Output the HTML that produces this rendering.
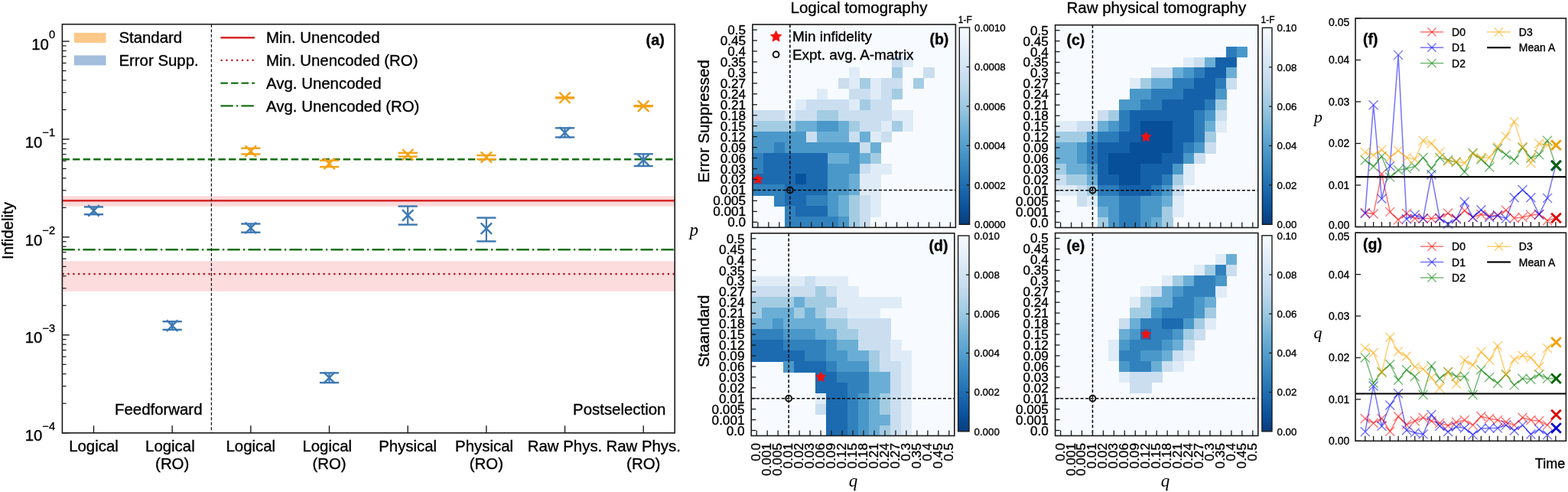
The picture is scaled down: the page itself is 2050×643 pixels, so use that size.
<!DOCTYPE html>
<html><head><meta charset="utf-8"><title>Figure</title>
<style>html,body{margin:0;padding:0;background:#fff;}svg{display:block;} svg text{stroke:#000;stroke-width:0.35px;}</style></head>
<body><svg width="2050" height="643" viewBox="0 0 2050 643">
<rect width="2050" height="643" fill="#ffffff"/>
<rect x="81.4" y="256.4" width="800.8" height="13.2" fill="#fbd9d9" stroke="none" stroke-width="0" />
<rect x="81.4" y="341.3" width="800.8" height="39.5" fill="#fcdcdc" stroke="none" stroke-width="0" />
<line x1="81.4" y1="262.2" x2="882.2" y2="262.2" stroke="#d62728" stroke-width="2.4" />
<line x1="82.7" y1="358.1" x2="882.2" y2="358.1" stroke="#b81c26" stroke-width="2.7" stroke-dasharray="0.01 6.81" stroke-linecap="round"/>
<line x1="81.4" y1="208.2" x2="882.2" y2="208.2" stroke="#167016" stroke-width="2.6" stroke-dasharray="9.5 4.1"/>
<line x1="81.4" y1="326.2" x2="882.2" y2="326.2" stroke="#167016" stroke-width="2.6" stroke-dasharray="16.4 4.1 2.4 4.1"/>
<line x1="276.4" y1="31.7" x2="276.4" y2="565.8" stroke="#111" stroke-width="1.2" stroke-dasharray="4 2.5"/>
<line x1="122.5" y1="270.4" x2="122.5" y2="280.2" stroke="#3d78b2" stroke-width="2.2" />
<line x1="109.9" y1="270.4" x2="135.1" y2="270.4" stroke="#3d78b2" stroke-width="2.4" />
<line x1="109.9" y1="280.2" x2="135.1" y2="280.2" stroke="#3d78b2" stroke-width="2.4" />
<line x1="115.3" y1="268.2" x2="129.7" y2="282.6" stroke="#3d78b2" stroke-width="2.4" />
<line x1="115.3" y1="282.6" x2="129.7" y2="268.2" stroke="#3d78b2" stroke-width="2.4" />
<line x1="225.17" y1="420.2" x2="225.17" y2="430.9" stroke="#3d78b2" stroke-width="2.2" />
<line x1="212.57" y1="420.2" x2="237.77" y2="420.2" stroke="#3d78b2" stroke-width="2.4" />
<line x1="212.57" y1="430.9" x2="237.77" y2="430.9" stroke="#3d78b2" stroke-width="2.4" />
<line x1="217.97" y1="418.4" x2="232.37" y2="432.8" stroke="#3d78b2" stroke-width="2.4" />
<line x1="217.97" y1="432.8" x2="232.37" y2="418.4" stroke="#3d78b2" stroke-width="2.4" />
<line x1="327.84" y1="292.5" x2="327.84" y2="303.7" stroke="#3d78b2" stroke-width="2.2" />
<line x1="315.24" y1="292.5" x2="340.44" y2="292.5" stroke="#3d78b2" stroke-width="2.4" />
<line x1="315.24" y1="303.7" x2="340.44" y2="303.7" stroke="#3d78b2" stroke-width="2.4" />
<line x1="320.64" y1="290.7" x2="335.04" y2="305.1" stroke="#3d78b2" stroke-width="2.4" />
<line x1="320.64" y1="305.1" x2="335.04" y2="290.7" stroke="#3d78b2" stroke-width="2.4" />
<line x1="430.51" y1="487.4" x2="430.51" y2="500.1" stroke="#3d78b2" stroke-width="2.2" />
<line x1="417.91" y1="487.4" x2="443.11" y2="487.4" stroke="#3d78b2" stroke-width="2.4" />
<line x1="417.91" y1="500.1" x2="443.11" y2="500.1" stroke="#3d78b2" stroke-width="2.4" />
<line x1="423.31" y1="486.4" x2="437.71" y2="500.8" stroke="#3d78b2" stroke-width="2.4" />
<line x1="423.31" y1="500.8" x2="437.71" y2="486.4" stroke="#3d78b2" stroke-width="2.4" />
<line x1="533.18" y1="269.6" x2="533.18" y2="293.6" stroke="#3d78b2" stroke-width="2.2" />
<line x1="520.58" y1="269.6" x2="545.78" y2="269.6" stroke="#3d78b2" stroke-width="2.4" />
<line x1="520.58" y1="293.6" x2="545.78" y2="293.6" stroke="#3d78b2" stroke-width="2.4" />
<line x1="525.98" y1="274.2" x2="540.38" y2="288.6" stroke="#3d78b2" stroke-width="2.4" />
<line x1="525.98" y1="288.6" x2="540.38" y2="274.2" stroke="#3d78b2" stroke-width="2.4" />
<line x1="635.85" y1="284.6" x2="635.85" y2="315.4" stroke="#3d78b2" stroke-width="2.2" />
<line x1="623.25" y1="284.6" x2="648.45" y2="284.6" stroke="#3d78b2" stroke-width="2.4" />
<line x1="623.25" y1="315.4" x2="648.45" y2="315.4" stroke="#3d78b2" stroke-width="2.4" />
<line x1="628.65" y1="291.4" x2="643.05" y2="305.8" stroke="#3d78b2" stroke-width="2.4" />
<line x1="628.65" y1="305.8" x2="643.05" y2="291.4" stroke="#3d78b2" stroke-width="2.4" />
<line x1="738.52" y1="167.3" x2="738.52" y2="179.4" stroke="#3d78b2" stroke-width="2.2" />
<line x1="725.92" y1="167.3" x2="751.12" y2="167.3" stroke="#3d78b2" stroke-width="2.4" />
<line x1="725.92" y1="179.4" x2="751.12" y2="179.4" stroke="#3d78b2" stroke-width="2.4" />
<line x1="731.32" y1="166.1" x2="745.72" y2="180.5" stroke="#3d78b2" stroke-width="2.4" />
<line x1="731.32" y1="180.5" x2="745.72" y2="166.1" stroke="#3d78b2" stroke-width="2.4" />
<line x1="841.19" y1="201.3" x2="841.19" y2="217" stroke="#3d78b2" stroke-width="2.2" />
<line x1="828.59" y1="201.3" x2="853.79" y2="201.3" stroke="#3d78b2" stroke-width="2.4" />
<line x1="828.59" y1="217" x2="853.79" y2="217" stroke="#3d78b2" stroke-width="2.4" />
<line x1="833.99" y1="201.9" x2="848.39" y2="216.3" stroke="#3d78b2" stroke-width="2.4" />
<line x1="833.99" y1="216.3" x2="848.39" y2="201.9" stroke="#3d78b2" stroke-width="2.4" />
<line x1="327.84" y1="193.7" x2="327.84" y2="201.4" stroke="#f3a318" stroke-width="2.2" />
<line x1="315.24" y1="193.7" x2="340.44" y2="193.7" stroke="#f3a318" stroke-width="2.4" />
<line x1="315.24" y1="201.4" x2="340.44" y2="201.4" stroke="#f3a318" stroke-width="2.4" />
<line x1="320.64" y1="190.4" x2="335.04" y2="204.8" stroke="#f3a318" stroke-width="2.4" />
<line x1="320.64" y1="204.8" x2="335.04" y2="190.4" stroke="#f3a318" stroke-width="2.4" />
<line x1="430.51" y1="209.7" x2="430.51" y2="218.1" stroke="#f3a318" stroke-width="2.2" />
<line x1="417.91" y1="209.7" x2="443.11" y2="209.7" stroke="#f3a318" stroke-width="2.4" />
<line x1="417.91" y1="218.1" x2="443.11" y2="218.1" stroke="#f3a318" stroke-width="2.4" />
<line x1="423.31" y1="206.7" x2="437.71" y2="221.1" stroke="#f3a318" stroke-width="2.4" />
<line x1="423.31" y1="221.1" x2="437.71" y2="206.7" stroke="#f3a318" stroke-width="2.4" />
<line x1="533.18" y1="199.8" x2="533.18" y2="204.6" stroke="#f3a318" stroke-width="2.2" />
<line x1="520.58" y1="199.8" x2="545.78" y2="199.8" stroke="#f3a318" stroke-width="2.4" />
<line x1="520.58" y1="204.6" x2="545.78" y2="204.6" stroke="#f3a318" stroke-width="2.4" />
<line x1="525.98" y1="195" x2="540.38" y2="209.4" stroke="#f3a318" stroke-width="2.4" />
<line x1="525.98" y1="209.4" x2="540.38" y2="195" stroke="#f3a318" stroke-width="2.4" />
<line x1="635.85" y1="203" x2="635.85" y2="208.1" stroke="#f3a318" stroke-width="2.2" />
<line x1="623.25" y1="203" x2="648.45" y2="203" stroke="#f3a318" stroke-width="2.4" />
<line x1="623.25" y1="208.1" x2="648.45" y2="208.1" stroke="#f3a318" stroke-width="2.4" />
<line x1="628.65" y1="198.3" x2="643.05" y2="212.7" stroke="#f3a318" stroke-width="2.4" />
<line x1="628.65" y1="212.7" x2="643.05" y2="198.3" stroke="#f3a318" stroke-width="2.4" />
<line x1="738.52" y1="127.3" x2="738.52" y2="128.3" stroke="#f3a318" stroke-width="2.2" />
<line x1="725.92" y1="127.3" x2="751.12" y2="127.3" stroke="#f3a318" stroke-width="2.4" />
<line x1="725.92" y1="128.3" x2="751.12" y2="128.3" stroke="#f3a318" stroke-width="2.4" />
<line x1="731.32" y1="120.6" x2="745.72" y2="135" stroke="#f3a318" stroke-width="2.4" />
<line x1="731.32" y1="135" x2="745.72" y2="120.6" stroke="#f3a318" stroke-width="2.4" />
<line x1="841.19" y1="138.1" x2="841.19" y2="139.1" stroke="#f3a318" stroke-width="2.2" />
<line x1="828.59" y1="138.1" x2="853.79" y2="138.1" stroke="#f3a318" stroke-width="2.4" />
<line x1="828.59" y1="139.1" x2="853.79" y2="139.1" stroke="#f3a318" stroke-width="2.4" />
<line x1="833.99" y1="131.4" x2="848.39" y2="145.8" stroke="#f3a318" stroke-width="2.4" />
<line x1="833.99" y1="145.8" x2="848.39" y2="131.4" stroke="#f3a318" stroke-width="2.4" />
<rect x="81.4" y="31.7" width="800.8" height="534.1" fill="none" stroke="#1a1a1a" stroke-width="1.6" />
<line x1="81.4" y1="565.72" x2="90.7" y2="565.72" stroke="#1a1a1a" stroke-width="1.4" />
<line x1="81.4" y1="527.21" x2="86.6" y2="527.21" stroke="#1a1a1a" stroke-width="1.2" />
<line x1="81.4" y1="504.68" x2="86.6" y2="504.68" stroke="#1a1a1a" stroke-width="1.2" />
<line x1="81.4" y1="488.7" x2="86.6" y2="488.7" stroke="#1a1a1a" stroke-width="1.2" />
<line x1="81.4" y1="476.3" x2="86.6" y2="476.3" stroke="#1a1a1a" stroke-width="1.2" />
<line x1="81.4" y1="466.17" x2="86.6" y2="466.17" stroke="#1a1a1a" stroke-width="1.2" />
<line x1="81.4" y1="457.61" x2="86.6" y2="457.61" stroke="#1a1a1a" stroke-width="1.2" />
<line x1="81.4" y1="450.19" x2="86.6" y2="450.19" stroke="#1a1a1a" stroke-width="1.2" />
<line x1="81.4" y1="443.64" x2="86.6" y2="443.64" stroke="#1a1a1a" stroke-width="1.2" />
<line x1="81.4" y1="437.79" x2="90.7" y2="437.79" stroke="#1a1a1a" stroke-width="1.4" />
<line x1="81.4" y1="399.28" x2="86.6" y2="399.28" stroke="#1a1a1a" stroke-width="1.2" />
<line x1="81.4" y1="376.75" x2="86.6" y2="376.75" stroke="#1a1a1a" stroke-width="1.2" />
<line x1="81.4" y1="360.77" x2="86.6" y2="360.77" stroke="#1a1a1a" stroke-width="1.2" />
<line x1="81.4" y1="348.37" x2="86.6" y2="348.37" stroke="#1a1a1a" stroke-width="1.2" />
<line x1="81.4" y1="338.24" x2="86.6" y2="338.24" stroke="#1a1a1a" stroke-width="1.2" />
<line x1="81.4" y1="329.68" x2="86.6" y2="329.68" stroke="#1a1a1a" stroke-width="1.2" />
<line x1="81.4" y1="322.26" x2="86.6" y2="322.26" stroke="#1a1a1a" stroke-width="1.2" />
<line x1="81.4" y1="315.71" x2="86.6" y2="315.71" stroke="#1a1a1a" stroke-width="1.2" />
<line x1="81.4" y1="309.86" x2="90.7" y2="309.86" stroke="#1a1a1a" stroke-width="1.4" />
<line x1="81.4" y1="271.35" x2="86.6" y2="271.35" stroke="#1a1a1a" stroke-width="1.2" />
<line x1="81.4" y1="248.82" x2="86.6" y2="248.82" stroke="#1a1a1a" stroke-width="1.2" />
<line x1="81.4" y1="232.84" x2="86.6" y2="232.84" stroke="#1a1a1a" stroke-width="1.2" />
<line x1="81.4" y1="220.44" x2="86.6" y2="220.44" stroke="#1a1a1a" stroke-width="1.2" />
<line x1="81.4" y1="210.31" x2="86.6" y2="210.31" stroke="#1a1a1a" stroke-width="1.2" />
<line x1="81.4" y1="201.75" x2="86.6" y2="201.75" stroke="#1a1a1a" stroke-width="1.2" />
<line x1="81.4" y1="194.33" x2="86.6" y2="194.33" stroke="#1a1a1a" stroke-width="1.2" />
<line x1="81.4" y1="187.78" x2="86.6" y2="187.78" stroke="#1a1a1a" stroke-width="1.2" />
<line x1="81.4" y1="181.93" x2="90.7" y2="181.93" stroke="#1a1a1a" stroke-width="1.4" />
<line x1="81.4" y1="143.42" x2="86.6" y2="143.42" stroke="#1a1a1a" stroke-width="1.2" />
<line x1="81.4" y1="120.89" x2="86.6" y2="120.89" stroke="#1a1a1a" stroke-width="1.2" />
<line x1="81.4" y1="104.91" x2="86.6" y2="104.91" stroke="#1a1a1a" stroke-width="1.2" />
<line x1="81.4" y1="92.51" x2="86.6" y2="92.51" stroke="#1a1a1a" stroke-width="1.2" />
<line x1="81.4" y1="82.38" x2="86.6" y2="82.38" stroke="#1a1a1a" stroke-width="1.2" />
<line x1="81.4" y1="73.82" x2="86.6" y2="73.82" stroke="#1a1a1a" stroke-width="1.2" />
<line x1="81.4" y1="66.4" x2="86.6" y2="66.4" stroke="#1a1a1a" stroke-width="1.2" />
<line x1="81.4" y1="59.85" x2="86.6" y2="59.85" stroke="#1a1a1a" stroke-width="1.2" />
<line x1="81.4" y1="54" x2="90.7" y2="54" stroke="#1a1a1a" stroke-width="1.4" />
<text x="72" y="576.42" font-family="Liberation Sans, Arial, sans-serif" font-size="20.4" text-anchor="end" fill="#000">10<tspan dy="-14.2" font-size="14.6">&#8722;4</tspan></text>
<text x="72" y="448.49" font-family="Liberation Sans, Arial, sans-serif" font-size="20.4" text-anchor="end" fill="#000">10<tspan dy="-14.2" font-size="14.6">&#8722;3</tspan></text>
<text x="72" y="320.56" font-family="Liberation Sans, Arial, sans-serif" font-size="20.4" text-anchor="end" fill="#000">10<tspan dy="-14.2" font-size="14.6">&#8722;2</tspan></text>
<text x="72" y="192.63" font-family="Liberation Sans, Arial, sans-serif" font-size="20.4" text-anchor="end" fill="#000">10<tspan dy="-14.2" font-size="14.6">&#8722;1</tspan></text>
<text x="72" y="64.7" font-family="Liberation Sans, Arial, sans-serif" font-size="20.4" text-anchor="end" fill="#000">10<tspan dy="-14.2" font-size="14.6">0</tspan></text>
<line x1="122.5" y1="565.8" x2="122.5" y2="556.3" stroke="#1a1a1a" stroke-width="1.4" />
<text transform="translate(122.5,589.7)" font-family="&quot;Liberation Sans&quot;, Arial, Helvetica, sans-serif" font-size="20.4" font-weight="normal" font-style="normal" text-anchor="middle" fill="#000" >Logical</text>
<line x1="225.17" y1="565.8" x2="225.17" y2="556.3" stroke="#1a1a1a" stroke-width="1.4" />
<text transform="translate(222.37,589.7)" font-family="&quot;Liberation Sans&quot;, Arial, Helvetica, sans-serif" font-size="20.4" font-weight="normal" font-style="normal" text-anchor="middle" fill="#000" >Logical</text>
<text transform="translate(225.17,612.6)" font-family="&quot;Liberation Sans&quot;, Arial, Helvetica, sans-serif" font-size="20.4" font-weight="normal" font-style="normal" text-anchor="middle" fill="#000" >(RO)</text>
<line x1="327.84" y1="565.8" x2="327.84" y2="556.3" stroke="#1a1a1a" stroke-width="1.4" />
<text transform="translate(327.84,589.7)" font-family="&quot;Liberation Sans&quot;, Arial, Helvetica, sans-serif" font-size="20.4" font-weight="normal" font-style="normal" text-anchor="middle" fill="#000" >Logical</text>
<line x1="430.51" y1="565.8" x2="430.51" y2="556.3" stroke="#1a1a1a" stroke-width="1.4" />
<text transform="translate(427.71,589.7)" font-family="&quot;Liberation Sans&quot;, Arial, Helvetica, sans-serif" font-size="20.4" font-weight="normal" font-style="normal" text-anchor="middle" fill="#000" >Logical</text>
<text transform="translate(430.51,612.6)" font-family="&quot;Liberation Sans&quot;, Arial, Helvetica, sans-serif" font-size="20.4" font-weight="normal" font-style="normal" text-anchor="middle" fill="#000" >(RO)</text>
<line x1="533.18" y1="565.8" x2="533.18" y2="556.3" stroke="#1a1a1a" stroke-width="1.4" />
<text transform="translate(533.18,589.7)" font-family="&quot;Liberation Sans&quot;, Arial, Helvetica, sans-serif" font-size="20.4" font-weight="normal" font-style="normal" text-anchor="middle" fill="#000" >Physical</text>
<line x1="635.85" y1="565.8" x2="635.85" y2="556.3" stroke="#1a1a1a" stroke-width="1.4" />
<text transform="translate(633.05,589.7)" font-family="&quot;Liberation Sans&quot;, Arial, Helvetica, sans-serif" font-size="20.4" font-weight="normal" font-style="normal" text-anchor="middle" fill="#000" >Physical</text>
<text transform="translate(635.85,612.6)" font-family="&quot;Liberation Sans&quot;, Arial, Helvetica, sans-serif" font-size="20.4" font-weight="normal" font-style="normal" text-anchor="middle" fill="#000" >(RO)</text>
<line x1="738.52" y1="565.8" x2="738.52" y2="556.3" stroke="#1a1a1a" stroke-width="1.4" />
<text transform="translate(738.52,589.7)" font-family="&quot;Liberation Sans&quot;, Arial, Helvetica, sans-serif" font-size="20.4" font-weight="normal" font-style="normal" text-anchor="middle" fill="#000" >Raw Phys.</text>
<line x1="841.19" y1="565.8" x2="841.19" y2="556.3" stroke="#1a1a1a" stroke-width="1.4" />
<text transform="translate(841.19,589.7)" font-family="&quot;Liberation Sans&quot;, Arial, Helvetica, sans-serif" font-size="20.4" font-weight="normal" font-style="normal" text-anchor="middle" fill="#000" >Raw Phys.</text>
<text transform="translate(841.19,612.6)" font-family="&quot;Liberation Sans&quot;, Arial, Helvetica, sans-serif" font-size="20.4" font-weight="normal" font-style="normal" text-anchor="middle" fill="#000" >(RO)</text>
<text transform="translate(16.8,301.5) rotate(-90)" font-family="&quot;Liberation Sans&quot;, Arial, Helvetica, sans-serif" font-size="20.4" font-weight="normal" font-style="normal" text-anchor="middle" fill="#000" >Infidelity</text>
<text transform="translate(264.5,542.1)" font-family="&quot;Liberation Sans&quot;, Arial, Helvetica, sans-serif" font-size="20.4" font-weight="normal" font-style="normal" text-anchor="end" fill="#000" >Feedforward</text>
<text transform="translate(870.4,542.1)" font-family="&quot;Liberation Sans&quot;, Arial, Helvetica, sans-serif" font-size="20.4" font-weight="normal" font-style="normal" text-anchor="end" fill="#000" >Postselection</text>
<text transform="translate(868.8,58.9)" font-family="&quot;Liberation Sans&quot;, Arial, Helvetica, sans-serif" font-size="19.8" font-weight="bold" font-style="normal" text-anchor="end" fill="#000" >(a)</text>
<rect x="96.9" y="42.9" width="41.6" height="13" fill="#fdc888" stroke="none" stroke-width="0" />
<rect x="96.9" y="72.4" width="41.6" height="13" fill="#a2bedc" stroke="none" stroke-width="0" />
<text transform="translate(155.4,56.2)" font-family="&quot;Liberation Sans&quot;, Arial, Helvetica, sans-serif" font-size="20.4" font-weight="normal" font-style="normal" text-anchor="start" fill="#000" >Standard</text>
<text transform="translate(155.4,85.9)" font-family="&quot;Liberation Sans&quot;, Arial, Helvetica, sans-serif" font-size="20.4" font-weight="normal" font-style="normal" text-anchor="start" fill="#000" >Error Supp.</text>
<line x1="288.4" y1="49.3" x2="332.9" y2="49.3" stroke="#d62728" stroke-width="2.4" />
<line x1="289.7" y1="78.8" x2="332.9" y2="78.8" stroke="#c01c26" stroke-width="2.6" stroke-dasharray="0.01 6.81" stroke-linecap="round"/>
<line x1="288.4" y1="108.7" x2="332.9" y2="108.7" stroke="#167016" stroke-width="2.3" stroke-dasharray="9.5 4.1"/>
<line x1="288.4" y1="138.4" x2="332.9" y2="138.4" stroke="#167016" stroke-width="2.3" stroke-dasharray="16.4 4.1 2.4 4.1"/>
<text transform="translate(348.1,56.3)" font-family="&quot;Liberation Sans&quot;, Arial, Helvetica, sans-serif" font-size="20.4" font-weight="normal" font-style="normal" text-anchor="start" fill="#000" >Min. Unencoded</text>
<text transform="translate(348.1,86.2)" font-family="&quot;Liberation Sans&quot;, Arial, Helvetica, sans-serif" font-size="20.4" font-weight="normal" font-style="normal" text-anchor="start" fill="#000" >Min. Unencoded (RO)</text>
<text transform="translate(348.1,116.1)" font-family="&quot;Liberation Sans&quot;, Arial, Helvetica, sans-serif" font-size="20.4" font-weight="normal" font-style="normal" text-anchor="start" fill="#000" >Avg. Unencoded</text>
<text transform="translate(348.1,146)" font-family="&quot;Liberation Sans&quot;, Arial, Helvetica, sans-serif" font-size="20.4" font-weight="normal" font-style="normal" text-anchor="start" fill="#000" >Avg. Unencoded (RO)</text>
<rect x="983.9" y="32" width="265.5" height="265.3" fill="#f7fbff" stroke="none" stroke-width="0" />
<rect x="1165.56" y="73.89" width="14.57" height="14.56" fill="#cadef0" stroke="none" stroke-width="0" shape-rendering="crispEdges"/>
<rect x="1179.53" y="73.89" width="14.57" height="14.56" fill="#dfecf7" stroke="none" stroke-width="0" shape-rendering="crispEdges"/>
<rect x="1109.66" y="87.85" width="14.57" height="14.56" fill="#dfecf7" stroke="none" stroke-width="0" shape-rendering="crispEdges"/>
<rect x="1165.56" y="87.85" width="14.57" height="14.56" fill="#a3cce3" stroke="none" stroke-width="0" shape-rendering="crispEdges"/>
<rect x="1207.48" y="87.85" width="14.57" height="14.56" fill="#cadef0" stroke="none" stroke-width="0" shape-rendering="crispEdges"/>
<rect x="1095.69" y="101.82" width="14.57" height="14.56" fill="#cadef0" stroke="none" stroke-width="0" shape-rendering="crispEdges"/>
<rect x="1109.66" y="101.82" width="14.57" height="14.56" fill="#dfecf7" stroke="none" stroke-width="0" shape-rendering="crispEdges"/>
<rect x="1123.64" y="101.82" width="14.57" height="14.56" fill="#a3cce3" stroke="none" stroke-width="0" shape-rendering="crispEdges"/>
<rect x="1137.61" y="101.82" width="14.57" height="14.56" fill="#dfecf7" stroke="none" stroke-width="0" shape-rendering="crispEdges"/>
<rect x="1151.58" y="101.82" width="14.57" height="14.56" fill="#cadef0" stroke="none" stroke-width="0" shape-rendering="crispEdges"/>
<rect x="1165.56" y="101.82" width="14.57" height="14.56" fill="#cadef0" stroke="none" stroke-width="0" shape-rendering="crispEdges"/>
<rect x="1193.51" y="101.82" width="14.57" height="14.56" fill="#a3cce3" stroke="none" stroke-width="0" shape-rendering="crispEdges"/>
<rect x="1067.74" y="115.78" width="14.57" height="14.56" fill="#dfecf7" stroke="none" stroke-width="0" shape-rendering="crispEdges"/>
<rect x="1109.66" y="115.78" width="14.57" height="14.56" fill="#cadef0" stroke="none" stroke-width="0" shape-rendering="crispEdges"/>
<rect x="1123.64" y="115.78" width="14.57" height="14.56" fill="#cadef0" stroke="none" stroke-width="0" shape-rendering="crispEdges"/>
<rect x="1137.61" y="115.78" width="14.57" height="14.56" fill="#dfecf7" stroke="none" stroke-width="0" shape-rendering="crispEdges"/>
<rect x="1151.58" y="115.78" width="14.57" height="14.56" fill="#cadef0" stroke="none" stroke-width="0" shape-rendering="crispEdges"/>
<rect x="1165.56" y="115.78" width="14.57" height="14.56" fill="#a3cce3" stroke="none" stroke-width="0" shape-rendering="crispEdges"/>
<rect x="1039.79" y="129.74" width="14.57" height="14.56" fill="#dfecf7" stroke="none" stroke-width="0" shape-rendering="crispEdges"/>
<rect x="1053.77" y="129.74" width="14.57" height="14.56" fill="#cadef0" stroke="none" stroke-width="0" shape-rendering="crispEdges"/>
<rect x="1067.74" y="129.74" width="14.57" height="14.56" fill="#cadef0" stroke="none" stroke-width="0" shape-rendering="crispEdges"/>
<rect x="1081.72" y="129.74" width="14.57" height="14.56" fill="#cadef0" stroke="none" stroke-width="0" shape-rendering="crispEdges"/>
<rect x="1095.69" y="129.74" width="14.57" height="14.56" fill="#cadef0" stroke="none" stroke-width="0" shape-rendering="crispEdges"/>
<rect x="1109.66" y="129.74" width="14.57" height="14.56" fill="#dfecf7" stroke="none" stroke-width="0" shape-rendering="crispEdges"/>
<rect x="1123.64" y="129.74" width="14.57" height="14.56" fill="#a3cce3" stroke="none" stroke-width="0" shape-rendering="crispEdges"/>
<rect x="1137.61" y="129.74" width="14.57" height="14.56" fill="#cadef0" stroke="none" stroke-width="0" shape-rendering="crispEdges"/>
<rect x="1151.58" y="129.74" width="14.57" height="14.56" fill="#cadef0" stroke="none" stroke-width="0" shape-rendering="crispEdges"/>
<rect x="983.9" y="143.71" width="14.57" height="14.56" fill="#cadef0" stroke="none" stroke-width="0" shape-rendering="crispEdges"/>
<rect x="997.87" y="143.71" width="14.57" height="14.56" fill="#cadef0" stroke="none" stroke-width="0" shape-rendering="crispEdges"/>
<rect x="1011.85" y="143.71" width="14.57" height="14.56" fill="#cadef0" stroke="none" stroke-width="0" shape-rendering="crispEdges"/>
<rect x="1025.82" y="143.71" width="14.57" height="14.56" fill="#dfecf7" stroke="none" stroke-width="0" shape-rendering="crispEdges"/>
<rect x="1039.79" y="143.71" width="14.57" height="14.56" fill="#cadef0" stroke="none" stroke-width="0" shape-rendering="crispEdges"/>
<rect x="1053.77" y="143.71" width="14.57" height="14.56" fill="#cadef0" stroke="none" stroke-width="0" shape-rendering="crispEdges"/>
<rect x="1067.74" y="143.71" width="14.57" height="14.56" fill="#a3cce3" stroke="none" stroke-width="0" shape-rendering="crispEdges"/>
<rect x="1081.72" y="143.71" width="14.57" height="14.56" fill="#a3cce3" stroke="none" stroke-width="0" shape-rendering="crispEdges"/>
<rect x="1095.69" y="143.71" width="14.57" height="14.56" fill="#cadef0" stroke="none" stroke-width="0" shape-rendering="crispEdges"/>
<rect x="1109.66" y="143.71" width="14.57" height="14.56" fill="#cadef0" stroke="none" stroke-width="0" shape-rendering="crispEdges"/>
<rect x="1123.64" y="143.71" width="14.57" height="14.56" fill="#cadef0" stroke="none" stroke-width="0" shape-rendering="crispEdges"/>
<rect x="1137.61" y="143.71" width="14.57" height="14.56" fill="#cadef0" stroke="none" stroke-width="0" shape-rendering="crispEdges"/>
<rect x="1151.58" y="143.71" width="14.57" height="14.56" fill="#cadef0" stroke="none" stroke-width="0" shape-rendering="crispEdges"/>
<rect x="1165.56" y="143.71" width="14.57" height="14.56" fill="#dfecf7" stroke="none" stroke-width="0" shape-rendering="crispEdges"/>
<rect x="1179.53" y="143.71" width="14.57" height="14.56" fill="#dfecf7" stroke="none" stroke-width="0" shape-rendering="crispEdges"/>
<rect x="983.9" y="157.67" width="14.57" height="14.56" fill="#a3cce3" stroke="none" stroke-width="0" shape-rendering="crispEdges"/>
<rect x="997.87" y="157.67" width="14.57" height="14.56" fill="#a3cce3" stroke="none" stroke-width="0" shape-rendering="crispEdges"/>
<rect x="1011.85" y="157.67" width="14.57" height="14.56" fill="#a3cce3" stroke="none" stroke-width="0" shape-rendering="crispEdges"/>
<rect x="1025.82" y="157.67" width="14.57" height="14.56" fill="#a3cce3" stroke="none" stroke-width="0" shape-rendering="crispEdges"/>
<rect x="1039.79" y="157.67" width="14.57" height="14.56" fill="#6aaed6" stroke="none" stroke-width="0" shape-rendering="crispEdges"/>
<rect x="1053.77" y="157.67" width="14.57" height="14.56" fill="#6aaed6" stroke="none" stroke-width="0" shape-rendering="crispEdges"/>
<rect x="1067.74" y="157.67" width="14.57" height="14.56" fill="#4a98c9" stroke="none" stroke-width="0" shape-rendering="crispEdges"/>
<rect x="1081.72" y="157.67" width="14.57" height="14.56" fill="#4a98c9" stroke="none" stroke-width="0" shape-rendering="crispEdges"/>
<rect x="1095.69" y="157.67" width="14.57" height="14.56" fill="#6aaed6" stroke="none" stroke-width="0" shape-rendering="crispEdges"/>
<rect x="1109.66" y="157.67" width="14.57" height="14.56" fill="#a3cce3" stroke="none" stroke-width="0" shape-rendering="crispEdges"/>
<rect x="1123.64" y="157.67" width="14.57" height="14.56" fill="#cadef0" stroke="none" stroke-width="0" shape-rendering="crispEdges"/>
<rect x="1137.61" y="157.67" width="14.57" height="14.56" fill="#cadef0" stroke="none" stroke-width="0" shape-rendering="crispEdges"/>
<rect x="1151.58" y="157.67" width="14.57" height="14.56" fill="#dfecf7" stroke="none" stroke-width="0" shape-rendering="crispEdges"/>
<rect x="1165.56" y="157.67" width="14.57" height="14.56" fill="#a3cce3" stroke="none" stroke-width="0" shape-rendering="crispEdges"/>
<rect x="1179.53" y="157.67" width="14.57" height="14.56" fill="#dfecf7" stroke="none" stroke-width="0" shape-rendering="crispEdges"/>
<rect x="983.9" y="171.63" width="14.57" height="14.56" fill="#4a98c9" stroke="none" stroke-width="0" shape-rendering="crispEdges"/>
<rect x="997.87" y="171.63" width="14.57" height="14.56" fill="#4a98c9" stroke="none" stroke-width="0" shape-rendering="crispEdges"/>
<rect x="1011.85" y="171.63" width="14.57" height="14.56" fill="#4a98c9" stroke="none" stroke-width="0" shape-rendering="crispEdges"/>
<rect x="1025.82" y="171.63" width="14.57" height="14.56" fill="#4a98c9" stroke="none" stroke-width="0" shape-rendering="crispEdges"/>
<rect x="1039.79" y="171.63" width="14.57" height="14.56" fill="#4a98c9" stroke="none" stroke-width="0" shape-rendering="crispEdges"/>
<rect x="1053.77" y="171.63" width="14.57" height="14.56" fill="#cadef0" stroke="none" stroke-width="0" shape-rendering="crispEdges"/>
<rect x="1067.74" y="171.63" width="14.57" height="14.56" fill="#6aaed6" stroke="none" stroke-width="0" shape-rendering="crispEdges"/>
<rect x="1081.72" y="171.63" width="14.57" height="14.56" fill="#6aaed6" stroke="none" stroke-width="0" shape-rendering="crispEdges"/>
<rect x="1095.69" y="171.63" width="14.57" height="14.56" fill="#6aaed6" stroke="none" stroke-width="0" shape-rendering="crispEdges"/>
<rect x="1109.66" y="171.63" width="14.57" height="14.56" fill="#cadef0" stroke="none" stroke-width="0" shape-rendering="crispEdges"/>
<rect x="1123.64" y="171.63" width="14.57" height="14.56" fill="#6aaed6" stroke="none" stroke-width="0" shape-rendering="crispEdges"/>
<rect x="1137.61" y="171.63" width="14.57" height="14.56" fill="#dfecf7" stroke="none" stroke-width="0" shape-rendering="crispEdges"/>
<rect x="1151.58" y="171.63" width="14.57" height="14.56" fill="#cadef0" stroke="none" stroke-width="0" shape-rendering="crispEdges"/>
<rect x="983.9" y="185.59" width="14.57" height="14.56" fill="#4a98c9" stroke="none" stroke-width="0" shape-rendering="crispEdges"/>
<rect x="997.87" y="185.59" width="14.57" height="14.56" fill="#4a98c9" stroke="none" stroke-width="0" shape-rendering="crispEdges"/>
<rect x="1011.85" y="185.59" width="14.57" height="14.56" fill="#3181bd" stroke="none" stroke-width="0" shape-rendering="crispEdges"/>
<rect x="1025.82" y="185.59" width="14.57" height="14.56" fill="#4a98c9" stroke="none" stroke-width="0" shape-rendering="crispEdges"/>
<rect x="1039.79" y="185.59" width="14.57" height="14.56" fill="#4a98c9" stroke="none" stroke-width="0" shape-rendering="crispEdges"/>
<rect x="1053.77" y="185.59" width="14.57" height="14.56" fill="#4a98c9" stroke="none" stroke-width="0" shape-rendering="crispEdges"/>
<rect x="1067.74" y="185.59" width="14.57" height="14.56" fill="#4a98c9" stroke="none" stroke-width="0" shape-rendering="crispEdges"/>
<rect x="1081.72" y="185.59" width="14.57" height="14.56" fill="#4a98c9" stroke="none" stroke-width="0" shape-rendering="crispEdges"/>
<rect x="1095.69" y="185.59" width="14.57" height="14.56" fill="#4a98c9" stroke="none" stroke-width="0" shape-rendering="crispEdges"/>
<rect x="1109.66" y="185.59" width="14.57" height="14.56" fill="#4a98c9" stroke="none" stroke-width="0" shape-rendering="crispEdges"/>
<rect x="1123.64" y="185.59" width="14.57" height="14.56" fill="#cadef0" stroke="none" stroke-width="0" shape-rendering="crispEdges"/>
<rect x="1137.61" y="185.59" width="14.57" height="14.56" fill="#6aaed6" stroke="none" stroke-width="0" shape-rendering="crispEdges"/>
<rect x="983.9" y="199.56" width="14.57" height="14.56" fill="#3181bd" stroke="none" stroke-width="0" shape-rendering="crispEdges"/>
<rect x="997.87" y="199.56" width="14.57" height="14.56" fill="#1c6bb0" stroke="none" stroke-width="0" shape-rendering="crispEdges"/>
<rect x="1011.85" y="199.56" width="14.57" height="14.56" fill="#1c6bb0" stroke="none" stroke-width="0" shape-rendering="crispEdges"/>
<rect x="1025.82" y="199.56" width="14.57" height="14.56" fill="#1c6bb0" stroke="none" stroke-width="0" shape-rendering="crispEdges"/>
<rect x="1039.79" y="199.56" width="14.57" height="14.56" fill="#1c6bb0" stroke="none" stroke-width="0" shape-rendering="crispEdges"/>
<rect x="1053.77" y="199.56" width="14.57" height="14.56" fill="#1c6bb0" stroke="none" stroke-width="0" shape-rendering="crispEdges"/>
<rect x="1067.74" y="199.56" width="14.57" height="14.56" fill="#1c6bb0" stroke="none" stroke-width="0" shape-rendering="crispEdges"/>
<rect x="1081.72" y="199.56" width="14.57" height="14.56" fill="#6aaed6" stroke="none" stroke-width="0" shape-rendering="crispEdges"/>
<rect x="1095.69" y="199.56" width="14.57" height="14.56" fill="#6aaed6" stroke="none" stroke-width="0" shape-rendering="crispEdges"/>
<rect x="1109.66" y="199.56" width="14.57" height="14.56" fill="#4a98c9" stroke="none" stroke-width="0" shape-rendering="crispEdges"/>
<rect x="1123.64" y="199.56" width="14.57" height="14.56" fill="#6aaed6" stroke="none" stroke-width="0" shape-rendering="crispEdges"/>
<rect x="1137.61" y="199.56" width="14.57" height="14.56" fill="#a3cce3" stroke="none" stroke-width="0" shape-rendering="crispEdges"/>
<rect x="983.9" y="213.52" width="14.57" height="14.56" fill="#3181bd" stroke="none" stroke-width="0" shape-rendering="crispEdges"/>
<rect x="997.87" y="213.52" width="14.57" height="14.56" fill="#1c6bb0" stroke="none" stroke-width="0" shape-rendering="crispEdges"/>
<rect x="1011.85" y="213.52" width="14.57" height="14.56" fill="#1c6bb0" stroke="none" stroke-width="0" shape-rendering="crispEdges"/>
<rect x="1025.82" y="213.52" width="14.57" height="14.56" fill="#1c6bb0" stroke="none" stroke-width="0" shape-rendering="crispEdges"/>
<rect x="1039.79" y="213.52" width="14.57" height="14.56" fill="#1c6bb0" stroke="none" stroke-width="0" shape-rendering="crispEdges"/>
<rect x="1053.77" y="213.52" width="14.57" height="14.56" fill="#1c6bb0" stroke="none" stroke-width="0" shape-rendering="crispEdges"/>
<rect x="1067.74" y="213.52" width="14.57" height="14.56" fill="#1c6bb0" stroke="none" stroke-width="0" shape-rendering="crispEdges"/>
<rect x="1081.72" y="213.52" width="14.57" height="14.56" fill="#4a98c9" stroke="none" stroke-width="0" shape-rendering="crispEdges"/>
<rect x="1095.69" y="213.52" width="14.57" height="14.56" fill="#4a98c9" stroke="none" stroke-width="0" shape-rendering="crispEdges"/>
<rect x="1109.66" y="213.52" width="14.57" height="14.56" fill="#4a98c9" stroke="none" stroke-width="0" shape-rendering="crispEdges"/>
<rect x="1123.64" y="213.52" width="14.57" height="14.56" fill="#cadef0" stroke="none" stroke-width="0" shape-rendering="crispEdges"/>
<rect x="1137.61" y="213.52" width="14.57" height="14.56" fill="#dfecf7" stroke="none" stroke-width="0" shape-rendering="crispEdges"/>
<rect x="1151.58" y="213.52" width="14.57" height="14.56" fill="#dfecf7" stroke="none" stroke-width="0" shape-rendering="crispEdges"/>
<rect x="983.9" y="227.48" width="14.57" height="14.56" fill="#1c6bb0" stroke="none" stroke-width="0" shape-rendering="crispEdges"/>
<rect x="997.87" y="227.48" width="14.57" height="14.56" fill="#1c6bb0" stroke="none" stroke-width="0" shape-rendering="crispEdges"/>
<rect x="1011.85" y="227.48" width="14.57" height="14.56" fill="#1c6bb0" stroke="none" stroke-width="0" shape-rendering="crispEdges"/>
<rect x="1025.82" y="227.48" width="14.57" height="14.56" fill="#1c6bb0" stroke="none" stroke-width="0" shape-rendering="crispEdges"/>
<rect x="1039.79" y="227.48" width="14.57" height="14.56" fill="#09529d" stroke="none" stroke-width="0" shape-rendering="crispEdges"/>
<rect x="1053.77" y="227.48" width="14.57" height="14.56" fill="#1c6bb0" stroke="none" stroke-width="0" shape-rendering="crispEdges"/>
<rect x="1067.74" y="227.48" width="14.57" height="14.56" fill="#1c6bb0" stroke="none" stroke-width="0" shape-rendering="crispEdges"/>
<rect x="1081.72" y="227.48" width="14.57" height="14.56" fill="#4a98c9" stroke="none" stroke-width="0" shape-rendering="crispEdges"/>
<rect x="1095.69" y="227.48" width="14.57" height="14.56" fill="#4a98c9" stroke="none" stroke-width="0" shape-rendering="crispEdges"/>
<rect x="1109.66" y="227.48" width="14.57" height="14.56" fill="#6aaed6" stroke="none" stroke-width="0" shape-rendering="crispEdges"/>
<rect x="1123.64" y="227.48" width="14.57" height="14.56" fill="#dfecf7" stroke="none" stroke-width="0" shape-rendering="crispEdges"/>
<rect x="1137.61" y="227.48" width="14.57" height="14.56" fill="#dfecf7" stroke="none" stroke-width="0" shape-rendering="crispEdges"/>
<rect x="983.9" y="241.45" width="14.57" height="14.56" fill="#3181bd" stroke="none" stroke-width="0" shape-rendering="crispEdges"/>
<rect x="997.87" y="241.45" width="14.57" height="14.56" fill="#3181bd" stroke="none" stroke-width="0" shape-rendering="crispEdges"/>
<rect x="1011.85" y="241.45" width="14.57" height="14.56" fill="#3181bd" stroke="none" stroke-width="0" shape-rendering="crispEdges"/>
<rect x="1025.82" y="241.45" width="14.57" height="14.56" fill="#1c6bb0" stroke="none" stroke-width="0" shape-rendering="crispEdges"/>
<rect x="1039.79" y="241.45" width="14.57" height="14.56" fill="#1c6bb0" stroke="none" stroke-width="0" shape-rendering="crispEdges"/>
<rect x="1053.77" y="241.45" width="14.57" height="14.56" fill="#1c6bb0" stroke="none" stroke-width="0" shape-rendering="crispEdges"/>
<rect x="1067.74" y="241.45" width="14.57" height="14.56" fill="#1c6bb0" stroke="none" stroke-width="0" shape-rendering="crispEdges"/>
<rect x="1081.72" y="241.45" width="14.57" height="14.56" fill="#4a98c9" stroke="none" stroke-width="0" shape-rendering="crispEdges"/>
<rect x="1095.69" y="241.45" width="14.57" height="14.56" fill="#4a98c9" stroke="none" stroke-width="0" shape-rendering="crispEdges"/>
<rect x="1109.66" y="241.45" width="14.57" height="14.56" fill="#6aaed6" stroke="none" stroke-width="0" shape-rendering="crispEdges"/>
<rect x="1123.64" y="241.45" width="14.57" height="14.56" fill="#dfecf7" stroke="none" stroke-width="0" shape-rendering="crispEdges"/>
<rect x="1137.61" y="241.45" width="14.57" height="14.56" fill="#dfecf7" stroke="none" stroke-width="0" shape-rendering="crispEdges"/>
<rect x="1011.85" y="255.41" width="14.57" height="14.56" fill="#3181bd" stroke="none" stroke-width="0" shape-rendering="crispEdges"/>
<rect x="1025.82" y="255.41" width="14.57" height="14.56" fill="#1c6bb0" stroke="none" stroke-width="0" shape-rendering="crispEdges"/>
<rect x="1039.79" y="255.41" width="14.57" height="14.56" fill="#1c6bb0" stroke="none" stroke-width="0" shape-rendering="crispEdges"/>
<rect x="1053.77" y="255.41" width="14.57" height="14.56" fill="#3181bd" stroke="none" stroke-width="0" shape-rendering="crispEdges"/>
<rect x="1067.74" y="255.41" width="14.57" height="14.56" fill="#3181bd" stroke="none" stroke-width="0" shape-rendering="crispEdges"/>
<rect x="1081.72" y="255.41" width="14.57" height="14.56" fill="#4a98c9" stroke="none" stroke-width="0" shape-rendering="crispEdges"/>
<rect x="1095.69" y="255.41" width="14.57" height="14.56" fill="#6aaed6" stroke="none" stroke-width="0" shape-rendering="crispEdges"/>
<rect x="1109.66" y="255.41" width="14.57" height="14.56" fill="#a3cce3" stroke="none" stroke-width="0" shape-rendering="crispEdges"/>
<rect x="1123.64" y="255.41" width="14.57" height="14.56" fill="#cadef0" stroke="none" stroke-width="0" shape-rendering="crispEdges"/>
<rect x="1137.61" y="255.41" width="14.57" height="14.56" fill="#dfecf7" stroke="none" stroke-width="0" shape-rendering="crispEdges"/>
<rect x="1025.82" y="269.37" width="14.57" height="14.56" fill="#3181bd" stroke="none" stroke-width="0" shape-rendering="crispEdges"/>
<rect x="1039.79" y="269.37" width="14.57" height="14.56" fill="#1c6bb0" stroke="none" stroke-width="0" shape-rendering="crispEdges"/>
<rect x="1053.77" y="269.37" width="14.57" height="14.56" fill="#1c6bb0" stroke="none" stroke-width="0" shape-rendering="crispEdges"/>
<rect x="1067.74" y="269.37" width="14.57" height="14.56" fill="#1c6bb0" stroke="none" stroke-width="0" shape-rendering="crispEdges"/>
<rect x="1081.72" y="269.37" width="14.57" height="14.56" fill="#4a98c9" stroke="none" stroke-width="0" shape-rendering="crispEdges"/>
<rect x="1095.69" y="269.37" width="14.57" height="14.56" fill="#6aaed6" stroke="none" stroke-width="0" shape-rendering="crispEdges"/>
<rect x="1109.66" y="269.37" width="14.57" height="14.56" fill="#a3cce3" stroke="none" stroke-width="0" shape-rendering="crispEdges"/>
<rect x="1123.64" y="269.37" width="14.57" height="14.56" fill="#cadef0" stroke="none" stroke-width="0" shape-rendering="crispEdges"/>
<rect x="1137.61" y="269.37" width="14.57" height="14.56" fill="#dfecf7" stroke="none" stroke-width="0" shape-rendering="crispEdges"/>
<rect x="1025.82" y="283.34" width="14.57" height="14.56" fill="#3181bd" stroke="none" stroke-width="0" shape-rendering="crispEdges"/>
<rect x="1039.79" y="283.34" width="14.57" height="14.56" fill="#3181bd" stroke="none" stroke-width="0" shape-rendering="crispEdges"/>
<rect x="1053.77" y="283.34" width="14.57" height="14.56" fill="#3181bd" stroke="none" stroke-width="0" shape-rendering="crispEdges"/>
<rect x="1067.74" y="283.34" width="14.57" height="14.56" fill="#3181bd" stroke="none" stroke-width="0" shape-rendering="crispEdges"/>
<rect x="1081.72" y="283.34" width="14.57" height="14.56" fill="#3181bd" stroke="none" stroke-width="0" shape-rendering="crispEdges"/>
<rect x="1095.69" y="283.34" width="14.57" height="14.56" fill="#4a98c9" stroke="none" stroke-width="0" shape-rendering="crispEdges"/>
<rect x="1109.66" y="283.34" width="14.57" height="14.56" fill="#a3cce3" stroke="none" stroke-width="0" shape-rendering="crispEdges"/>
<rect x="1123.64" y="283.34" width="14.57" height="14.56" fill="#cadef0" stroke="none" stroke-width="0" shape-rendering="crispEdges"/>
<line x1="1032.81" y1="32" x2="1032.81" y2="297.3" stroke="#000" stroke-width="1.5" stroke-dasharray="4 2.6"/>
<line x1="983.9" y1="248.43" x2="1249.4" y2="248.43" stroke="#000" stroke-width="1.5" stroke-dasharray="4 2.6"/>
<circle cx="1032.81" cy="248.43" r="3.9" fill="none" stroke="#111" stroke-width="2"/>
<polygon points="990.89,227.37 992.97,231.59 997.64,232.27 994.26,235.56 995.06,240.21 990.89,238.02 986.71,240.21 987.51,235.56 984.13,232.27 988.8,231.59" fill="#f50f0f" stroke="#f50f0f" stroke-width="0.6"/>
<rect x="983.9" y="32" width="265.5" height="265.3" fill="none" stroke="#1a1a1a" stroke-width="1.6" />
<line x1="983.9" y1="38.98" x2="989.9" y2="38.98" stroke="#1a1a1a" stroke-width="1.3" />
<text transform="translate(975.1,44.98)" font-family="&quot;Liberation Sans&quot;, Arial, Helvetica, sans-serif" font-size="17.1" font-weight="normal" font-style="normal" text-anchor="end" fill="#000" >0.5</text>
<line x1="990.89" y1="297.3" x2="990.89" y2="290.3" stroke="#1a1a1a" stroke-width="1.3" />
<text transform="translate(995.89,306.9) rotate(-90)" font-family="&quot;Liberation Sans&quot;, Arial, Helvetica, sans-serif" font-size="17.1" font-weight="normal" font-style="normal" text-anchor="end" fill="#000" >0.0</text>
<line x1="983.9" y1="52.94" x2="989.9" y2="52.94" stroke="#1a1a1a" stroke-width="1.3" />
<text transform="translate(975.1,58.94)" font-family="&quot;Liberation Sans&quot;, Arial, Helvetica, sans-serif" font-size="17.1" font-weight="normal" font-style="normal" text-anchor="end" fill="#000" >0.45</text>
<line x1="1004.86" y1="297.3" x2="1004.86" y2="290.3" stroke="#1a1a1a" stroke-width="1.3" />
<text transform="translate(1009.86,306.9) rotate(-90)" font-family="&quot;Liberation Sans&quot;, Arial, Helvetica, sans-serif" font-size="17.1" font-weight="normal" font-style="normal" text-anchor="end" fill="#000" >0.001</text>
<line x1="983.9" y1="66.91" x2="989.9" y2="66.91" stroke="#1a1a1a" stroke-width="1.3" />
<text transform="translate(975.1,72.91)" font-family="&quot;Liberation Sans&quot;, Arial, Helvetica, sans-serif" font-size="17.1" font-weight="normal" font-style="normal" text-anchor="end" fill="#000" >0.4</text>
<line x1="1018.83" y1="297.3" x2="1018.83" y2="290.3" stroke="#1a1a1a" stroke-width="1.3" />
<text transform="translate(1023.83,306.9) rotate(-90)" font-family="&quot;Liberation Sans&quot;, Arial, Helvetica, sans-serif" font-size="17.1" font-weight="normal" font-style="normal" text-anchor="end" fill="#000" >0.005</text>
<line x1="983.9" y1="80.87" x2="989.9" y2="80.87" stroke="#1a1a1a" stroke-width="1.3" />
<text transform="translate(975.1,86.87)" font-family="&quot;Liberation Sans&quot;, Arial, Helvetica, sans-serif" font-size="17.1" font-weight="normal" font-style="normal" text-anchor="end" fill="#000" >0.35</text>
<line x1="1032.81" y1="297.3" x2="1032.81" y2="290.3" stroke="#1a1a1a" stroke-width="1.3" />
<text transform="translate(1037.81,306.9) rotate(-90)" font-family="&quot;Liberation Sans&quot;, Arial, Helvetica, sans-serif" font-size="17.1" font-weight="normal" font-style="normal" text-anchor="end" fill="#000" >0.01</text>
<line x1="983.9" y1="94.83" x2="989.9" y2="94.83" stroke="#1a1a1a" stroke-width="1.3" />
<text transform="translate(975.1,100.83)" font-family="&quot;Liberation Sans&quot;, Arial, Helvetica, sans-serif" font-size="17.1" font-weight="normal" font-style="normal" text-anchor="end" fill="#000" >0.3</text>
<line x1="1046.78" y1="297.3" x2="1046.78" y2="290.3" stroke="#1a1a1a" stroke-width="1.3" />
<text transform="translate(1051.78,306.9) rotate(-90)" font-family="&quot;Liberation Sans&quot;, Arial, Helvetica, sans-serif" font-size="17.1" font-weight="normal" font-style="normal" text-anchor="end" fill="#000" >0.02</text>
<line x1="983.9" y1="108.8" x2="989.9" y2="108.8" stroke="#1a1a1a" stroke-width="1.3" />
<text transform="translate(975.1,114.8)" font-family="&quot;Liberation Sans&quot;, Arial, Helvetica, sans-serif" font-size="17.1" font-weight="normal" font-style="normal" text-anchor="end" fill="#000" >0.27</text>
<line x1="1060.76" y1="297.3" x2="1060.76" y2="290.3" stroke="#1a1a1a" stroke-width="1.3" />
<text transform="translate(1065.76,306.9) rotate(-90)" font-family="&quot;Liberation Sans&quot;, Arial, Helvetica, sans-serif" font-size="17.1" font-weight="normal" font-style="normal" text-anchor="end" fill="#000" >0.03</text>
<line x1="983.9" y1="122.76" x2="989.9" y2="122.76" stroke="#1a1a1a" stroke-width="1.3" />
<text transform="translate(975.1,128.76)" font-family="&quot;Liberation Sans&quot;, Arial, Helvetica, sans-serif" font-size="17.1" font-weight="normal" font-style="normal" text-anchor="end" fill="#000" >0.24</text>
<line x1="1074.73" y1="297.3" x2="1074.73" y2="290.3" stroke="#1a1a1a" stroke-width="1.3" />
<text transform="translate(1079.73,306.9) rotate(-90)" font-family="&quot;Liberation Sans&quot;, Arial, Helvetica, sans-serif" font-size="17.1" font-weight="normal" font-style="normal" text-anchor="end" fill="#000" >0.06</text>
<line x1="983.9" y1="136.72" x2="989.9" y2="136.72" stroke="#1a1a1a" stroke-width="1.3" />
<text transform="translate(975.1,142.72)" font-family="&quot;Liberation Sans&quot;, Arial, Helvetica, sans-serif" font-size="17.1" font-weight="normal" font-style="normal" text-anchor="end" fill="#000" >0.21</text>
<line x1="1088.7" y1="297.3" x2="1088.7" y2="290.3" stroke="#1a1a1a" stroke-width="1.3" />
<text transform="translate(1093.7,306.9) rotate(-90)" font-family="&quot;Liberation Sans&quot;, Arial, Helvetica, sans-serif" font-size="17.1" font-weight="normal" font-style="normal" text-anchor="end" fill="#000" >0.09</text>
<line x1="983.9" y1="150.69" x2="989.9" y2="150.69" stroke="#1a1a1a" stroke-width="1.3" />
<text transform="translate(975.1,156.69)" font-family="&quot;Liberation Sans&quot;, Arial, Helvetica, sans-serif" font-size="17.1" font-weight="normal" font-style="normal" text-anchor="end" fill="#000" >0.18</text>
<line x1="1102.68" y1="297.3" x2="1102.68" y2="290.3" stroke="#1a1a1a" stroke-width="1.3" />
<text transform="translate(1107.68,306.9) rotate(-90)" font-family="&quot;Liberation Sans&quot;, Arial, Helvetica, sans-serif" font-size="17.1" font-weight="normal" font-style="normal" text-anchor="end" fill="#000" >0.12</text>
<line x1="983.9" y1="164.65" x2="989.9" y2="164.65" stroke="#1a1a1a" stroke-width="1.3" />
<text transform="translate(975.1,170.65)" font-family="&quot;Liberation Sans&quot;, Arial, Helvetica, sans-serif" font-size="17.1" font-weight="normal" font-style="normal" text-anchor="end" fill="#000" >0.15</text>
<line x1="1116.65" y1="297.3" x2="1116.65" y2="290.3" stroke="#1a1a1a" stroke-width="1.3" />
<text transform="translate(1121.65,306.9) rotate(-90)" font-family="&quot;Liberation Sans&quot;, Arial, Helvetica, sans-serif" font-size="17.1" font-weight="normal" font-style="normal" text-anchor="end" fill="#000" >0.15</text>
<line x1="983.9" y1="178.61" x2="989.9" y2="178.61" stroke="#1a1a1a" stroke-width="1.3" />
<text transform="translate(975.1,184.61)" font-family="&quot;Liberation Sans&quot;, Arial, Helvetica, sans-serif" font-size="17.1" font-weight="normal" font-style="normal" text-anchor="end" fill="#000" >0.12</text>
<line x1="1130.62" y1="297.3" x2="1130.62" y2="290.3" stroke="#1a1a1a" stroke-width="1.3" />
<text transform="translate(1135.62,306.9) rotate(-90)" font-family="&quot;Liberation Sans&quot;, Arial, Helvetica, sans-serif" font-size="17.1" font-weight="normal" font-style="normal" text-anchor="end" fill="#000" >0.18</text>
<line x1="983.9" y1="192.58" x2="989.9" y2="192.58" stroke="#1a1a1a" stroke-width="1.3" />
<text transform="translate(975.1,198.58)" font-family="&quot;Liberation Sans&quot;, Arial, Helvetica, sans-serif" font-size="17.1" font-weight="normal" font-style="normal" text-anchor="end" fill="#000" >0.09</text>
<line x1="1144.6" y1="297.3" x2="1144.6" y2="290.3" stroke="#1a1a1a" stroke-width="1.3" />
<text transform="translate(1149.6,306.9) rotate(-90)" font-family="&quot;Liberation Sans&quot;, Arial, Helvetica, sans-serif" font-size="17.1" font-weight="normal" font-style="normal" text-anchor="end" fill="#000" >0.21</text>
<line x1="983.9" y1="206.54" x2="989.9" y2="206.54" stroke="#1a1a1a" stroke-width="1.3" />
<text transform="translate(975.1,212.54)" font-family="&quot;Liberation Sans&quot;, Arial, Helvetica, sans-serif" font-size="17.1" font-weight="normal" font-style="normal" text-anchor="end" fill="#000" >0.06</text>
<line x1="1158.57" y1="297.3" x2="1158.57" y2="290.3" stroke="#1a1a1a" stroke-width="1.3" />
<text transform="translate(1163.57,306.9) rotate(-90)" font-family="&quot;Liberation Sans&quot;, Arial, Helvetica, sans-serif" font-size="17.1" font-weight="normal" font-style="normal" text-anchor="end" fill="#000" >0.24</text>
<line x1="983.9" y1="220.5" x2="989.9" y2="220.5" stroke="#1a1a1a" stroke-width="1.3" />
<text transform="translate(975.1,226.5)" font-family="&quot;Liberation Sans&quot;, Arial, Helvetica, sans-serif" font-size="17.1" font-weight="normal" font-style="normal" text-anchor="end" fill="#000" >0.03</text>
<line x1="1172.54" y1="297.3" x2="1172.54" y2="290.3" stroke="#1a1a1a" stroke-width="1.3" />
<text transform="translate(1177.54,306.9) rotate(-90)" font-family="&quot;Liberation Sans&quot;, Arial, Helvetica, sans-serif" font-size="17.1" font-weight="normal" font-style="normal" text-anchor="end" fill="#000" >0.27</text>
<line x1="983.9" y1="234.47" x2="989.9" y2="234.47" stroke="#1a1a1a" stroke-width="1.3" />
<text transform="translate(975.1,240.47)" font-family="&quot;Liberation Sans&quot;, Arial, Helvetica, sans-serif" font-size="17.1" font-weight="normal" font-style="normal" text-anchor="end" fill="#000" >0.02</text>
<line x1="1186.52" y1="297.3" x2="1186.52" y2="290.3" stroke="#1a1a1a" stroke-width="1.3" />
<text transform="translate(1191.52,306.9) rotate(-90)" font-family="&quot;Liberation Sans&quot;, Arial, Helvetica, sans-serif" font-size="17.1" font-weight="normal" font-style="normal" text-anchor="end" fill="#000" >0.3</text>
<line x1="983.9" y1="248.43" x2="989.9" y2="248.43" stroke="#1a1a1a" stroke-width="1.3" />
<text transform="translate(975.1,254.43)" font-family="&quot;Liberation Sans&quot;, Arial, Helvetica, sans-serif" font-size="17.1" font-weight="normal" font-style="normal" text-anchor="end" fill="#000" >0.01</text>
<line x1="1200.49" y1="297.3" x2="1200.49" y2="290.3" stroke="#1a1a1a" stroke-width="1.3" />
<text transform="translate(1205.49,306.9) rotate(-90)" font-family="&quot;Liberation Sans&quot;, Arial, Helvetica, sans-serif" font-size="17.1" font-weight="normal" font-style="normal" text-anchor="end" fill="#000" >0.35</text>
<line x1="983.9" y1="262.39" x2="989.9" y2="262.39" stroke="#1a1a1a" stroke-width="1.3" />
<text transform="translate(975.1,268.39)" font-family="&quot;Liberation Sans&quot;, Arial, Helvetica, sans-serif" font-size="17.1" font-weight="normal" font-style="normal" text-anchor="end" fill="#000" >0.005</text>
<line x1="1214.47" y1="297.3" x2="1214.47" y2="290.3" stroke="#1a1a1a" stroke-width="1.3" />
<text transform="translate(1219.47,306.9) rotate(-90)" font-family="&quot;Liberation Sans&quot;, Arial, Helvetica, sans-serif" font-size="17.1" font-weight="normal" font-style="normal" text-anchor="end" fill="#000" >0.4</text>
<line x1="983.9" y1="276.36" x2="989.9" y2="276.36" stroke="#1a1a1a" stroke-width="1.3" />
<text transform="translate(975.1,282.36)" font-family="&quot;Liberation Sans&quot;, Arial, Helvetica, sans-serif" font-size="17.1" font-weight="normal" font-style="normal" text-anchor="end" fill="#000" >0.001</text>
<line x1="1228.44" y1="297.3" x2="1228.44" y2="290.3" stroke="#1a1a1a" stroke-width="1.3" />
<text transform="translate(1233.44,306.9) rotate(-90)" font-family="&quot;Liberation Sans&quot;, Arial, Helvetica, sans-serif" font-size="17.1" font-weight="normal" font-style="normal" text-anchor="end" fill="#000" >0.45</text>
<line x1="983.9" y1="290.32" x2="989.9" y2="290.32" stroke="#1a1a1a" stroke-width="1.3" />
<text transform="translate(975.1,296.32)" font-family="&quot;Liberation Sans&quot;, Arial, Helvetica, sans-serif" font-size="17.1" font-weight="normal" font-style="normal" text-anchor="end" fill="#000" >0.0</text>
<line x1="1242.41" y1="297.3" x2="1242.41" y2="290.3" stroke="#1a1a1a" stroke-width="1.3" />
<text transform="translate(1247.41,306.9) rotate(-90)" font-family="&quot;Liberation Sans&quot;, Arial, Helvetica, sans-serif" font-size="17.1" font-weight="normal" font-style="normal" text-anchor="end" fill="#000" >0.5</text>
<text transform="translate(1240.3,57.6)" font-family="&quot;Liberation Sans&quot;, Arial, Helvetica, sans-serif" font-size="19.5" font-weight="bold" font-style="normal" text-anchor="end" fill="#000" >(b)</text>
<defs><linearGradient id="gb" x1="0" y1="1" x2="0" y2="0"><stop offset="0.000" stop-color="#083c7d"/><stop offset="0.050" stop-color="#084990"/><stop offset="0.100" stop-color="#0c56a0"/><stop offset="0.150" stop-color="#1562a9"/><stop offset="0.200" stop-color="#1f6eb3"/><stop offset="0.250" stop-color="#2b7bba"/><stop offset="0.300" stop-color="#3787c0"/><stop offset="0.350" stop-color="#4493c7"/><stop offset="0.400" stop-color="#549fcd"/><stop offset="0.450" stop-color="#64a9d3"/><stop offset="0.500" stop-color="#75b4d8"/><stop offset="0.550" stop-color="#89bedc"/><stop offset="0.600" stop-color="#9cc9e1"/><stop offset="0.650" stop-color="#abd0e6"/><stop offset="0.700" stop-color="#bcd7eb"/><stop offset="0.750" stop-color="#c9ddf0"/><stop offset="0.800" stop-color="#d2e3f3"/><stop offset="0.850" stop-color="#dbe9f6"/><stop offset="0.900" stop-color="#e4eff9"/><stop offset="0.950" stop-color="#eef5fc"/><stop offset="1.000" stop-color="#f7fbff"/></linearGradient></defs>
<rect x="1254.3" y="36" width="13.3" height="257.3" fill="url(#gb)" stroke="#1a1a1a" stroke-width="1.4" />
<text transform="translate(1274.1,298.1)" font-family="&quot;Liberation Sans&quot;, Arial, Helvetica, sans-serif" font-size="13.3" font-weight="normal" font-style="normal" text-anchor="start" fill="#000" >0.0000</text>
<line x1="1267.6" y1="241.84" x2="1263.6" y2="241.84" stroke="#1a1a1a" stroke-width="1.3" />
<text transform="translate(1274.1,246.64)" font-family="&quot;Liberation Sans&quot;, Arial, Helvetica, sans-serif" font-size="13.3" font-weight="normal" font-style="normal" text-anchor="start" fill="#000" >0.0002</text>
<line x1="1267.6" y1="190.38" x2="1263.6" y2="190.38" stroke="#1a1a1a" stroke-width="1.3" />
<text transform="translate(1274.1,195.18)" font-family="&quot;Liberation Sans&quot;, Arial, Helvetica, sans-serif" font-size="13.3" font-weight="normal" font-style="normal" text-anchor="start" fill="#000" >0.0004</text>
<line x1="1267.6" y1="138.92" x2="1263.6" y2="138.92" stroke="#1a1a1a" stroke-width="1.3" />
<text transform="translate(1274.1,143.72)" font-family="&quot;Liberation Sans&quot;, Arial, Helvetica, sans-serif" font-size="13.3" font-weight="normal" font-style="normal" text-anchor="start" fill="#000" >0.0006</text>
<line x1="1267.6" y1="87.46" x2="1263.6" y2="87.46" stroke="#1a1a1a" stroke-width="1.3" />
<text transform="translate(1274.1,92.26)" font-family="&quot;Liberation Sans&quot;, Arial, Helvetica, sans-serif" font-size="13.3" font-weight="normal" font-style="normal" text-anchor="start" fill="#000" >0.0008</text>
<text transform="translate(1274.1,40.8)" font-family="&quot;Liberation Sans&quot;, Arial, Helvetica, sans-serif" font-size="13.3" font-weight="normal" font-style="normal" text-anchor="start" fill="#000" >0.0010</text>
<text transform="translate(1261.75,29.7)" font-family="&quot;Liberation Sans&quot;, Arial, Helvetica, sans-serif" font-size="12" font-weight="normal" font-style="normal" text-anchor="middle" fill="#000" >1-F</text>
<rect x="1379.6" y="32.7" width="265.2" height="264.8" fill="#f7fbff" stroke="none" stroke-width="0" />
<rect x="1602.93" y="60.57" width="14.56" height="14.54" fill="#2c7cba" stroke="none" stroke-width="0" shape-rendering="crispEdges"/>
<rect x="1616.88" y="60.57" width="14.56" height="14.54" fill="#4a98c9" stroke="none" stroke-width="0" shape-rendering="crispEdges"/>
<rect x="1547.09" y="74.51" width="14.56" height="14.54" fill="#dfecf7" stroke="none" stroke-width="0" shape-rendering="crispEdges"/>
<rect x="1561.05" y="74.51" width="14.56" height="14.54" fill="#cadef0" stroke="none" stroke-width="0" shape-rendering="crispEdges"/>
<rect x="1575.01" y="74.51" width="14.56" height="14.54" fill="#6aaed6" stroke="none" stroke-width="0" shape-rendering="crispEdges"/>
<rect x="1588.97" y="74.51" width="14.56" height="14.54" fill="#1561a9" stroke="none" stroke-width="0" shape-rendering="crispEdges"/>
<rect x="1602.93" y="74.51" width="14.56" height="14.54" fill="#1561a9" stroke="none" stroke-width="0" shape-rendering="crispEdges"/>
<rect x="1505.22" y="88.45" width="14.56" height="14.54" fill="#cadef0" stroke="none" stroke-width="0" shape-rendering="crispEdges"/>
<rect x="1519.18" y="88.45" width="14.56" height="14.54" fill="#cadef0" stroke="none" stroke-width="0" shape-rendering="crispEdges"/>
<rect x="1533.14" y="88.45" width="14.56" height="14.54" fill="#6aaed6" stroke="none" stroke-width="0" shape-rendering="crispEdges"/>
<rect x="1547.09" y="88.45" width="14.56" height="14.54" fill="#4a98c9" stroke="none" stroke-width="0" shape-rendering="crispEdges"/>
<rect x="1561.05" y="88.45" width="14.56" height="14.54" fill="#2c7cba" stroke="none" stroke-width="0" shape-rendering="crispEdges"/>
<rect x="1575.01" y="88.45" width="14.56" height="14.54" fill="#1561a9" stroke="none" stroke-width="0" shape-rendering="crispEdges"/>
<rect x="1588.97" y="88.45" width="14.56" height="14.54" fill="#1561a9" stroke="none" stroke-width="0" shape-rendering="crispEdges"/>
<rect x="1602.93" y="88.45" width="14.56" height="14.54" fill="#6aaed6" stroke="none" stroke-width="0" shape-rendering="crispEdges"/>
<rect x="1477.31" y="102.38" width="14.56" height="14.54" fill="#dfecf7" stroke="none" stroke-width="0" shape-rendering="crispEdges"/>
<rect x="1491.26" y="102.38" width="14.56" height="14.54" fill="#a3cce3" stroke="none" stroke-width="0" shape-rendering="crispEdges"/>
<rect x="1505.22" y="102.38" width="14.56" height="14.54" fill="#6aaed6" stroke="none" stroke-width="0" shape-rendering="crispEdges"/>
<rect x="1519.18" y="102.38" width="14.56" height="14.54" fill="#6aaed6" stroke="none" stroke-width="0" shape-rendering="crispEdges"/>
<rect x="1533.14" y="102.38" width="14.56" height="14.54" fill="#2c7cba" stroke="none" stroke-width="0" shape-rendering="crispEdges"/>
<rect x="1547.09" y="102.38" width="14.56" height="14.54" fill="#2c7cba" stroke="none" stroke-width="0" shape-rendering="crispEdges"/>
<rect x="1561.05" y="102.38" width="14.56" height="14.54" fill="#1561a9" stroke="none" stroke-width="0" shape-rendering="crispEdges"/>
<rect x="1575.01" y="102.38" width="14.56" height="14.54" fill="#1561a9" stroke="none" stroke-width="0" shape-rendering="crispEdges"/>
<rect x="1588.97" y="102.38" width="14.56" height="14.54" fill="#2c7cba" stroke="none" stroke-width="0" shape-rendering="crispEdges"/>
<rect x="1602.93" y="102.38" width="14.56" height="14.54" fill="#cadef0" stroke="none" stroke-width="0" shape-rendering="crispEdges"/>
<rect x="1477.31" y="116.32" width="14.56" height="14.54" fill="#4a98c9" stroke="none" stroke-width="0" shape-rendering="crispEdges"/>
<rect x="1491.26" y="116.32" width="14.56" height="14.54" fill="#4a98c9" stroke="none" stroke-width="0" shape-rendering="crispEdges"/>
<rect x="1505.22" y="116.32" width="14.56" height="14.54" fill="#2c7cba" stroke="none" stroke-width="0" shape-rendering="crispEdges"/>
<rect x="1519.18" y="116.32" width="14.56" height="14.54" fill="#2c7cba" stroke="none" stroke-width="0" shape-rendering="crispEdges"/>
<rect x="1533.14" y="116.32" width="14.56" height="14.54" fill="#2c7cba" stroke="none" stroke-width="0" shape-rendering="crispEdges"/>
<rect x="1547.09" y="116.32" width="14.56" height="14.54" fill="#1561a9" stroke="none" stroke-width="0" shape-rendering="crispEdges"/>
<rect x="1561.05" y="116.32" width="14.56" height="14.54" fill="#1561a9" stroke="none" stroke-width="0" shape-rendering="crispEdges"/>
<rect x="1575.01" y="116.32" width="14.56" height="14.54" fill="#1561a9" stroke="none" stroke-width="0" shape-rendering="crispEdges"/>
<rect x="1588.97" y="116.32" width="14.56" height="14.54" fill="#4a98c9" stroke="none" stroke-width="0" shape-rendering="crispEdges"/>
<rect x="1463.35" y="130.26" width="14.56" height="14.54" fill="#4a98c9" stroke="none" stroke-width="0" shape-rendering="crispEdges"/>
<rect x="1477.31" y="130.26" width="14.56" height="14.54" fill="#4a98c9" stroke="none" stroke-width="0" shape-rendering="crispEdges"/>
<rect x="1491.26" y="130.26" width="14.56" height="14.54" fill="#2c7cba" stroke="none" stroke-width="0" shape-rendering="crispEdges"/>
<rect x="1505.22" y="130.26" width="14.56" height="14.54" fill="#2c7cba" stroke="none" stroke-width="0" shape-rendering="crispEdges"/>
<rect x="1519.18" y="130.26" width="14.56" height="14.54" fill="#1561a9" stroke="none" stroke-width="0" shape-rendering="crispEdges"/>
<rect x="1533.14" y="130.26" width="14.56" height="14.54" fill="#1561a9" stroke="none" stroke-width="0" shape-rendering="crispEdges"/>
<rect x="1547.09" y="130.26" width="14.56" height="14.54" fill="#1561a9" stroke="none" stroke-width="0" shape-rendering="crispEdges"/>
<rect x="1561.05" y="130.26" width="14.56" height="14.54" fill="#1561a9" stroke="none" stroke-width="0" shape-rendering="crispEdges"/>
<rect x="1575.01" y="130.26" width="14.56" height="14.54" fill="#2c7cba" stroke="none" stroke-width="0" shape-rendering="crispEdges"/>
<rect x="1588.97" y="130.26" width="14.56" height="14.54" fill="#a3cce3" stroke="none" stroke-width="0" shape-rendering="crispEdges"/>
<rect x="1435.43" y="144.19" width="14.56" height="14.54" fill="#cadef0" stroke="none" stroke-width="0" shape-rendering="crispEdges"/>
<rect x="1449.39" y="144.19" width="14.56" height="14.54" fill="#a3cce3" stroke="none" stroke-width="0" shape-rendering="crispEdges"/>
<rect x="1463.35" y="144.19" width="14.56" height="14.54" fill="#2c7cba" stroke="none" stroke-width="0" shape-rendering="crispEdges"/>
<rect x="1477.31" y="144.19" width="14.56" height="14.54" fill="#1561a9" stroke="none" stroke-width="0" shape-rendering="crispEdges"/>
<rect x="1491.26" y="144.19" width="14.56" height="14.54" fill="#1561a9" stroke="none" stroke-width="0" shape-rendering="crispEdges"/>
<rect x="1505.22" y="144.19" width="14.56" height="14.54" fill="#1561a9" stroke="none" stroke-width="0" shape-rendering="crispEdges"/>
<rect x="1519.18" y="144.19" width="14.56" height="14.54" fill="#1561a9" stroke="none" stroke-width="0" shape-rendering="crispEdges"/>
<rect x="1533.14" y="144.19" width="14.56" height="14.54" fill="#1561a9" stroke="none" stroke-width="0" shape-rendering="crispEdges"/>
<rect x="1547.09" y="144.19" width="14.56" height="14.54" fill="#1561a9" stroke="none" stroke-width="0" shape-rendering="crispEdges"/>
<rect x="1561.05" y="144.19" width="14.56" height="14.54" fill="#2c7cba" stroke="none" stroke-width="0" shape-rendering="crispEdges"/>
<rect x="1575.01" y="144.19" width="14.56" height="14.54" fill="#4a98c9" stroke="none" stroke-width="0" shape-rendering="crispEdges"/>
<rect x="1588.97" y="144.19" width="14.56" height="14.54" fill="#cadef0" stroke="none" stroke-width="0" shape-rendering="crispEdges"/>
<rect x="1379.6" y="158.13" width="14.56" height="14.54" fill="#dfecf7" stroke="none" stroke-width="0" shape-rendering="crispEdges"/>
<rect x="1393.56" y="158.13" width="14.56" height="14.54" fill="#dfecf7" stroke="none" stroke-width="0" shape-rendering="crispEdges"/>
<rect x="1407.52" y="158.13" width="14.56" height="14.54" fill="#cadef0" stroke="none" stroke-width="0" shape-rendering="crispEdges"/>
<rect x="1421.47" y="158.13" width="14.56" height="14.54" fill="#cadef0" stroke="none" stroke-width="0" shape-rendering="crispEdges"/>
<rect x="1435.43" y="158.13" width="14.56" height="14.54" fill="#6aaed6" stroke="none" stroke-width="0" shape-rendering="crispEdges"/>
<rect x="1449.39" y="158.13" width="14.56" height="14.54" fill="#4a98c9" stroke="none" stroke-width="0" shape-rendering="crispEdges"/>
<rect x="1463.35" y="158.13" width="14.56" height="14.54" fill="#2c7cba" stroke="none" stroke-width="0" shape-rendering="crispEdges"/>
<rect x="1477.31" y="158.13" width="14.56" height="14.54" fill="#1561a9" stroke="none" stroke-width="0" shape-rendering="crispEdges"/>
<rect x="1491.26" y="158.13" width="14.56" height="14.54" fill="#084f99" stroke="none" stroke-width="0" shape-rendering="crispEdges"/>
<rect x="1505.22" y="158.13" width="14.56" height="14.54" fill="#084f99" stroke="none" stroke-width="0" shape-rendering="crispEdges"/>
<rect x="1519.18" y="158.13" width="14.56" height="14.54" fill="#084f99" stroke="none" stroke-width="0" shape-rendering="crispEdges"/>
<rect x="1533.14" y="158.13" width="14.56" height="14.54" fill="#1561a9" stroke="none" stroke-width="0" shape-rendering="crispEdges"/>
<rect x="1547.09" y="158.13" width="14.56" height="14.54" fill="#1561a9" stroke="none" stroke-width="0" shape-rendering="crispEdges"/>
<rect x="1561.05" y="158.13" width="14.56" height="14.54" fill="#2c7cba" stroke="none" stroke-width="0" shape-rendering="crispEdges"/>
<rect x="1575.01" y="158.13" width="14.56" height="14.54" fill="#6aaed6" stroke="none" stroke-width="0" shape-rendering="crispEdges"/>
<rect x="1588.97" y="158.13" width="14.56" height="14.54" fill="#dfecf7" stroke="none" stroke-width="0" shape-rendering="crispEdges"/>
<rect x="1379.6" y="172.07" width="14.56" height="14.54" fill="#a3cce3" stroke="none" stroke-width="0" shape-rendering="crispEdges"/>
<rect x="1393.56" y="172.07" width="14.56" height="14.54" fill="#a3cce3" stroke="none" stroke-width="0" shape-rendering="crispEdges"/>
<rect x="1407.52" y="172.07" width="14.56" height="14.54" fill="#a3cce3" stroke="none" stroke-width="0" shape-rendering="crispEdges"/>
<rect x="1421.47" y="172.07" width="14.56" height="14.54" fill="#4a98c9" stroke="none" stroke-width="0" shape-rendering="crispEdges"/>
<rect x="1435.43" y="172.07" width="14.56" height="14.54" fill="#2c7cba" stroke="none" stroke-width="0" shape-rendering="crispEdges"/>
<rect x="1449.39" y="172.07" width="14.56" height="14.54" fill="#2c7cba" stroke="none" stroke-width="0" shape-rendering="crispEdges"/>
<rect x="1463.35" y="172.07" width="14.56" height="14.54" fill="#1561a9" stroke="none" stroke-width="0" shape-rendering="crispEdges"/>
<rect x="1477.31" y="172.07" width="14.56" height="14.54" fill="#1561a9" stroke="none" stroke-width="0" shape-rendering="crispEdges"/>
<rect x="1491.26" y="172.07" width="14.56" height="14.54" fill="#084f99" stroke="none" stroke-width="0" shape-rendering="crispEdges"/>
<rect x="1505.22" y="172.07" width="14.56" height="14.54" fill="#084f99" stroke="none" stroke-width="0" shape-rendering="crispEdges"/>
<rect x="1519.18" y="172.07" width="14.56" height="14.54" fill="#084f99" stroke="none" stroke-width="0" shape-rendering="crispEdges"/>
<rect x="1533.14" y="172.07" width="14.56" height="14.54" fill="#1561a9" stroke="none" stroke-width="0" shape-rendering="crispEdges"/>
<rect x="1547.09" y="172.07" width="14.56" height="14.54" fill="#1561a9" stroke="none" stroke-width="0" shape-rendering="crispEdges"/>
<rect x="1561.05" y="172.07" width="14.56" height="14.54" fill="#2c7cba" stroke="none" stroke-width="0" shape-rendering="crispEdges"/>
<rect x="1575.01" y="172.07" width="14.56" height="14.54" fill="#a3cce3" stroke="none" stroke-width="0" shape-rendering="crispEdges"/>
<rect x="1379.6" y="186.01" width="14.56" height="14.54" fill="#6aaed6" stroke="none" stroke-width="0" shape-rendering="crispEdges"/>
<rect x="1393.56" y="186.01" width="14.56" height="14.54" fill="#6aaed6" stroke="none" stroke-width="0" shape-rendering="crispEdges"/>
<rect x="1407.52" y="186.01" width="14.56" height="14.54" fill="#4a98c9" stroke="none" stroke-width="0" shape-rendering="crispEdges"/>
<rect x="1421.47" y="186.01" width="14.56" height="14.54" fill="#2c7cba" stroke="none" stroke-width="0" shape-rendering="crispEdges"/>
<rect x="1435.43" y="186.01" width="14.56" height="14.54" fill="#1561a9" stroke="none" stroke-width="0" shape-rendering="crispEdges"/>
<rect x="1449.39" y="186.01" width="14.56" height="14.54" fill="#1561a9" stroke="none" stroke-width="0" shape-rendering="crispEdges"/>
<rect x="1463.35" y="186.01" width="14.56" height="14.54" fill="#1561a9" stroke="none" stroke-width="0" shape-rendering="crispEdges"/>
<rect x="1477.31" y="186.01" width="14.56" height="14.54" fill="#084f99" stroke="none" stroke-width="0" shape-rendering="crispEdges"/>
<rect x="1491.26" y="186.01" width="14.56" height="14.54" fill="#084f99" stroke="none" stroke-width="0" shape-rendering="crispEdges"/>
<rect x="1505.22" y="186.01" width="14.56" height="14.54" fill="#084f99" stroke="none" stroke-width="0" shape-rendering="crispEdges"/>
<rect x="1519.18" y="186.01" width="14.56" height="14.54" fill="#084f99" stroke="none" stroke-width="0" shape-rendering="crispEdges"/>
<rect x="1533.14" y="186.01" width="14.56" height="14.54" fill="#1561a9" stroke="none" stroke-width="0" shape-rendering="crispEdges"/>
<rect x="1547.09" y="186.01" width="14.56" height="14.54" fill="#2c7cba" stroke="none" stroke-width="0" shape-rendering="crispEdges"/>
<rect x="1561.05" y="186.01" width="14.56" height="14.54" fill="#4a98c9" stroke="none" stroke-width="0" shape-rendering="crispEdges"/>
<rect x="1575.01" y="186.01" width="14.56" height="14.54" fill="#cadef0" stroke="none" stroke-width="0" shape-rendering="crispEdges"/>
<rect x="1379.6" y="199.94" width="14.56" height="14.54" fill="#6aaed6" stroke="none" stroke-width="0" shape-rendering="crispEdges"/>
<rect x="1393.56" y="199.94" width="14.56" height="14.54" fill="#6aaed6" stroke="none" stroke-width="0" shape-rendering="crispEdges"/>
<rect x="1407.52" y="199.94" width="14.56" height="14.54" fill="#4a98c9" stroke="none" stroke-width="0" shape-rendering="crispEdges"/>
<rect x="1421.47" y="199.94" width="14.56" height="14.54" fill="#2c7cba" stroke="none" stroke-width="0" shape-rendering="crispEdges"/>
<rect x="1435.43" y="199.94" width="14.56" height="14.54" fill="#1561a9" stroke="none" stroke-width="0" shape-rendering="crispEdges"/>
<rect x="1449.39" y="199.94" width="14.56" height="14.54" fill="#084f99" stroke="none" stroke-width="0" shape-rendering="crispEdges"/>
<rect x="1463.35" y="199.94" width="14.56" height="14.54" fill="#084f99" stroke="none" stroke-width="0" shape-rendering="crispEdges"/>
<rect x="1477.31" y="199.94" width="14.56" height="14.54" fill="#084f99" stroke="none" stroke-width="0" shape-rendering="crispEdges"/>
<rect x="1491.26" y="199.94" width="14.56" height="14.54" fill="#084f99" stroke="none" stroke-width="0" shape-rendering="crispEdges"/>
<rect x="1505.22" y="199.94" width="14.56" height="14.54" fill="#084f99" stroke="none" stroke-width="0" shape-rendering="crispEdges"/>
<rect x="1519.18" y="199.94" width="14.56" height="14.54" fill="#1561a9" stroke="none" stroke-width="0" shape-rendering="crispEdges"/>
<rect x="1533.14" y="199.94" width="14.56" height="14.54" fill="#1561a9" stroke="none" stroke-width="0" shape-rendering="crispEdges"/>
<rect x="1547.09" y="199.94" width="14.56" height="14.54" fill="#4a98c9" stroke="none" stroke-width="0" shape-rendering="crispEdges"/>
<rect x="1561.05" y="199.94" width="14.56" height="14.54" fill="#cadef0" stroke="none" stroke-width="0" shape-rendering="crispEdges"/>
<rect x="1379.6" y="213.88" width="14.56" height="14.54" fill="#a3cce3" stroke="none" stroke-width="0" shape-rendering="crispEdges"/>
<rect x="1393.56" y="213.88" width="14.56" height="14.54" fill="#6aaed6" stroke="none" stroke-width="0" shape-rendering="crispEdges"/>
<rect x="1407.52" y="213.88" width="14.56" height="14.54" fill="#6aaed6" stroke="none" stroke-width="0" shape-rendering="crispEdges"/>
<rect x="1421.47" y="213.88" width="14.56" height="14.54" fill="#4a98c9" stroke="none" stroke-width="0" shape-rendering="crispEdges"/>
<rect x="1435.43" y="213.88" width="14.56" height="14.54" fill="#1561a9" stroke="none" stroke-width="0" shape-rendering="crispEdges"/>
<rect x="1449.39" y="213.88" width="14.56" height="14.54" fill="#084f99" stroke="none" stroke-width="0" shape-rendering="crispEdges"/>
<rect x="1463.35" y="213.88" width="14.56" height="14.54" fill="#084f99" stroke="none" stroke-width="0" shape-rendering="crispEdges"/>
<rect x="1477.31" y="213.88" width="14.56" height="14.54" fill="#084f99" stroke="none" stroke-width="0" shape-rendering="crispEdges"/>
<rect x="1491.26" y="213.88" width="14.56" height="14.54" fill="#1561a9" stroke="none" stroke-width="0" shape-rendering="crispEdges"/>
<rect x="1505.22" y="213.88" width="14.56" height="14.54" fill="#1561a9" stroke="none" stroke-width="0" shape-rendering="crispEdges"/>
<rect x="1519.18" y="213.88" width="14.56" height="14.54" fill="#1561a9" stroke="none" stroke-width="0" shape-rendering="crispEdges"/>
<rect x="1533.14" y="213.88" width="14.56" height="14.54" fill="#4a98c9" stroke="none" stroke-width="0" shape-rendering="crispEdges"/>
<rect x="1547.09" y="213.88" width="14.56" height="14.54" fill="#dfecf7" stroke="none" stroke-width="0" shape-rendering="crispEdges"/>
<rect x="1379.6" y="227.82" width="14.56" height="14.54" fill="#cadef0" stroke="none" stroke-width="0" shape-rendering="crispEdges"/>
<rect x="1393.56" y="227.82" width="14.56" height="14.54" fill="#a3cce3" stroke="none" stroke-width="0" shape-rendering="crispEdges"/>
<rect x="1407.52" y="227.82" width="14.56" height="14.54" fill="#a3cce3" stroke="none" stroke-width="0" shape-rendering="crispEdges"/>
<rect x="1421.47" y="227.82" width="14.56" height="14.54" fill="#6aaed6" stroke="none" stroke-width="0" shape-rendering="crispEdges"/>
<rect x="1435.43" y="227.82" width="14.56" height="14.54" fill="#1561a9" stroke="none" stroke-width="0" shape-rendering="crispEdges"/>
<rect x="1449.39" y="227.82" width="14.56" height="14.54" fill="#1561a9" stroke="none" stroke-width="0" shape-rendering="crispEdges"/>
<rect x="1463.35" y="227.82" width="14.56" height="14.54" fill="#084f99" stroke="none" stroke-width="0" shape-rendering="crispEdges"/>
<rect x="1477.31" y="227.82" width="14.56" height="14.54" fill="#084f99" stroke="none" stroke-width="0" shape-rendering="crispEdges"/>
<rect x="1491.26" y="227.82" width="14.56" height="14.54" fill="#1561a9" stroke="none" stroke-width="0" shape-rendering="crispEdges"/>
<rect x="1505.22" y="227.82" width="14.56" height="14.54" fill="#1561a9" stroke="none" stroke-width="0" shape-rendering="crispEdges"/>
<rect x="1519.18" y="227.82" width="14.56" height="14.54" fill="#2c7cba" stroke="none" stroke-width="0" shape-rendering="crispEdges"/>
<rect x="1533.14" y="227.82" width="14.56" height="14.54" fill="#a3cce3" stroke="none" stroke-width="0" shape-rendering="crispEdges"/>
<rect x="1547.09" y="227.82" width="14.56" height="14.54" fill="#dfecf7" stroke="none" stroke-width="0" shape-rendering="crispEdges"/>
<rect x="1379.6" y="241.75" width="14.56" height="14.54" fill="#dfecf7" stroke="none" stroke-width="0" shape-rendering="crispEdges"/>
<rect x="1393.56" y="241.75" width="14.56" height="14.54" fill="#dfecf7" stroke="none" stroke-width="0" shape-rendering="crispEdges"/>
<rect x="1407.52" y="241.75" width="14.56" height="14.54" fill="#cadef0" stroke="none" stroke-width="0" shape-rendering="crispEdges"/>
<rect x="1421.47" y="241.75" width="14.56" height="14.54" fill="#a3cce3" stroke="none" stroke-width="0" shape-rendering="crispEdges"/>
<rect x="1435.43" y="241.75" width="14.56" height="14.54" fill="#2c7cba" stroke="none" stroke-width="0" shape-rendering="crispEdges"/>
<rect x="1449.39" y="241.75" width="14.56" height="14.54" fill="#2c7cba" stroke="none" stroke-width="0" shape-rendering="crispEdges"/>
<rect x="1463.35" y="241.75" width="14.56" height="14.54" fill="#1561a9" stroke="none" stroke-width="0" shape-rendering="crispEdges"/>
<rect x="1477.31" y="241.75" width="14.56" height="14.54" fill="#1561a9" stroke="none" stroke-width="0" shape-rendering="crispEdges"/>
<rect x="1491.26" y="241.75" width="14.56" height="14.54" fill="#1561a9" stroke="none" stroke-width="0" shape-rendering="crispEdges"/>
<rect x="1505.22" y="241.75" width="14.56" height="14.54" fill="#2c7cba" stroke="none" stroke-width="0" shape-rendering="crispEdges"/>
<rect x="1519.18" y="241.75" width="14.56" height="14.54" fill="#4a98c9" stroke="none" stroke-width="0" shape-rendering="crispEdges"/>
<rect x="1533.14" y="241.75" width="14.56" height="14.54" fill="#cadef0" stroke="none" stroke-width="0" shape-rendering="crispEdges"/>
<rect x="1407.52" y="255.69" width="14.56" height="14.54" fill="#cadef0" stroke="none" stroke-width="0" shape-rendering="crispEdges"/>
<rect x="1421.47" y="255.69" width="14.56" height="14.54" fill="#dfecf7" stroke="none" stroke-width="0" shape-rendering="crispEdges"/>
<rect x="1435.43" y="255.69" width="14.56" height="14.54" fill="#4a98c9" stroke="none" stroke-width="0" shape-rendering="crispEdges"/>
<rect x="1449.39" y="255.69" width="14.56" height="14.54" fill="#4a98c9" stroke="none" stroke-width="0" shape-rendering="crispEdges"/>
<rect x="1463.35" y="255.69" width="14.56" height="14.54" fill="#2c7cba" stroke="none" stroke-width="0" shape-rendering="crispEdges"/>
<rect x="1477.31" y="255.69" width="14.56" height="14.54" fill="#2c7cba" stroke="none" stroke-width="0" shape-rendering="crispEdges"/>
<rect x="1491.26" y="255.69" width="14.56" height="14.54" fill="#4a98c9" stroke="none" stroke-width="0" shape-rendering="crispEdges"/>
<rect x="1505.22" y="255.69" width="14.56" height="14.54" fill="#4a98c9" stroke="none" stroke-width="0" shape-rendering="crispEdges"/>
<rect x="1519.18" y="255.69" width="14.56" height="14.54" fill="#6aaed6" stroke="none" stroke-width="0" shape-rendering="crispEdges"/>
<rect x="1533.14" y="255.69" width="14.56" height="14.54" fill="#dfecf7" stroke="none" stroke-width="0" shape-rendering="crispEdges"/>
<rect x="1435.43" y="269.63" width="14.56" height="14.54" fill="#6aaed6" stroke="none" stroke-width="0" shape-rendering="crispEdges"/>
<rect x="1449.39" y="269.63" width="14.56" height="14.54" fill="#4a98c9" stroke="none" stroke-width="0" shape-rendering="crispEdges"/>
<rect x="1463.35" y="269.63" width="14.56" height="14.54" fill="#2c7cba" stroke="none" stroke-width="0" shape-rendering="crispEdges"/>
<rect x="1477.31" y="269.63" width="14.56" height="14.54" fill="#2c7cba" stroke="none" stroke-width="0" shape-rendering="crispEdges"/>
<rect x="1491.26" y="269.63" width="14.56" height="14.54" fill="#4a98c9" stroke="none" stroke-width="0" shape-rendering="crispEdges"/>
<rect x="1505.22" y="269.63" width="14.56" height="14.54" fill="#4a98c9" stroke="none" stroke-width="0" shape-rendering="crispEdges"/>
<rect x="1519.18" y="269.63" width="14.56" height="14.54" fill="#a3cce3" stroke="none" stroke-width="0" shape-rendering="crispEdges"/>
<rect x="1533.14" y="269.63" width="14.56" height="14.54" fill="#dfecf7" stroke="none" stroke-width="0" shape-rendering="crispEdges"/>
<rect x="1435.43" y="283.56" width="14.56" height="14.54" fill="#a3cce3" stroke="none" stroke-width="0" shape-rendering="crispEdges"/>
<rect x="1449.39" y="283.56" width="14.56" height="14.54" fill="#4a98c9" stroke="none" stroke-width="0" shape-rendering="crispEdges"/>
<rect x="1463.35" y="283.56" width="14.56" height="14.54" fill="#2c7cba" stroke="none" stroke-width="0" shape-rendering="crispEdges"/>
<rect x="1477.31" y="283.56" width="14.56" height="14.54" fill="#2c7cba" stroke="none" stroke-width="0" shape-rendering="crispEdges"/>
<rect x="1491.26" y="283.56" width="14.56" height="14.54" fill="#4a98c9" stroke="none" stroke-width="0" shape-rendering="crispEdges"/>
<rect x="1505.22" y="283.56" width="14.56" height="14.54" fill="#6aaed6" stroke="none" stroke-width="0" shape-rendering="crispEdges"/>
<rect x="1519.18" y="283.56" width="14.56" height="14.54" fill="#a3cce3" stroke="none" stroke-width="0" shape-rendering="crispEdges"/>
<line x1="1428.45" y1="32.7" x2="1428.45" y2="297.5" stroke="#000" stroke-width="1.5" stroke-dasharray="4 2.6"/>
<line x1="1379.6" y1="248.72" x2="1644.8" y2="248.72" stroke="#000" stroke-width="1.5" stroke-dasharray="4 2.6"/>
<circle cx="1428.45" cy="248.72" r="3.9" fill="none" stroke="#111" stroke-width="2"/>
<polygon points="1498.24,171.94 1500.33,176.16 1504.99,176.84 1501.62,180.13 1502.42,184.78 1498.24,182.59 1494.07,184.78 1494.87,180.13 1491.49,176.84 1496.16,176.16" fill="#f50f0f" stroke="#f50f0f" stroke-width="0.6"/>
<rect x="1379.6" y="32.7" width="265.2" height="264.8" fill="none" stroke="#1a1a1a" stroke-width="1.6" />
<line x1="1379.6" y1="39.67" x2="1385.6" y2="39.67" stroke="#1a1a1a" stroke-width="1.3" />
<text transform="translate(1370.8,45.67)" font-family="&quot;Liberation Sans&quot;, Arial, Helvetica, sans-serif" font-size="17.1" font-weight="normal" font-style="normal" text-anchor="end" fill="#000" >0.5</text>
<line x1="1386.58" y1="297.5" x2="1386.58" y2="290.5" stroke="#1a1a1a" stroke-width="1.3" />
<text transform="translate(1391.58,307.1) rotate(-90)" font-family="&quot;Liberation Sans&quot;, Arial, Helvetica, sans-serif" font-size="17.1" font-weight="normal" font-style="normal" text-anchor="end" fill="#000" >0.0</text>
<line x1="1379.6" y1="53.61" x2="1385.6" y2="53.61" stroke="#1a1a1a" stroke-width="1.3" />
<text transform="translate(1370.8,59.61)" font-family="&quot;Liberation Sans&quot;, Arial, Helvetica, sans-serif" font-size="17.1" font-weight="normal" font-style="normal" text-anchor="end" fill="#000" >0.45</text>
<line x1="1400.54" y1="297.5" x2="1400.54" y2="290.5" stroke="#1a1a1a" stroke-width="1.3" />
<text transform="translate(1405.54,307.1) rotate(-90)" font-family="&quot;Liberation Sans&quot;, Arial, Helvetica, sans-serif" font-size="17.1" font-weight="normal" font-style="normal" text-anchor="end" fill="#000" >0.001</text>
<line x1="1379.6" y1="67.54" x2="1385.6" y2="67.54" stroke="#1a1a1a" stroke-width="1.3" />
<text transform="translate(1370.8,73.54)" font-family="&quot;Liberation Sans&quot;, Arial, Helvetica, sans-serif" font-size="17.1" font-weight="normal" font-style="normal" text-anchor="end" fill="#000" >0.4</text>
<line x1="1414.49" y1="297.5" x2="1414.49" y2="290.5" stroke="#1a1a1a" stroke-width="1.3" />
<text transform="translate(1419.49,307.1) rotate(-90)" font-family="&quot;Liberation Sans&quot;, Arial, Helvetica, sans-serif" font-size="17.1" font-weight="normal" font-style="normal" text-anchor="end" fill="#000" >0.005</text>
<line x1="1379.6" y1="81.48" x2="1385.6" y2="81.48" stroke="#1a1a1a" stroke-width="1.3" />
<text transform="translate(1370.8,87.48)" font-family="&quot;Liberation Sans&quot;, Arial, Helvetica, sans-serif" font-size="17.1" font-weight="normal" font-style="normal" text-anchor="end" fill="#000" >0.35</text>
<line x1="1428.45" y1="297.5" x2="1428.45" y2="290.5" stroke="#1a1a1a" stroke-width="1.3" />
<text transform="translate(1433.45,307.1) rotate(-90)" font-family="&quot;Liberation Sans&quot;, Arial, Helvetica, sans-serif" font-size="17.1" font-weight="normal" font-style="normal" text-anchor="end" fill="#000" >0.01</text>
<line x1="1379.6" y1="95.42" x2="1385.6" y2="95.42" stroke="#1a1a1a" stroke-width="1.3" />
<text transform="translate(1370.8,101.42)" font-family="&quot;Liberation Sans&quot;, Arial, Helvetica, sans-serif" font-size="17.1" font-weight="normal" font-style="normal" text-anchor="end" fill="#000" >0.3</text>
<line x1="1442.41" y1="297.5" x2="1442.41" y2="290.5" stroke="#1a1a1a" stroke-width="1.3" />
<text transform="translate(1447.41,307.1) rotate(-90)" font-family="&quot;Liberation Sans&quot;, Arial, Helvetica, sans-serif" font-size="17.1" font-weight="normal" font-style="normal" text-anchor="end" fill="#000" >0.02</text>
<line x1="1379.6" y1="109.35" x2="1385.6" y2="109.35" stroke="#1a1a1a" stroke-width="1.3" />
<text transform="translate(1370.8,115.35)" font-family="&quot;Liberation Sans&quot;, Arial, Helvetica, sans-serif" font-size="17.1" font-weight="normal" font-style="normal" text-anchor="end" fill="#000" >0.27</text>
<line x1="1456.37" y1="297.5" x2="1456.37" y2="290.5" stroke="#1a1a1a" stroke-width="1.3" />
<text transform="translate(1461.37,307.1) rotate(-90)" font-family="&quot;Liberation Sans&quot;, Arial, Helvetica, sans-serif" font-size="17.1" font-weight="normal" font-style="normal" text-anchor="end" fill="#000" >0.03</text>
<line x1="1379.6" y1="123.29" x2="1385.6" y2="123.29" stroke="#1a1a1a" stroke-width="1.3" />
<text transform="translate(1370.8,129.29)" font-family="&quot;Liberation Sans&quot;, Arial, Helvetica, sans-serif" font-size="17.1" font-weight="normal" font-style="normal" text-anchor="end" fill="#000" >0.24</text>
<line x1="1470.33" y1="297.5" x2="1470.33" y2="290.5" stroke="#1a1a1a" stroke-width="1.3" />
<text transform="translate(1475.33,307.1) rotate(-90)" font-family="&quot;Liberation Sans&quot;, Arial, Helvetica, sans-serif" font-size="17.1" font-weight="normal" font-style="normal" text-anchor="end" fill="#000" >0.06</text>
<line x1="1379.6" y1="137.23" x2="1385.6" y2="137.23" stroke="#1a1a1a" stroke-width="1.3" />
<text transform="translate(1370.8,143.23)" font-family="&quot;Liberation Sans&quot;, Arial, Helvetica, sans-serif" font-size="17.1" font-weight="normal" font-style="normal" text-anchor="end" fill="#000" >0.21</text>
<line x1="1484.28" y1="297.5" x2="1484.28" y2="290.5" stroke="#1a1a1a" stroke-width="1.3" />
<text transform="translate(1489.28,307.1) rotate(-90)" font-family="&quot;Liberation Sans&quot;, Arial, Helvetica, sans-serif" font-size="17.1" font-weight="normal" font-style="normal" text-anchor="end" fill="#000" >0.09</text>
<line x1="1379.6" y1="151.16" x2="1385.6" y2="151.16" stroke="#1a1a1a" stroke-width="1.3" />
<text transform="translate(1370.8,157.16)" font-family="&quot;Liberation Sans&quot;, Arial, Helvetica, sans-serif" font-size="17.1" font-weight="normal" font-style="normal" text-anchor="end" fill="#000" >0.18</text>
<line x1="1498.24" y1="297.5" x2="1498.24" y2="290.5" stroke="#1a1a1a" stroke-width="1.3" />
<text transform="translate(1503.24,307.1) rotate(-90)" font-family="&quot;Liberation Sans&quot;, Arial, Helvetica, sans-serif" font-size="17.1" font-weight="normal" font-style="normal" text-anchor="end" fill="#000" >0.12</text>
<line x1="1379.6" y1="165.1" x2="1385.6" y2="165.1" stroke="#1a1a1a" stroke-width="1.3" />
<text transform="translate(1370.8,171.1)" font-family="&quot;Liberation Sans&quot;, Arial, Helvetica, sans-serif" font-size="17.1" font-weight="normal" font-style="normal" text-anchor="end" fill="#000" >0.15</text>
<line x1="1512.2" y1="297.5" x2="1512.2" y2="290.5" stroke="#1a1a1a" stroke-width="1.3" />
<text transform="translate(1517.2,307.1) rotate(-90)" font-family="&quot;Liberation Sans&quot;, Arial, Helvetica, sans-serif" font-size="17.1" font-weight="normal" font-style="normal" text-anchor="end" fill="#000" >0.15</text>
<line x1="1379.6" y1="179.04" x2="1385.6" y2="179.04" stroke="#1a1a1a" stroke-width="1.3" />
<text transform="translate(1370.8,185.04)" font-family="&quot;Liberation Sans&quot;, Arial, Helvetica, sans-serif" font-size="17.1" font-weight="normal" font-style="normal" text-anchor="end" fill="#000" >0.12</text>
<line x1="1526.16" y1="297.5" x2="1526.16" y2="290.5" stroke="#1a1a1a" stroke-width="1.3" />
<text transform="translate(1531.16,307.1) rotate(-90)" font-family="&quot;Liberation Sans&quot;, Arial, Helvetica, sans-serif" font-size="17.1" font-weight="normal" font-style="normal" text-anchor="end" fill="#000" >0.18</text>
<line x1="1379.6" y1="192.97" x2="1385.6" y2="192.97" stroke="#1a1a1a" stroke-width="1.3" />
<text transform="translate(1370.8,198.97)" font-family="&quot;Liberation Sans&quot;, Arial, Helvetica, sans-serif" font-size="17.1" font-weight="normal" font-style="normal" text-anchor="end" fill="#000" >0.09</text>
<line x1="1540.12" y1="297.5" x2="1540.12" y2="290.5" stroke="#1a1a1a" stroke-width="1.3" />
<text transform="translate(1545.12,307.1) rotate(-90)" font-family="&quot;Liberation Sans&quot;, Arial, Helvetica, sans-serif" font-size="17.1" font-weight="normal" font-style="normal" text-anchor="end" fill="#000" >0.21</text>
<line x1="1379.6" y1="206.91" x2="1385.6" y2="206.91" stroke="#1a1a1a" stroke-width="1.3" />
<text transform="translate(1370.8,212.91)" font-family="&quot;Liberation Sans&quot;, Arial, Helvetica, sans-serif" font-size="17.1" font-weight="normal" font-style="normal" text-anchor="end" fill="#000" >0.06</text>
<line x1="1554.07" y1="297.5" x2="1554.07" y2="290.5" stroke="#1a1a1a" stroke-width="1.3" />
<text transform="translate(1559.07,307.1) rotate(-90)" font-family="&quot;Liberation Sans&quot;, Arial, Helvetica, sans-serif" font-size="17.1" font-weight="normal" font-style="normal" text-anchor="end" fill="#000" >0.24</text>
<line x1="1379.6" y1="220.85" x2="1385.6" y2="220.85" stroke="#1a1a1a" stroke-width="1.3" />
<text transform="translate(1370.8,226.85)" font-family="&quot;Liberation Sans&quot;, Arial, Helvetica, sans-serif" font-size="17.1" font-weight="normal" font-style="normal" text-anchor="end" fill="#000" >0.03</text>
<line x1="1568.03" y1="297.5" x2="1568.03" y2="290.5" stroke="#1a1a1a" stroke-width="1.3" />
<text transform="translate(1573.03,307.1) rotate(-90)" font-family="&quot;Liberation Sans&quot;, Arial, Helvetica, sans-serif" font-size="17.1" font-weight="normal" font-style="normal" text-anchor="end" fill="#000" >0.27</text>
<line x1="1379.6" y1="234.78" x2="1385.6" y2="234.78" stroke="#1a1a1a" stroke-width="1.3" />
<text transform="translate(1370.8,240.78)" font-family="&quot;Liberation Sans&quot;, Arial, Helvetica, sans-serif" font-size="17.1" font-weight="normal" font-style="normal" text-anchor="end" fill="#000" >0.02</text>
<line x1="1581.99" y1="297.5" x2="1581.99" y2="290.5" stroke="#1a1a1a" stroke-width="1.3" />
<text transform="translate(1586.99,307.1) rotate(-90)" font-family="&quot;Liberation Sans&quot;, Arial, Helvetica, sans-serif" font-size="17.1" font-weight="normal" font-style="normal" text-anchor="end" fill="#000" >0.3</text>
<line x1="1379.6" y1="248.72" x2="1385.6" y2="248.72" stroke="#1a1a1a" stroke-width="1.3" />
<text transform="translate(1370.8,254.72)" font-family="&quot;Liberation Sans&quot;, Arial, Helvetica, sans-serif" font-size="17.1" font-weight="normal" font-style="normal" text-anchor="end" fill="#000" >0.01</text>
<line x1="1595.95" y1="297.5" x2="1595.95" y2="290.5" stroke="#1a1a1a" stroke-width="1.3" />
<text transform="translate(1600.95,307.1) rotate(-90)" font-family="&quot;Liberation Sans&quot;, Arial, Helvetica, sans-serif" font-size="17.1" font-weight="normal" font-style="normal" text-anchor="end" fill="#000" >0.35</text>
<line x1="1379.6" y1="262.66" x2="1385.6" y2="262.66" stroke="#1a1a1a" stroke-width="1.3" />
<text transform="translate(1370.8,268.66)" font-family="&quot;Liberation Sans&quot;, Arial, Helvetica, sans-serif" font-size="17.1" font-weight="normal" font-style="normal" text-anchor="end" fill="#000" >0.005</text>
<line x1="1609.91" y1="297.5" x2="1609.91" y2="290.5" stroke="#1a1a1a" stroke-width="1.3" />
<text transform="translate(1614.91,307.1) rotate(-90)" font-family="&quot;Liberation Sans&quot;, Arial, Helvetica, sans-serif" font-size="17.1" font-weight="normal" font-style="normal" text-anchor="end" fill="#000" >0.4</text>
<line x1="1379.6" y1="276.59" x2="1385.6" y2="276.59" stroke="#1a1a1a" stroke-width="1.3" />
<text transform="translate(1370.8,282.59)" font-family="&quot;Liberation Sans&quot;, Arial, Helvetica, sans-serif" font-size="17.1" font-weight="normal" font-style="normal" text-anchor="end" fill="#000" >0.001</text>
<line x1="1623.86" y1="297.5" x2="1623.86" y2="290.5" stroke="#1a1a1a" stroke-width="1.3" />
<text transform="translate(1628.86,307.1) rotate(-90)" font-family="&quot;Liberation Sans&quot;, Arial, Helvetica, sans-serif" font-size="17.1" font-weight="normal" font-style="normal" text-anchor="end" fill="#000" >0.45</text>
<line x1="1379.6" y1="290.53" x2="1385.6" y2="290.53" stroke="#1a1a1a" stroke-width="1.3" />
<text transform="translate(1370.8,296.53)" font-family="&quot;Liberation Sans&quot;, Arial, Helvetica, sans-serif" font-size="17.1" font-weight="normal" font-style="normal" text-anchor="end" fill="#000" >0.0</text>
<line x1="1637.82" y1="297.5" x2="1637.82" y2="290.5" stroke="#1a1a1a" stroke-width="1.3" />
<text transform="translate(1642.82,307.1) rotate(-90)" font-family="&quot;Liberation Sans&quot;, Arial, Helvetica, sans-serif" font-size="17.1" font-weight="normal" font-style="normal" text-anchor="end" fill="#000" >0.5</text>
<text transform="translate(1394.5,59.4)" font-family="&quot;Liberation Sans&quot;, Arial, Helvetica, sans-serif" font-size="19.5" font-weight="bold" font-style="normal" text-anchor="start" fill="#000" >(c)</text>
<defs><linearGradient id="gc" x1="0" y1="1" x2="0" y2="0"><stop offset="0.000" stop-color="#083c7d"/><stop offset="0.050" stop-color="#084990"/><stop offset="0.100" stop-color="#0c56a0"/><stop offset="0.150" stop-color="#1562a9"/><stop offset="0.200" stop-color="#1f6eb3"/><stop offset="0.250" stop-color="#2b7bba"/><stop offset="0.300" stop-color="#3787c0"/><stop offset="0.350" stop-color="#4493c7"/><stop offset="0.400" stop-color="#549fcd"/><stop offset="0.450" stop-color="#64a9d3"/><stop offset="0.500" stop-color="#75b4d8"/><stop offset="0.550" stop-color="#89bedc"/><stop offset="0.600" stop-color="#9cc9e1"/><stop offset="0.650" stop-color="#abd0e6"/><stop offset="0.700" stop-color="#bcd7eb"/><stop offset="0.750" stop-color="#c9ddf0"/><stop offset="0.800" stop-color="#d2e3f3"/><stop offset="0.850" stop-color="#dbe9f6"/><stop offset="0.900" stop-color="#e4eff9"/><stop offset="0.950" stop-color="#eef5fc"/><stop offset="1.000" stop-color="#f7fbff"/></linearGradient></defs>
<rect x="1650.4" y="36.3" width="12.6" height="257" fill="url(#gc)" stroke="#1a1a1a" stroke-width="1.4" />
<text transform="translate(1669.5,298.1)" font-family="&quot;Liberation Sans&quot;, Arial, Helvetica, sans-serif" font-size="13.3" font-weight="normal" font-style="normal" text-anchor="start" fill="#000" >0.00</text>
<line x1="1663" y1="241.9" x2="1659" y2="241.9" stroke="#1a1a1a" stroke-width="1.3" />
<text transform="translate(1669.5,246.7)" font-family="&quot;Liberation Sans&quot;, Arial, Helvetica, sans-serif" font-size="13.3" font-weight="normal" font-style="normal" text-anchor="start" fill="#000" >0.02</text>
<line x1="1663" y1="190.5" x2="1659" y2="190.5" stroke="#1a1a1a" stroke-width="1.3" />
<text transform="translate(1669.5,195.3)" font-family="&quot;Liberation Sans&quot;, Arial, Helvetica, sans-serif" font-size="13.3" font-weight="normal" font-style="normal" text-anchor="start" fill="#000" >0.04</text>
<line x1="1663" y1="139.1" x2="1659" y2="139.1" stroke="#1a1a1a" stroke-width="1.3" />
<text transform="translate(1669.5,143.9)" font-family="&quot;Liberation Sans&quot;, Arial, Helvetica, sans-serif" font-size="13.3" font-weight="normal" font-style="normal" text-anchor="start" fill="#000" >0.06</text>
<line x1="1663" y1="87.7" x2="1659" y2="87.7" stroke="#1a1a1a" stroke-width="1.3" />
<text transform="translate(1669.5,92.5)" font-family="&quot;Liberation Sans&quot;, Arial, Helvetica, sans-serif" font-size="13.3" font-weight="normal" font-style="normal" text-anchor="start" fill="#000" >0.08</text>
<text transform="translate(1669.5,41.1)" font-family="&quot;Liberation Sans&quot;, Arial, Helvetica, sans-serif" font-size="13.3" font-weight="normal" font-style="normal" text-anchor="start" fill="#000" >0.10</text>
<text transform="translate(1657.5,30)" font-family="&quot;Liberation Sans&quot;, Arial, Helvetica, sans-serif" font-size="12" font-weight="normal" font-style="normal" text-anchor="middle" fill="#000" >1-F</text>
<rect x="982.2" y="304.8" width="265.6" height="264.7" fill="#f7fbff" stroke="none" stroke-width="0" />
<rect x="982.2" y="360.53" width="14.58" height="14.53" fill="#dfecf7" stroke="none" stroke-width="0" shape-rendering="crispEdges"/>
<rect x="996.18" y="360.53" width="14.58" height="14.53" fill="#dfecf7" stroke="none" stroke-width="0" shape-rendering="crispEdges"/>
<rect x="1010.16" y="360.53" width="14.58" height="14.53" fill="#dfecf7" stroke="none" stroke-width="0" shape-rendering="crispEdges"/>
<rect x="1024.14" y="360.53" width="14.58" height="14.53" fill="#dfecf7" stroke="none" stroke-width="0" shape-rendering="crispEdges"/>
<rect x="1038.12" y="360.53" width="14.58" height="14.53" fill="#dfecf7" stroke="none" stroke-width="0" shape-rendering="crispEdges"/>
<rect x="1052.09" y="360.53" width="14.58" height="14.53" fill="#cadef0" stroke="none" stroke-width="0" shape-rendering="crispEdges"/>
<rect x="1066.07" y="360.53" width="14.58" height="14.53" fill="#dfecf7" stroke="none" stroke-width="0" shape-rendering="crispEdges"/>
<rect x="1080.05" y="360.53" width="14.58" height="14.53" fill="#dfecf7" stroke="none" stroke-width="0" shape-rendering="crispEdges"/>
<rect x="1094.03" y="360.53" width="14.58" height="14.53" fill="#dfecf7" stroke="none" stroke-width="0" shape-rendering="crispEdges"/>
<rect x="982.2" y="374.46" width="14.58" height="14.53" fill="#cadef0" stroke="none" stroke-width="0" shape-rendering="crispEdges"/>
<rect x="996.18" y="374.46" width="14.58" height="14.53" fill="#cadef0" stroke="none" stroke-width="0" shape-rendering="crispEdges"/>
<rect x="1010.16" y="374.46" width="14.58" height="14.53" fill="#cadef0" stroke="none" stroke-width="0" shape-rendering="crispEdges"/>
<rect x="1024.14" y="374.46" width="14.58" height="14.53" fill="#cadef0" stroke="none" stroke-width="0" shape-rendering="crispEdges"/>
<rect x="1038.12" y="374.46" width="14.58" height="14.53" fill="#cadef0" stroke="none" stroke-width="0" shape-rendering="crispEdges"/>
<rect x="1052.09" y="374.46" width="14.58" height="14.53" fill="#cadef0" stroke="none" stroke-width="0" shape-rendering="crispEdges"/>
<rect x="1066.07" y="374.46" width="14.58" height="14.53" fill="#a3cce3" stroke="none" stroke-width="0" shape-rendering="crispEdges"/>
<rect x="1080.05" y="374.46" width="14.58" height="14.53" fill="#cadef0" stroke="none" stroke-width="0" shape-rendering="crispEdges"/>
<rect x="1094.03" y="374.46" width="14.58" height="14.53" fill="#dfecf7" stroke="none" stroke-width="0" shape-rendering="crispEdges"/>
<rect x="1108.01" y="374.46" width="14.58" height="14.53" fill="#dfecf7" stroke="none" stroke-width="0" shape-rendering="crispEdges"/>
<rect x="982.2" y="388.39" width="14.58" height="14.53" fill="#a3cce3" stroke="none" stroke-width="0" shape-rendering="crispEdges"/>
<rect x="996.18" y="388.39" width="14.58" height="14.53" fill="#a3cce3" stroke="none" stroke-width="0" shape-rendering="crispEdges"/>
<rect x="1010.16" y="388.39" width="14.58" height="14.53" fill="#a3cce3" stroke="none" stroke-width="0" shape-rendering="crispEdges"/>
<rect x="1024.14" y="388.39" width="14.58" height="14.53" fill="#a3cce3" stroke="none" stroke-width="0" shape-rendering="crispEdges"/>
<rect x="1038.12" y="388.39" width="14.58" height="14.53" fill="#6aaed6" stroke="none" stroke-width="0" shape-rendering="crispEdges"/>
<rect x="1052.09" y="388.39" width="14.58" height="14.53" fill="#a3cce3" stroke="none" stroke-width="0" shape-rendering="crispEdges"/>
<rect x="1066.07" y="388.39" width="14.58" height="14.53" fill="#a3cce3" stroke="none" stroke-width="0" shape-rendering="crispEdges"/>
<rect x="1080.05" y="388.39" width="14.58" height="14.53" fill="#a3cce3" stroke="none" stroke-width="0" shape-rendering="crispEdges"/>
<rect x="1094.03" y="388.39" width="14.58" height="14.53" fill="#dfecf7" stroke="none" stroke-width="0" shape-rendering="crispEdges"/>
<rect x="1108.01" y="388.39" width="14.58" height="14.53" fill="#dfecf7" stroke="none" stroke-width="0" shape-rendering="crispEdges"/>
<rect x="1121.99" y="388.39" width="14.58" height="14.53" fill="#dfecf7" stroke="none" stroke-width="0" shape-rendering="crispEdges"/>
<rect x="1135.97" y="388.39" width="14.58" height="14.53" fill="#dfecf7" stroke="none" stroke-width="0" shape-rendering="crispEdges"/>
<rect x="1149.95" y="388.39" width="14.58" height="14.53" fill="#dfecf7" stroke="none" stroke-width="0" shape-rendering="crispEdges"/>
<rect x="1163.93" y="388.39" width="14.58" height="14.53" fill="#dfecf7" stroke="none" stroke-width="0" shape-rendering="crispEdges"/>
<rect x="982.2" y="402.32" width="14.58" height="14.53" fill="#a3cce3" stroke="none" stroke-width="0" shape-rendering="crispEdges"/>
<rect x="996.18" y="402.32" width="14.58" height="14.53" fill="#6aaed6" stroke="none" stroke-width="0" shape-rendering="crispEdges"/>
<rect x="1010.16" y="402.32" width="14.58" height="14.53" fill="#6aaed6" stroke="none" stroke-width="0" shape-rendering="crispEdges"/>
<rect x="1024.14" y="402.32" width="14.58" height="14.53" fill="#6aaed6" stroke="none" stroke-width="0" shape-rendering="crispEdges"/>
<rect x="1038.12" y="402.32" width="14.58" height="14.53" fill="#a3cce3" stroke="none" stroke-width="0" shape-rendering="crispEdges"/>
<rect x="1052.09" y="402.32" width="14.58" height="14.53" fill="#6aaed6" stroke="none" stroke-width="0" shape-rendering="crispEdges"/>
<rect x="1066.07" y="402.32" width="14.58" height="14.53" fill="#a3cce3" stroke="none" stroke-width="0" shape-rendering="crispEdges"/>
<rect x="1080.05" y="402.32" width="14.58" height="14.53" fill="#cadef0" stroke="none" stroke-width="0" shape-rendering="crispEdges"/>
<rect x="1094.03" y="402.32" width="14.58" height="14.53" fill="#cadef0" stroke="none" stroke-width="0" shape-rendering="crispEdges"/>
<rect x="1108.01" y="402.32" width="14.58" height="14.53" fill="#dfecf7" stroke="none" stroke-width="0" shape-rendering="crispEdges"/>
<rect x="1121.99" y="402.32" width="14.58" height="14.53" fill="#dfecf7" stroke="none" stroke-width="0" shape-rendering="crispEdges"/>
<rect x="1135.97" y="402.32" width="14.58" height="14.53" fill="#dfecf7" stroke="none" stroke-width="0" shape-rendering="crispEdges"/>
<rect x="982.2" y="416.25" width="14.58" height="14.53" fill="#6aaed6" stroke="none" stroke-width="0" shape-rendering="crispEdges"/>
<rect x="996.18" y="416.25" width="14.58" height="14.53" fill="#6aaed6" stroke="none" stroke-width="0" shape-rendering="crispEdges"/>
<rect x="1010.16" y="416.25" width="14.58" height="14.53" fill="#4a98c9" stroke="none" stroke-width="0" shape-rendering="crispEdges"/>
<rect x="1024.14" y="416.25" width="14.58" height="14.53" fill="#6aaed6" stroke="none" stroke-width="0" shape-rendering="crispEdges"/>
<rect x="1038.12" y="416.25" width="14.58" height="14.53" fill="#6aaed6" stroke="none" stroke-width="0" shape-rendering="crispEdges"/>
<rect x="1052.09" y="416.25" width="14.58" height="14.53" fill="#6aaed6" stroke="none" stroke-width="0" shape-rendering="crispEdges"/>
<rect x="1066.07" y="416.25" width="14.58" height="14.53" fill="#6aaed6" stroke="none" stroke-width="0" shape-rendering="crispEdges"/>
<rect x="1080.05" y="416.25" width="14.58" height="14.53" fill="#a3cce3" stroke="none" stroke-width="0" shape-rendering="crispEdges"/>
<rect x="1094.03" y="416.25" width="14.58" height="14.53" fill="#a3cce3" stroke="none" stroke-width="0" shape-rendering="crispEdges"/>
<rect x="1108.01" y="416.25" width="14.58" height="14.53" fill="#cadef0" stroke="none" stroke-width="0" shape-rendering="crispEdges"/>
<rect x="1121.99" y="416.25" width="14.58" height="14.53" fill="#cadef0" stroke="none" stroke-width="0" shape-rendering="crispEdges"/>
<rect x="1135.97" y="416.25" width="14.58" height="14.53" fill="#cadef0" stroke="none" stroke-width="0" shape-rendering="crispEdges"/>
<rect x="1149.95" y="416.25" width="14.58" height="14.53" fill="#cadef0" stroke="none" stroke-width="0" shape-rendering="crispEdges"/>
<rect x="982.2" y="430.18" width="14.58" height="14.53" fill="#3181bd" stroke="none" stroke-width="0" shape-rendering="crispEdges"/>
<rect x="996.18" y="430.18" width="14.58" height="14.53" fill="#3181bd" stroke="none" stroke-width="0" shape-rendering="crispEdges"/>
<rect x="1010.16" y="430.18" width="14.58" height="14.53" fill="#3181bd" stroke="none" stroke-width="0" shape-rendering="crispEdges"/>
<rect x="1024.14" y="430.18" width="14.58" height="14.53" fill="#4a98c9" stroke="none" stroke-width="0" shape-rendering="crispEdges"/>
<rect x="1038.12" y="430.18" width="14.58" height="14.53" fill="#4a98c9" stroke="none" stroke-width="0" shape-rendering="crispEdges"/>
<rect x="1052.09" y="430.18" width="14.58" height="14.53" fill="#4a98c9" stroke="none" stroke-width="0" shape-rendering="crispEdges"/>
<rect x="1066.07" y="430.18" width="14.58" height="14.53" fill="#6aaed6" stroke="none" stroke-width="0" shape-rendering="crispEdges"/>
<rect x="1080.05" y="430.18" width="14.58" height="14.53" fill="#6aaed6" stroke="none" stroke-width="0" shape-rendering="crispEdges"/>
<rect x="1094.03" y="430.18" width="14.58" height="14.53" fill="#a3cce3" stroke="none" stroke-width="0" shape-rendering="crispEdges"/>
<rect x="1108.01" y="430.18" width="14.58" height="14.53" fill="#a3cce3" stroke="none" stroke-width="0" shape-rendering="crispEdges"/>
<rect x="1121.99" y="430.18" width="14.58" height="14.53" fill="#cadef0" stroke="none" stroke-width="0" shape-rendering="crispEdges"/>
<rect x="1135.97" y="430.18" width="14.58" height="14.53" fill="#cadef0" stroke="none" stroke-width="0" shape-rendering="crispEdges"/>
<rect x="1149.95" y="430.18" width="14.58" height="14.53" fill="#cadef0" stroke="none" stroke-width="0" shape-rendering="crispEdges"/>
<rect x="982.2" y="444.12" width="14.58" height="14.53" fill="#1c6bb0" stroke="none" stroke-width="0" shape-rendering="crispEdges"/>
<rect x="996.18" y="444.12" width="14.58" height="14.53" fill="#1c6bb0" stroke="none" stroke-width="0" shape-rendering="crispEdges"/>
<rect x="1010.16" y="444.12" width="14.58" height="14.53" fill="#1c6bb0" stroke="none" stroke-width="0" shape-rendering="crispEdges"/>
<rect x="1024.14" y="444.12" width="14.58" height="14.53" fill="#3181bd" stroke="none" stroke-width="0" shape-rendering="crispEdges"/>
<rect x="1038.12" y="444.12" width="14.58" height="14.53" fill="#3181bd" stroke="none" stroke-width="0" shape-rendering="crispEdges"/>
<rect x="1052.09" y="444.12" width="14.58" height="14.53" fill="#3181bd" stroke="none" stroke-width="0" shape-rendering="crispEdges"/>
<rect x="1066.07" y="444.12" width="14.58" height="14.53" fill="#3181bd" stroke="none" stroke-width="0" shape-rendering="crispEdges"/>
<rect x="1080.05" y="444.12" width="14.58" height="14.53" fill="#4a98c9" stroke="none" stroke-width="0" shape-rendering="crispEdges"/>
<rect x="1094.03" y="444.12" width="14.58" height="14.53" fill="#6aaed6" stroke="none" stroke-width="0" shape-rendering="crispEdges"/>
<rect x="1108.01" y="444.12" width="14.58" height="14.53" fill="#6aaed6" stroke="none" stroke-width="0" shape-rendering="crispEdges"/>
<rect x="1121.99" y="444.12" width="14.58" height="14.53" fill="#cadef0" stroke="none" stroke-width="0" shape-rendering="crispEdges"/>
<rect x="1135.97" y="444.12" width="14.58" height="14.53" fill="#cadef0" stroke="none" stroke-width="0" shape-rendering="crispEdges"/>
<rect x="1149.95" y="444.12" width="14.58" height="14.53" fill="#cadef0" stroke="none" stroke-width="0" shape-rendering="crispEdges"/>
<rect x="1163.93" y="444.12" width="14.58" height="14.53" fill="#dfecf7" stroke="none" stroke-width="0" shape-rendering="crispEdges"/>
<rect x="982.2" y="458.05" width="14.58" height="14.53" fill="#1c6bb0" stroke="none" stroke-width="0" shape-rendering="crispEdges"/>
<rect x="996.18" y="458.05" width="14.58" height="14.53" fill="#1c6bb0" stroke="none" stroke-width="0" shape-rendering="crispEdges"/>
<rect x="1010.16" y="458.05" width="14.58" height="14.53" fill="#1c6bb0" stroke="none" stroke-width="0" shape-rendering="crispEdges"/>
<rect x="1024.14" y="458.05" width="14.58" height="14.53" fill="#1c6bb0" stroke="none" stroke-width="0" shape-rendering="crispEdges"/>
<rect x="1038.12" y="458.05" width="14.58" height="14.53" fill="#1c6bb0" stroke="none" stroke-width="0" shape-rendering="crispEdges"/>
<rect x="1052.09" y="458.05" width="14.58" height="14.53" fill="#3181bd" stroke="none" stroke-width="0" shape-rendering="crispEdges"/>
<rect x="1066.07" y="458.05" width="14.58" height="14.53" fill="#3181bd" stroke="none" stroke-width="0" shape-rendering="crispEdges"/>
<rect x="1080.05" y="458.05" width="14.58" height="14.53" fill="#4a98c9" stroke="none" stroke-width="0" shape-rendering="crispEdges"/>
<rect x="1094.03" y="458.05" width="14.58" height="14.53" fill="#4a98c9" stroke="none" stroke-width="0" shape-rendering="crispEdges"/>
<rect x="1108.01" y="458.05" width="14.58" height="14.53" fill="#6aaed6" stroke="none" stroke-width="0" shape-rendering="crispEdges"/>
<rect x="1121.99" y="458.05" width="14.58" height="14.53" fill="#6aaed6" stroke="none" stroke-width="0" shape-rendering="crispEdges"/>
<rect x="1135.97" y="458.05" width="14.58" height="14.53" fill="#a3cce3" stroke="none" stroke-width="0" shape-rendering="crispEdges"/>
<rect x="1149.95" y="458.05" width="14.58" height="14.53" fill="#cadef0" stroke="none" stroke-width="0" shape-rendering="crispEdges"/>
<rect x="1163.93" y="458.05" width="14.58" height="14.53" fill="#dfecf7" stroke="none" stroke-width="0" shape-rendering="crispEdges"/>
<rect x="1177.91" y="458.05" width="14.58" height="14.53" fill="#dfecf7" stroke="none" stroke-width="0" shape-rendering="crispEdges"/>
<rect x="1024.14" y="471.98" width="14.58" height="14.53" fill="#4a98c9" stroke="none" stroke-width="0" shape-rendering="crispEdges"/>
<rect x="1038.12" y="471.98" width="14.58" height="14.53" fill="#1c6bb0" stroke="none" stroke-width="0" shape-rendering="crispEdges"/>
<rect x="1052.09" y="471.98" width="14.58" height="14.53" fill="#1c6bb0" stroke="none" stroke-width="0" shape-rendering="crispEdges"/>
<rect x="1066.07" y="471.98" width="14.58" height="14.53" fill="#1c6bb0" stroke="none" stroke-width="0" shape-rendering="crispEdges"/>
<rect x="1080.05" y="471.98" width="14.58" height="14.53" fill="#3181bd" stroke="none" stroke-width="0" shape-rendering="crispEdges"/>
<rect x="1094.03" y="471.98" width="14.58" height="14.53" fill="#4a98c9" stroke="none" stroke-width="0" shape-rendering="crispEdges"/>
<rect x="1108.01" y="471.98" width="14.58" height="14.53" fill="#4a98c9" stroke="none" stroke-width="0" shape-rendering="crispEdges"/>
<rect x="1121.99" y="471.98" width="14.58" height="14.53" fill="#4a98c9" stroke="none" stroke-width="0" shape-rendering="crispEdges"/>
<rect x="1135.97" y="471.98" width="14.58" height="14.53" fill="#a3cce3" stroke="none" stroke-width="0" shape-rendering="crispEdges"/>
<rect x="1149.95" y="471.98" width="14.58" height="14.53" fill="#cadef0" stroke="none" stroke-width="0" shape-rendering="crispEdges"/>
<rect x="1163.93" y="471.98" width="14.58" height="14.53" fill="#cadef0" stroke="none" stroke-width="0" shape-rendering="crispEdges"/>
<rect x="1177.91" y="471.98" width="14.58" height="14.53" fill="#dfecf7" stroke="none" stroke-width="0" shape-rendering="crispEdges"/>
<rect x="1066.07" y="485.91" width="14.58" height="14.53" fill="#1c6bb0" stroke="none" stroke-width="0" shape-rendering="crispEdges"/>
<rect x="1080.05" y="485.91" width="14.58" height="14.53" fill="#1c6bb0" stroke="none" stroke-width="0" shape-rendering="crispEdges"/>
<rect x="1094.03" y="485.91" width="14.58" height="14.53" fill="#3181bd" stroke="none" stroke-width="0" shape-rendering="crispEdges"/>
<rect x="1108.01" y="485.91" width="14.58" height="14.53" fill="#3181bd" stroke="none" stroke-width="0" shape-rendering="crispEdges"/>
<rect x="1121.99" y="485.91" width="14.58" height="14.53" fill="#3181bd" stroke="none" stroke-width="0" shape-rendering="crispEdges"/>
<rect x="1135.97" y="485.91" width="14.58" height="14.53" fill="#6aaed6" stroke="none" stroke-width="0" shape-rendering="crispEdges"/>
<rect x="1149.95" y="485.91" width="14.58" height="14.53" fill="#6aaed6" stroke="none" stroke-width="0" shape-rendering="crispEdges"/>
<rect x="1163.93" y="485.91" width="14.58" height="14.53" fill="#cadef0" stroke="none" stroke-width="0" shape-rendering="crispEdges"/>
<rect x="1177.91" y="485.91" width="14.58" height="14.53" fill="#dfecf7" stroke="none" stroke-width="0" shape-rendering="crispEdges"/>
<rect x="1066.07" y="499.84" width="14.58" height="14.53" fill="#1c6bb0" stroke="none" stroke-width="0" shape-rendering="crispEdges"/>
<rect x="1080.05" y="499.84" width="14.58" height="14.53" fill="#1c6bb0" stroke="none" stroke-width="0" shape-rendering="crispEdges"/>
<rect x="1094.03" y="499.84" width="14.58" height="14.53" fill="#1c6bb0" stroke="none" stroke-width="0" shape-rendering="crispEdges"/>
<rect x="1108.01" y="499.84" width="14.58" height="14.53" fill="#3181bd" stroke="none" stroke-width="0" shape-rendering="crispEdges"/>
<rect x="1121.99" y="499.84" width="14.58" height="14.53" fill="#3181bd" stroke="none" stroke-width="0" shape-rendering="crispEdges"/>
<rect x="1135.97" y="499.84" width="14.58" height="14.53" fill="#6aaed6" stroke="none" stroke-width="0" shape-rendering="crispEdges"/>
<rect x="1149.95" y="499.84" width="14.58" height="14.53" fill="#6aaed6" stroke="none" stroke-width="0" shape-rendering="crispEdges"/>
<rect x="1163.93" y="499.84" width="14.58" height="14.53" fill="#cadef0" stroke="none" stroke-width="0" shape-rendering="crispEdges"/>
<rect x="1177.91" y="499.84" width="14.58" height="14.53" fill="#dfecf7" stroke="none" stroke-width="0" shape-rendering="crispEdges"/>
<rect x="1066.07" y="513.77" width="14.58" height="14.53" fill="#dfecf7" stroke="none" stroke-width="0" shape-rendering="crispEdges"/>
<rect x="1080.05" y="513.77" width="14.58" height="14.53" fill="#1c6bb0" stroke="none" stroke-width="0" shape-rendering="crispEdges"/>
<rect x="1094.03" y="513.77" width="14.58" height="14.53" fill="#1c6bb0" stroke="none" stroke-width="0" shape-rendering="crispEdges"/>
<rect x="1108.01" y="513.77" width="14.58" height="14.53" fill="#3181bd" stroke="none" stroke-width="0" shape-rendering="crispEdges"/>
<rect x="1121.99" y="513.77" width="14.58" height="14.53" fill="#4a98c9" stroke="none" stroke-width="0" shape-rendering="crispEdges"/>
<rect x="1135.97" y="513.77" width="14.58" height="14.53" fill="#6aaed6" stroke="none" stroke-width="0" shape-rendering="crispEdges"/>
<rect x="1149.95" y="513.77" width="14.58" height="14.53" fill="#a3cce3" stroke="none" stroke-width="0" shape-rendering="crispEdges"/>
<rect x="1163.93" y="513.77" width="14.58" height="14.53" fill="#cadef0" stroke="none" stroke-width="0" shape-rendering="crispEdges"/>
<rect x="1177.91" y="513.77" width="14.58" height="14.53" fill="#dfecf7" stroke="none" stroke-width="0" shape-rendering="crispEdges"/>
<rect x="1066.07" y="527.71" width="14.58" height="14.53" fill="#cadef0" stroke="none" stroke-width="0" shape-rendering="crispEdges"/>
<rect x="1080.05" y="527.71" width="14.58" height="14.53" fill="#1c6bb0" stroke="none" stroke-width="0" shape-rendering="crispEdges"/>
<rect x="1094.03" y="527.71" width="14.58" height="14.53" fill="#1c6bb0" stroke="none" stroke-width="0" shape-rendering="crispEdges"/>
<rect x="1108.01" y="527.71" width="14.58" height="14.53" fill="#3181bd" stroke="none" stroke-width="0" shape-rendering="crispEdges"/>
<rect x="1121.99" y="527.71" width="14.58" height="14.53" fill="#4a98c9" stroke="none" stroke-width="0" shape-rendering="crispEdges"/>
<rect x="1135.97" y="527.71" width="14.58" height="14.53" fill="#6aaed6" stroke="none" stroke-width="0" shape-rendering="crispEdges"/>
<rect x="1149.95" y="527.71" width="14.58" height="14.53" fill="#a3cce3" stroke="none" stroke-width="0" shape-rendering="crispEdges"/>
<rect x="1163.93" y="527.71" width="14.58" height="14.53" fill="#cadef0" stroke="none" stroke-width="0" shape-rendering="crispEdges"/>
<rect x="1177.91" y="527.71" width="14.58" height="14.53" fill="#dfecf7" stroke="none" stroke-width="0" shape-rendering="crispEdges"/>
<rect x="1080.05" y="541.64" width="14.58" height="14.53" fill="#1c6bb0" stroke="none" stroke-width="0" shape-rendering="crispEdges"/>
<rect x="1094.03" y="541.64" width="14.58" height="14.53" fill="#1c6bb0" stroke="none" stroke-width="0" shape-rendering="crispEdges"/>
<rect x="1108.01" y="541.64" width="14.58" height="14.53" fill="#3181bd" stroke="none" stroke-width="0" shape-rendering="crispEdges"/>
<rect x="1121.99" y="541.64" width="14.58" height="14.53" fill="#4a98c9" stroke="none" stroke-width="0" shape-rendering="crispEdges"/>
<rect x="1135.97" y="541.64" width="14.58" height="14.53" fill="#6aaed6" stroke="none" stroke-width="0" shape-rendering="crispEdges"/>
<rect x="1149.95" y="541.64" width="14.58" height="14.53" fill="#6aaed6" stroke="none" stroke-width="0" shape-rendering="crispEdges"/>
<rect x="1163.93" y="541.64" width="14.58" height="14.53" fill="#cadef0" stroke="none" stroke-width="0" shape-rendering="crispEdges"/>
<rect x="1177.91" y="541.64" width="14.58" height="14.53" fill="#dfecf7" stroke="none" stroke-width="0" shape-rendering="crispEdges"/>
<rect x="1080.05" y="555.57" width="14.58" height="14.53" fill="#1c6bb0" stroke="none" stroke-width="0" shape-rendering="crispEdges"/>
<rect x="1094.03" y="555.57" width="14.58" height="14.53" fill="#1c6bb0" stroke="none" stroke-width="0" shape-rendering="crispEdges"/>
<rect x="1108.01" y="555.57" width="14.58" height="14.53" fill="#3181bd" stroke="none" stroke-width="0" shape-rendering="crispEdges"/>
<rect x="1121.99" y="555.57" width="14.58" height="14.53" fill="#4a98c9" stroke="none" stroke-width="0" shape-rendering="crispEdges"/>
<rect x="1135.97" y="555.57" width="14.58" height="14.53" fill="#6aaed6" stroke="none" stroke-width="0" shape-rendering="crispEdges"/>
<rect x="1149.95" y="555.57" width="14.58" height="14.53" fill="#a3cce3" stroke="none" stroke-width="0" shape-rendering="crispEdges"/>
<rect x="1163.93" y="555.57" width="14.58" height="14.53" fill="#cadef0" stroke="none" stroke-width="0" shape-rendering="crispEdges"/>
<rect x="1177.91" y="555.57" width="14.58" height="14.53" fill="#dfecf7" stroke="none" stroke-width="0" shape-rendering="crispEdges"/>
<line x1="1031.13" y1="304.8" x2="1031.13" y2="569.5" stroke="#000" stroke-width="1.5" stroke-dasharray="4 2.6"/>
<line x1="982.2" y1="520.74" x2="1247.8" y2="520.74" stroke="#000" stroke-width="1.5" stroke-dasharray="4 2.6"/>
<circle cx="1031.13" cy="520.74" r="3.9" fill="none" stroke="#111" stroke-width="2"/>
<polygon points="1073.06,485.78 1075.15,490 1079.82,490.68 1076.44,493.97 1077.24,498.62 1073.06,496.43 1068.89,498.62 1069.69,493.97 1066.31,490.68 1070.98,490" fill="#f50f0f" stroke="#f50f0f" stroke-width="0.6"/>
<rect x="982.2" y="304.8" width="265.6" height="264.7" fill="none" stroke="#1a1a1a" stroke-width="1.6" />
<line x1="982.2" y1="311.77" x2="988.2" y2="311.77" stroke="#1a1a1a" stroke-width="1.3" />
<text transform="translate(973.4,317.77)" font-family="&quot;Liberation Sans&quot;, Arial, Helvetica, sans-serif" font-size="17.1" font-weight="normal" font-style="normal" text-anchor="end" fill="#000" >0.5</text>
<line x1="989.19" y1="569.5" x2="989.19" y2="562.5" stroke="#1a1a1a" stroke-width="1.3" />
<text transform="translate(994.19,579.1) rotate(-90)" font-family="&quot;Liberation Sans&quot;, Arial, Helvetica, sans-serif" font-size="17.1" font-weight="normal" font-style="normal" text-anchor="end" fill="#000" >0.0</text>
<line x1="982.2" y1="325.7" x2="988.2" y2="325.7" stroke="#1a1a1a" stroke-width="1.3" />
<text transform="translate(973.4,331.7)" font-family="&quot;Liberation Sans&quot;, Arial, Helvetica, sans-serif" font-size="17.1" font-weight="normal" font-style="normal" text-anchor="end" fill="#000" >0.45</text>
<line x1="1003.17" y1="569.5" x2="1003.17" y2="562.5" stroke="#1a1a1a" stroke-width="1.3" />
<text transform="translate(1008.17,579.1) rotate(-90)" font-family="&quot;Liberation Sans&quot;, Arial, Helvetica, sans-serif" font-size="17.1" font-weight="normal" font-style="normal" text-anchor="end" fill="#000" >0.001</text>
<line x1="982.2" y1="339.63" x2="988.2" y2="339.63" stroke="#1a1a1a" stroke-width="1.3" />
<text transform="translate(973.4,345.63)" font-family="&quot;Liberation Sans&quot;, Arial, Helvetica, sans-serif" font-size="17.1" font-weight="normal" font-style="normal" text-anchor="end" fill="#000" >0.4</text>
<line x1="1017.15" y1="569.5" x2="1017.15" y2="562.5" stroke="#1a1a1a" stroke-width="1.3" />
<text transform="translate(1022.15,579.1) rotate(-90)" font-family="&quot;Liberation Sans&quot;, Arial, Helvetica, sans-serif" font-size="17.1" font-weight="normal" font-style="normal" text-anchor="end" fill="#000" >0.005</text>
<line x1="982.2" y1="353.56" x2="988.2" y2="353.56" stroke="#1a1a1a" stroke-width="1.3" />
<text transform="translate(973.4,359.56)" font-family="&quot;Liberation Sans&quot;, Arial, Helvetica, sans-serif" font-size="17.1" font-weight="normal" font-style="normal" text-anchor="end" fill="#000" >0.35</text>
<line x1="1031.13" y1="569.5" x2="1031.13" y2="562.5" stroke="#1a1a1a" stroke-width="1.3" />
<text transform="translate(1036.13,579.1) rotate(-90)" font-family="&quot;Liberation Sans&quot;, Arial, Helvetica, sans-serif" font-size="17.1" font-weight="normal" font-style="normal" text-anchor="end" fill="#000" >0.01</text>
<line x1="982.2" y1="367.49" x2="988.2" y2="367.49" stroke="#1a1a1a" stroke-width="1.3" />
<text transform="translate(973.4,373.49)" font-family="&quot;Liberation Sans&quot;, Arial, Helvetica, sans-serif" font-size="17.1" font-weight="normal" font-style="normal" text-anchor="end" fill="#000" >0.3</text>
<line x1="1045.11" y1="569.5" x2="1045.11" y2="562.5" stroke="#1a1a1a" stroke-width="1.3" />
<text transform="translate(1050.11,579.1) rotate(-90)" font-family="&quot;Liberation Sans&quot;, Arial, Helvetica, sans-serif" font-size="17.1" font-weight="normal" font-style="normal" text-anchor="end" fill="#000" >0.02</text>
<line x1="982.2" y1="381.42" x2="988.2" y2="381.42" stroke="#1a1a1a" stroke-width="1.3" />
<text transform="translate(973.4,387.42)" font-family="&quot;Liberation Sans&quot;, Arial, Helvetica, sans-serif" font-size="17.1" font-weight="normal" font-style="normal" text-anchor="end" fill="#000" >0.27</text>
<line x1="1059.08" y1="569.5" x2="1059.08" y2="562.5" stroke="#1a1a1a" stroke-width="1.3" />
<text transform="translate(1064.08,579.1) rotate(-90)" font-family="&quot;Liberation Sans&quot;, Arial, Helvetica, sans-serif" font-size="17.1" font-weight="normal" font-style="normal" text-anchor="end" fill="#000" >0.03</text>
<line x1="982.2" y1="395.36" x2="988.2" y2="395.36" stroke="#1a1a1a" stroke-width="1.3" />
<text transform="translate(973.4,401.36)" font-family="&quot;Liberation Sans&quot;, Arial, Helvetica, sans-serif" font-size="17.1" font-weight="normal" font-style="normal" text-anchor="end" fill="#000" >0.24</text>
<line x1="1073.06" y1="569.5" x2="1073.06" y2="562.5" stroke="#1a1a1a" stroke-width="1.3" />
<text transform="translate(1078.06,579.1) rotate(-90)" font-family="&quot;Liberation Sans&quot;, Arial, Helvetica, sans-serif" font-size="17.1" font-weight="normal" font-style="normal" text-anchor="end" fill="#000" >0.06</text>
<line x1="982.2" y1="409.29" x2="988.2" y2="409.29" stroke="#1a1a1a" stroke-width="1.3" />
<text transform="translate(973.4,415.29)" font-family="&quot;Liberation Sans&quot;, Arial, Helvetica, sans-serif" font-size="17.1" font-weight="normal" font-style="normal" text-anchor="end" fill="#000" >0.21</text>
<line x1="1087.04" y1="569.5" x2="1087.04" y2="562.5" stroke="#1a1a1a" stroke-width="1.3" />
<text transform="translate(1092.04,579.1) rotate(-90)" font-family="&quot;Liberation Sans&quot;, Arial, Helvetica, sans-serif" font-size="17.1" font-weight="normal" font-style="normal" text-anchor="end" fill="#000" >0.09</text>
<line x1="982.2" y1="423.22" x2="988.2" y2="423.22" stroke="#1a1a1a" stroke-width="1.3" />
<text transform="translate(973.4,429.22)" font-family="&quot;Liberation Sans&quot;, Arial, Helvetica, sans-serif" font-size="17.1" font-weight="normal" font-style="normal" text-anchor="end" fill="#000" >0.18</text>
<line x1="1101.02" y1="569.5" x2="1101.02" y2="562.5" stroke="#1a1a1a" stroke-width="1.3" />
<text transform="translate(1106.02,579.1) rotate(-90)" font-family="&quot;Liberation Sans&quot;, Arial, Helvetica, sans-serif" font-size="17.1" font-weight="normal" font-style="normal" text-anchor="end" fill="#000" >0.12</text>
<line x1="982.2" y1="437.15" x2="988.2" y2="437.15" stroke="#1a1a1a" stroke-width="1.3" />
<text transform="translate(973.4,443.15)" font-family="&quot;Liberation Sans&quot;, Arial, Helvetica, sans-serif" font-size="17.1" font-weight="normal" font-style="normal" text-anchor="end" fill="#000" >0.15</text>
<line x1="1115" y1="569.5" x2="1115" y2="562.5" stroke="#1a1a1a" stroke-width="1.3" />
<text transform="translate(1120,579.1) rotate(-90)" font-family="&quot;Liberation Sans&quot;, Arial, Helvetica, sans-serif" font-size="17.1" font-weight="normal" font-style="normal" text-anchor="end" fill="#000" >0.15</text>
<line x1="982.2" y1="451.08" x2="988.2" y2="451.08" stroke="#1a1a1a" stroke-width="1.3" />
<text transform="translate(973.4,457.08)" font-family="&quot;Liberation Sans&quot;, Arial, Helvetica, sans-serif" font-size="17.1" font-weight="normal" font-style="normal" text-anchor="end" fill="#000" >0.12</text>
<line x1="1128.98" y1="569.5" x2="1128.98" y2="562.5" stroke="#1a1a1a" stroke-width="1.3" />
<text transform="translate(1133.98,579.1) rotate(-90)" font-family="&quot;Liberation Sans&quot;, Arial, Helvetica, sans-serif" font-size="17.1" font-weight="normal" font-style="normal" text-anchor="end" fill="#000" >0.18</text>
<line x1="982.2" y1="465.01" x2="988.2" y2="465.01" stroke="#1a1a1a" stroke-width="1.3" />
<text transform="translate(973.4,471.01)" font-family="&quot;Liberation Sans&quot;, Arial, Helvetica, sans-serif" font-size="17.1" font-weight="normal" font-style="normal" text-anchor="end" fill="#000" >0.09</text>
<line x1="1142.96" y1="569.5" x2="1142.96" y2="562.5" stroke="#1a1a1a" stroke-width="1.3" />
<text transform="translate(1147.96,579.1) rotate(-90)" font-family="&quot;Liberation Sans&quot;, Arial, Helvetica, sans-serif" font-size="17.1" font-weight="normal" font-style="normal" text-anchor="end" fill="#000" >0.21</text>
<line x1="982.2" y1="478.94" x2="988.2" y2="478.94" stroke="#1a1a1a" stroke-width="1.3" />
<text transform="translate(973.4,484.94)" font-family="&quot;Liberation Sans&quot;, Arial, Helvetica, sans-serif" font-size="17.1" font-weight="normal" font-style="normal" text-anchor="end" fill="#000" >0.06</text>
<line x1="1156.94" y1="569.5" x2="1156.94" y2="562.5" stroke="#1a1a1a" stroke-width="1.3" />
<text transform="translate(1161.94,579.1) rotate(-90)" font-family="&quot;Liberation Sans&quot;, Arial, Helvetica, sans-serif" font-size="17.1" font-weight="normal" font-style="normal" text-anchor="end" fill="#000" >0.24</text>
<line x1="982.2" y1="492.88" x2="988.2" y2="492.88" stroke="#1a1a1a" stroke-width="1.3" />
<text transform="translate(973.4,498.88)" font-family="&quot;Liberation Sans&quot;, Arial, Helvetica, sans-serif" font-size="17.1" font-weight="normal" font-style="normal" text-anchor="end" fill="#000" >0.03</text>
<line x1="1170.92" y1="569.5" x2="1170.92" y2="562.5" stroke="#1a1a1a" stroke-width="1.3" />
<text transform="translate(1175.92,579.1) rotate(-90)" font-family="&quot;Liberation Sans&quot;, Arial, Helvetica, sans-serif" font-size="17.1" font-weight="normal" font-style="normal" text-anchor="end" fill="#000" >0.27</text>
<line x1="982.2" y1="506.81" x2="988.2" y2="506.81" stroke="#1a1a1a" stroke-width="1.3" />
<text transform="translate(973.4,512.81)" font-family="&quot;Liberation Sans&quot;, Arial, Helvetica, sans-serif" font-size="17.1" font-weight="normal" font-style="normal" text-anchor="end" fill="#000" >0.02</text>
<line x1="1184.89" y1="569.5" x2="1184.89" y2="562.5" stroke="#1a1a1a" stroke-width="1.3" />
<text transform="translate(1189.89,579.1) rotate(-90)" font-family="&quot;Liberation Sans&quot;, Arial, Helvetica, sans-serif" font-size="17.1" font-weight="normal" font-style="normal" text-anchor="end" fill="#000" >0.3</text>
<line x1="982.2" y1="520.74" x2="988.2" y2="520.74" stroke="#1a1a1a" stroke-width="1.3" />
<text transform="translate(973.4,526.74)" font-family="&quot;Liberation Sans&quot;, Arial, Helvetica, sans-serif" font-size="17.1" font-weight="normal" font-style="normal" text-anchor="end" fill="#000" >0.01</text>
<line x1="1198.87" y1="569.5" x2="1198.87" y2="562.5" stroke="#1a1a1a" stroke-width="1.3" />
<text transform="translate(1203.87,579.1) rotate(-90)" font-family="&quot;Liberation Sans&quot;, Arial, Helvetica, sans-serif" font-size="17.1" font-weight="normal" font-style="normal" text-anchor="end" fill="#000" >0.35</text>
<line x1="982.2" y1="534.67" x2="988.2" y2="534.67" stroke="#1a1a1a" stroke-width="1.3" />
<text transform="translate(973.4,540.67)" font-family="&quot;Liberation Sans&quot;, Arial, Helvetica, sans-serif" font-size="17.1" font-weight="normal" font-style="normal" text-anchor="end" fill="#000" >0.005</text>
<line x1="1212.85" y1="569.5" x2="1212.85" y2="562.5" stroke="#1a1a1a" stroke-width="1.3" />
<text transform="translate(1217.85,579.1) rotate(-90)" font-family="&quot;Liberation Sans&quot;, Arial, Helvetica, sans-serif" font-size="17.1" font-weight="normal" font-style="normal" text-anchor="end" fill="#000" >0.4</text>
<line x1="982.2" y1="548.6" x2="988.2" y2="548.6" stroke="#1a1a1a" stroke-width="1.3" />
<text transform="translate(973.4,554.6)" font-family="&quot;Liberation Sans&quot;, Arial, Helvetica, sans-serif" font-size="17.1" font-weight="normal" font-style="normal" text-anchor="end" fill="#000" >0.001</text>
<line x1="1226.83" y1="569.5" x2="1226.83" y2="562.5" stroke="#1a1a1a" stroke-width="1.3" />
<text transform="translate(1231.83,579.1) rotate(-90)" font-family="&quot;Liberation Sans&quot;, Arial, Helvetica, sans-serif" font-size="17.1" font-weight="normal" font-style="normal" text-anchor="end" fill="#000" >0.45</text>
<line x1="982.2" y1="562.53" x2="988.2" y2="562.53" stroke="#1a1a1a" stroke-width="1.3" />
<text transform="translate(973.4,568.53)" font-family="&quot;Liberation Sans&quot;, Arial, Helvetica, sans-serif" font-size="17.1" font-weight="normal" font-style="normal" text-anchor="end" fill="#000" >0.0</text>
<line x1="1240.81" y1="569.5" x2="1240.81" y2="562.5" stroke="#1a1a1a" stroke-width="1.3" />
<text transform="translate(1245.81,579.1) rotate(-90)" font-family="&quot;Liberation Sans&quot;, Arial, Helvetica, sans-serif" font-size="17.1" font-weight="normal" font-style="normal" text-anchor="end" fill="#000" >0.5</text>
<text transform="translate(1239.5,328.3)" font-family="&quot;Liberation Sans&quot;, Arial, Helvetica, sans-serif" font-size="19.5" font-weight="bold" font-style="normal" text-anchor="end" fill="#000" >(d)</text>
<defs><linearGradient id="gd" x1="0" y1="1" x2="0" y2="0"><stop offset="0.000" stop-color="#083c7d"/><stop offset="0.050" stop-color="#084990"/><stop offset="0.100" stop-color="#0c56a0"/><stop offset="0.150" stop-color="#1562a9"/><stop offset="0.200" stop-color="#1f6eb3"/><stop offset="0.250" stop-color="#2b7bba"/><stop offset="0.300" stop-color="#3787c0"/><stop offset="0.350" stop-color="#4493c7"/><stop offset="0.400" stop-color="#549fcd"/><stop offset="0.450" stop-color="#64a9d3"/><stop offset="0.500" stop-color="#75b4d8"/><stop offset="0.550" stop-color="#89bedc"/><stop offset="0.600" stop-color="#9cc9e1"/><stop offset="0.650" stop-color="#abd0e6"/><stop offset="0.700" stop-color="#bcd7eb"/><stop offset="0.750" stop-color="#c9ddf0"/><stop offset="0.800" stop-color="#d2e3f3"/><stop offset="0.850" stop-color="#dbe9f6"/><stop offset="0.900" stop-color="#e4eff9"/><stop offset="0.950" stop-color="#eef5fc"/><stop offset="1.000" stop-color="#f7fbff"/></linearGradient></defs>
<rect x="1252.6" y="308" width="14.4" height="255.8" fill="url(#gd)" stroke="#1a1a1a" stroke-width="1.4" />
<text transform="translate(1273.5,568.6)" font-family="&quot;Liberation Sans&quot;, Arial, Helvetica, sans-serif" font-size="13.3" font-weight="normal" font-style="normal" text-anchor="start" fill="#000" >0.000</text>
<line x1="1267" y1="512.64" x2="1263" y2="512.64" stroke="#1a1a1a" stroke-width="1.3" />
<text transform="translate(1273.5,517.44)" font-family="&quot;Liberation Sans&quot;, Arial, Helvetica, sans-serif" font-size="13.3" font-weight="normal" font-style="normal" text-anchor="start" fill="#000" >0.002</text>
<line x1="1267" y1="461.48" x2="1263" y2="461.48" stroke="#1a1a1a" stroke-width="1.3" />
<text transform="translate(1273.5,466.28)" font-family="&quot;Liberation Sans&quot;, Arial, Helvetica, sans-serif" font-size="13.3" font-weight="normal" font-style="normal" text-anchor="start" fill="#000" >0.004</text>
<line x1="1267" y1="410.32" x2="1263" y2="410.32" stroke="#1a1a1a" stroke-width="1.3" />
<text transform="translate(1273.5,415.12)" font-family="&quot;Liberation Sans&quot;, Arial, Helvetica, sans-serif" font-size="13.3" font-weight="normal" font-style="normal" text-anchor="start" fill="#000" >0.006</text>
<line x1="1267" y1="359.16" x2="1263" y2="359.16" stroke="#1a1a1a" stroke-width="1.3" />
<text transform="translate(1273.5,363.96)" font-family="&quot;Liberation Sans&quot;, Arial, Helvetica, sans-serif" font-size="13.3" font-weight="normal" font-style="normal" text-anchor="start" fill="#000" >0.008</text>
<text transform="translate(1273.5,312.8)" font-family="&quot;Liberation Sans&quot;, Arial, Helvetica, sans-serif" font-size="13.3" font-weight="normal" font-style="normal" text-anchor="start" fill="#000" >0.010</text>
<rect x="1379.6" y="304.5" width="265.2" height="265" fill="#f7fbff" stroke="none" stroke-width="0" />
<rect x="1588.97" y="332.39" width="14.56" height="14.55" fill="#dfecf7" stroke="none" stroke-width="0" shape-rendering="crispEdges"/>
<rect x="1602.93" y="332.39" width="14.56" height="14.55" fill="#6aaed6" stroke="none" stroke-width="0" shape-rendering="crispEdges"/>
<rect x="1561.05" y="346.34" width="14.56" height="14.55" fill="#dfecf7" stroke="none" stroke-width="0" shape-rendering="crispEdges"/>
<rect x="1575.01" y="346.34" width="14.56" height="14.55" fill="#a3cce3" stroke="none" stroke-width="0" shape-rendering="crispEdges"/>
<rect x="1588.97" y="346.34" width="14.56" height="14.55" fill="#3181bd" stroke="none" stroke-width="0" shape-rendering="crispEdges"/>
<rect x="1602.93" y="346.34" width="14.56" height="14.55" fill="#cadef0" stroke="none" stroke-width="0" shape-rendering="crispEdges"/>
<rect x="1519.18" y="360.29" width="14.56" height="14.55" fill="#dfecf7" stroke="none" stroke-width="0" shape-rendering="crispEdges"/>
<rect x="1533.14" y="360.29" width="14.56" height="14.55" fill="#a3cce3" stroke="none" stroke-width="0" shape-rendering="crispEdges"/>
<rect x="1547.09" y="360.29" width="14.56" height="14.55" fill="#6aaed6" stroke="none" stroke-width="0" shape-rendering="crispEdges"/>
<rect x="1561.05" y="360.29" width="14.56" height="14.55" fill="#3181bd" stroke="none" stroke-width="0" shape-rendering="crispEdges"/>
<rect x="1575.01" y="360.29" width="14.56" height="14.55" fill="#3181bd" stroke="none" stroke-width="0" shape-rendering="crispEdges"/>
<rect x="1588.97" y="360.29" width="14.56" height="14.55" fill="#4a98c9" stroke="none" stroke-width="0" shape-rendering="crispEdges"/>
<rect x="1491.26" y="374.24" width="14.56" height="14.55" fill="#dfecf7" stroke="none" stroke-width="0" shape-rendering="crispEdges"/>
<rect x="1505.22" y="374.24" width="14.56" height="14.55" fill="#cadef0" stroke="none" stroke-width="0" shape-rendering="crispEdges"/>
<rect x="1519.18" y="374.24" width="14.56" height="14.55" fill="#6aaed6" stroke="none" stroke-width="0" shape-rendering="crispEdges"/>
<rect x="1533.14" y="374.24" width="14.56" height="14.55" fill="#4a98c9" stroke="none" stroke-width="0" shape-rendering="crispEdges"/>
<rect x="1547.09" y="374.24" width="14.56" height="14.55" fill="#3181bd" stroke="none" stroke-width="0" shape-rendering="crispEdges"/>
<rect x="1561.05" y="374.24" width="14.56" height="14.55" fill="#3181bd" stroke="none" stroke-width="0" shape-rendering="crispEdges"/>
<rect x="1575.01" y="374.24" width="14.56" height="14.55" fill="#3181bd" stroke="none" stroke-width="0" shape-rendering="crispEdges"/>
<rect x="1588.97" y="374.24" width="14.56" height="14.55" fill="#dfecf7" stroke="none" stroke-width="0" shape-rendering="crispEdges"/>
<rect x="1477.31" y="388.18" width="14.56" height="14.55" fill="#dfecf7" stroke="none" stroke-width="0" shape-rendering="crispEdges"/>
<rect x="1491.26" y="388.18" width="14.56" height="14.55" fill="#a3cce3" stroke="none" stroke-width="0" shape-rendering="crispEdges"/>
<rect x="1505.22" y="388.18" width="14.56" height="14.55" fill="#6aaed6" stroke="none" stroke-width="0" shape-rendering="crispEdges"/>
<rect x="1519.18" y="388.18" width="14.56" height="14.55" fill="#6aaed6" stroke="none" stroke-width="0" shape-rendering="crispEdges"/>
<rect x="1533.14" y="388.18" width="14.56" height="14.55" fill="#3181bd" stroke="none" stroke-width="0" shape-rendering="crispEdges"/>
<rect x="1547.09" y="388.18" width="14.56" height="14.55" fill="#3181bd" stroke="none" stroke-width="0" shape-rendering="crispEdges"/>
<rect x="1561.05" y="388.18" width="14.56" height="14.55" fill="#4a98c9" stroke="none" stroke-width="0" shape-rendering="crispEdges"/>
<rect x="1575.01" y="388.18" width="14.56" height="14.55" fill="#6aaed6" stroke="none" stroke-width="0" shape-rendering="crispEdges"/>
<rect x="1477.31" y="402.13" width="14.56" height="14.55" fill="#a3cce3" stroke="none" stroke-width="0" shape-rendering="crispEdges"/>
<rect x="1491.26" y="402.13" width="14.56" height="14.55" fill="#a3cce3" stroke="none" stroke-width="0" shape-rendering="crispEdges"/>
<rect x="1505.22" y="402.13" width="14.56" height="14.55" fill="#4a98c9" stroke="none" stroke-width="0" shape-rendering="crispEdges"/>
<rect x="1519.18" y="402.13" width="14.56" height="14.55" fill="#3181bd" stroke="none" stroke-width="0" shape-rendering="crispEdges"/>
<rect x="1533.14" y="402.13" width="14.56" height="14.55" fill="#3181bd" stroke="none" stroke-width="0" shape-rendering="crispEdges"/>
<rect x="1547.09" y="402.13" width="14.56" height="14.55" fill="#3181bd" stroke="none" stroke-width="0" shape-rendering="crispEdges"/>
<rect x="1561.05" y="402.13" width="14.56" height="14.55" fill="#4a98c9" stroke="none" stroke-width="0" shape-rendering="crispEdges"/>
<rect x="1575.01" y="402.13" width="14.56" height="14.55" fill="#a3cce3" stroke="none" stroke-width="0" shape-rendering="crispEdges"/>
<rect x="1463.35" y="416.08" width="14.56" height="14.55" fill="#cadef0" stroke="none" stroke-width="0" shape-rendering="crispEdges"/>
<rect x="1477.31" y="416.08" width="14.56" height="14.55" fill="#6aaed6" stroke="none" stroke-width="0" shape-rendering="crispEdges"/>
<rect x="1491.26" y="416.08" width="14.56" height="14.55" fill="#3181bd" stroke="none" stroke-width="0" shape-rendering="crispEdges"/>
<rect x="1505.22" y="416.08" width="14.56" height="14.55" fill="#3181bd" stroke="none" stroke-width="0" shape-rendering="crispEdges"/>
<rect x="1519.18" y="416.08" width="14.56" height="14.55" fill="#1c6bb0" stroke="none" stroke-width="0" shape-rendering="crispEdges"/>
<rect x="1533.14" y="416.08" width="14.56" height="14.55" fill="#1c6bb0" stroke="none" stroke-width="0" shape-rendering="crispEdges"/>
<rect x="1547.09" y="416.08" width="14.56" height="14.55" fill="#4a98c9" stroke="none" stroke-width="0" shape-rendering="crispEdges"/>
<rect x="1561.05" y="416.08" width="14.56" height="14.55" fill="#a3cce3" stroke="none" stroke-width="0" shape-rendering="crispEdges"/>
<rect x="1575.01" y="416.08" width="14.56" height="14.55" fill="#dfecf7" stroke="none" stroke-width="0" shape-rendering="crispEdges"/>
<rect x="1463.35" y="430.03" width="14.56" height="14.55" fill="#6aaed6" stroke="none" stroke-width="0" shape-rendering="crispEdges"/>
<rect x="1477.31" y="430.03" width="14.56" height="14.55" fill="#4a98c9" stroke="none" stroke-width="0" shape-rendering="crispEdges"/>
<rect x="1491.26" y="430.03" width="14.56" height="14.55" fill="#1c6bb0" stroke="none" stroke-width="0" shape-rendering="crispEdges"/>
<rect x="1505.22" y="430.03" width="14.56" height="14.55" fill="#3181bd" stroke="none" stroke-width="0" shape-rendering="crispEdges"/>
<rect x="1519.18" y="430.03" width="14.56" height="14.55" fill="#3181bd" stroke="none" stroke-width="0" shape-rendering="crispEdges"/>
<rect x="1533.14" y="430.03" width="14.56" height="14.55" fill="#4a98c9" stroke="none" stroke-width="0" shape-rendering="crispEdges"/>
<rect x="1547.09" y="430.03" width="14.56" height="14.55" fill="#a3cce3" stroke="none" stroke-width="0" shape-rendering="crispEdges"/>
<rect x="1561.05" y="430.03" width="14.56" height="14.55" fill="#cadef0" stroke="none" stroke-width="0" shape-rendering="crispEdges"/>
<rect x="1449.39" y="443.97" width="14.56" height="14.55" fill="#dfecf7" stroke="none" stroke-width="0" shape-rendering="crispEdges"/>
<rect x="1463.35" y="443.97" width="14.56" height="14.55" fill="#4a98c9" stroke="none" stroke-width="0" shape-rendering="crispEdges"/>
<rect x="1477.31" y="443.97" width="14.56" height="14.55" fill="#3181bd" stroke="none" stroke-width="0" shape-rendering="crispEdges"/>
<rect x="1491.26" y="443.97" width="14.56" height="14.55" fill="#3181bd" stroke="none" stroke-width="0" shape-rendering="crispEdges"/>
<rect x="1505.22" y="443.97" width="14.56" height="14.55" fill="#3181bd" stroke="none" stroke-width="0" shape-rendering="crispEdges"/>
<rect x="1519.18" y="443.97" width="14.56" height="14.55" fill="#4a98c9" stroke="none" stroke-width="0" shape-rendering="crispEdges"/>
<rect x="1533.14" y="443.97" width="14.56" height="14.55" fill="#6aaed6" stroke="none" stroke-width="0" shape-rendering="crispEdges"/>
<rect x="1547.09" y="443.97" width="14.56" height="14.55" fill="#cadef0" stroke="none" stroke-width="0" shape-rendering="crispEdges"/>
<rect x="1449.39" y="457.92" width="14.56" height="14.55" fill="#dfecf7" stroke="none" stroke-width="0" shape-rendering="crispEdges"/>
<rect x="1463.35" y="457.92" width="14.56" height="14.55" fill="#3181bd" stroke="none" stroke-width="0" shape-rendering="crispEdges"/>
<rect x="1477.31" y="457.92" width="14.56" height="14.55" fill="#3181bd" stroke="none" stroke-width="0" shape-rendering="crispEdges"/>
<rect x="1491.26" y="457.92" width="14.56" height="14.55" fill="#4a98c9" stroke="none" stroke-width="0" shape-rendering="crispEdges"/>
<rect x="1505.22" y="457.92" width="14.56" height="14.55" fill="#4a98c9" stroke="none" stroke-width="0" shape-rendering="crispEdges"/>
<rect x="1519.18" y="457.92" width="14.56" height="14.55" fill="#6aaed6" stroke="none" stroke-width="0" shape-rendering="crispEdges"/>
<rect x="1533.14" y="457.92" width="14.56" height="14.55" fill="#cadef0" stroke="none" stroke-width="0" shape-rendering="crispEdges"/>
<rect x="1547.09" y="457.92" width="14.56" height="14.55" fill="#dfecf7" stroke="none" stroke-width="0" shape-rendering="crispEdges"/>
<rect x="1463.35" y="471.87" width="14.56" height="14.55" fill="#4a98c9" stroke="none" stroke-width="0" shape-rendering="crispEdges"/>
<rect x="1477.31" y="471.87" width="14.56" height="14.55" fill="#3181bd" stroke="none" stroke-width="0" shape-rendering="crispEdges"/>
<rect x="1491.26" y="471.87" width="14.56" height="14.55" fill="#3181bd" stroke="none" stroke-width="0" shape-rendering="crispEdges"/>
<rect x="1505.22" y="471.87" width="14.56" height="14.55" fill="#6aaed6" stroke="none" stroke-width="0" shape-rendering="crispEdges"/>
<rect x="1519.18" y="471.87" width="14.56" height="14.55" fill="#cadef0" stroke="none" stroke-width="0" shape-rendering="crispEdges"/>
<rect x="1533.14" y="471.87" width="14.56" height="14.55" fill="#dfecf7" stroke="none" stroke-width="0" shape-rendering="crispEdges"/>
<rect x="1463.35" y="485.82" width="14.56" height="14.55" fill="#dfecf7" stroke="none" stroke-width="0" shape-rendering="crispEdges"/>
<rect x="1477.31" y="485.82" width="14.56" height="14.55" fill="#cadef0" stroke="none" stroke-width="0" shape-rendering="crispEdges"/>
<rect x="1491.26" y="485.82" width="14.56" height="14.55" fill="#cadef0" stroke="none" stroke-width="0" shape-rendering="crispEdges"/>
<rect x="1505.22" y="485.82" width="14.56" height="14.55" fill="#cadef0" stroke="none" stroke-width="0" shape-rendering="crispEdges"/>
<rect x="1477.31" y="499.76" width="14.56" height="14.55" fill="#cadef0" stroke="none" stroke-width="0" shape-rendering="crispEdges"/>
<rect x="1491.26" y="499.76" width="14.56" height="14.55" fill="#cadef0" stroke="none" stroke-width="0" shape-rendering="crispEdges"/>
<line x1="1428.45" y1="304.5" x2="1428.45" y2="569.5" stroke="#000" stroke-width="1.5" stroke-dasharray="4 2.6"/>
<line x1="1379.6" y1="520.68" x2="1644.8" y2="520.68" stroke="#000" stroke-width="1.5" stroke-dasharray="4 2.6"/>
<circle cx="1428.45" cy="520.68" r="3.9" fill="none" stroke="#111" stroke-width="2"/>
<polygon points="1498.24,429.9 1500.33,434.13 1504.99,434.81 1501.62,438.1 1502.42,442.74 1498.24,440.55 1494.07,442.74 1494.87,438.1 1491.49,434.81 1496.16,434.13" fill="#f50f0f" stroke="#f50f0f" stroke-width="0.6"/>
<rect x="1379.6" y="304.5" width="265.2" height="265" fill="none" stroke="#1a1a1a" stroke-width="1.6" />
<line x1="1379.6" y1="311.47" x2="1385.6" y2="311.47" stroke="#1a1a1a" stroke-width="1.3" />
<text transform="translate(1370.8,317.47)" font-family="&quot;Liberation Sans&quot;, Arial, Helvetica, sans-serif" font-size="17.1" font-weight="normal" font-style="normal" text-anchor="end" fill="#000" >0.5</text>
<line x1="1386.58" y1="569.5" x2="1386.58" y2="562.5" stroke="#1a1a1a" stroke-width="1.3" />
<text transform="translate(1391.58,579.1) rotate(-90)" font-family="&quot;Liberation Sans&quot;, Arial, Helvetica, sans-serif" font-size="17.1" font-weight="normal" font-style="normal" text-anchor="end" fill="#000" >0.0</text>
<line x1="1379.6" y1="325.42" x2="1385.6" y2="325.42" stroke="#1a1a1a" stroke-width="1.3" />
<text transform="translate(1370.8,331.42)" font-family="&quot;Liberation Sans&quot;, Arial, Helvetica, sans-serif" font-size="17.1" font-weight="normal" font-style="normal" text-anchor="end" fill="#000" >0.45</text>
<line x1="1400.54" y1="569.5" x2="1400.54" y2="562.5" stroke="#1a1a1a" stroke-width="1.3" />
<text transform="translate(1405.54,579.1) rotate(-90)" font-family="&quot;Liberation Sans&quot;, Arial, Helvetica, sans-serif" font-size="17.1" font-weight="normal" font-style="normal" text-anchor="end" fill="#000" >0.001</text>
<line x1="1379.6" y1="339.37" x2="1385.6" y2="339.37" stroke="#1a1a1a" stroke-width="1.3" />
<text transform="translate(1370.8,345.37)" font-family="&quot;Liberation Sans&quot;, Arial, Helvetica, sans-serif" font-size="17.1" font-weight="normal" font-style="normal" text-anchor="end" fill="#000" >0.4</text>
<line x1="1414.49" y1="569.5" x2="1414.49" y2="562.5" stroke="#1a1a1a" stroke-width="1.3" />
<text transform="translate(1419.49,579.1) rotate(-90)" font-family="&quot;Liberation Sans&quot;, Arial, Helvetica, sans-serif" font-size="17.1" font-weight="normal" font-style="normal" text-anchor="end" fill="#000" >0.005</text>
<line x1="1379.6" y1="353.32" x2="1385.6" y2="353.32" stroke="#1a1a1a" stroke-width="1.3" />
<text transform="translate(1370.8,359.32)" font-family="&quot;Liberation Sans&quot;, Arial, Helvetica, sans-serif" font-size="17.1" font-weight="normal" font-style="normal" text-anchor="end" fill="#000" >0.35</text>
<line x1="1428.45" y1="569.5" x2="1428.45" y2="562.5" stroke="#1a1a1a" stroke-width="1.3" />
<text transform="translate(1433.45,579.1) rotate(-90)" font-family="&quot;Liberation Sans&quot;, Arial, Helvetica, sans-serif" font-size="17.1" font-weight="normal" font-style="normal" text-anchor="end" fill="#000" >0.01</text>
<line x1="1379.6" y1="367.26" x2="1385.6" y2="367.26" stroke="#1a1a1a" stroke-width="1.3" />
<text transform="translate(1370.8,373.26)" font-family="&quot;Liberation Sans&quot;, Arial, Helvetica, sans-serif" font-size="17.1" font-weight="normal" font-style="normal" text-anchor="end" fill="#000" >0.3</text>
<line x1="1442.41" y1="569.5" x2="1442.41" y2="562.5" stroke="#1a1a1a" stroke-width="1.3" />
<text transform="translate(1447.41,579.1) rotate(-90)" font-family="&quot;Liberation Sans&quot;, Arial, Helvetica, sans-serif" font-size="17.1" font-weight="normal" font-style="normal" text-anchor="end" fill="#000" >0.02</text>
<line x1="1379.6" y1="381.21" x2="1385.6" y2="381.21" stroke="#1a1a1a" stroke-width="1.3" />
<text transform="translate(1370.8,387.21)" font-family="&quot;Liberation Sans&quot;, Arial, Helvetica, sans-serif" font-size="17.1" font-weight="normal" font-style="normal" text-anchor="end" fill="#000" >0.27</text>
<line x1="1456.37" y1="569.5" x2="1456.37" y2="562.5" stroke="#1a1a1a" stroke-width="1.3" />
<text transform="translate(1461.37,579.1) rotate(-90)" font-family="&quot;Liberation Sans&quot;, Arial, Helvetica, sans-serif" font-size="17.1" font-weight="normal" font-style="normal" text-anchor="end" fill="#000" >0.03</text>
<line x1="1379.6" y1="395.16" x2="1385.6" y2="395.16" stroke="#1a1a1a" stroke-width="1.3" />
<text transform="translate(1370.8,401.16)" font-family="&quot;Liberation Sans&quot;, Arial, Helvetica, sans-serif" font-size="17.1" font-weight="normal" font-style="normal" text-anchor="end" fill="#000" >0.24</text>
<line x1="1470.33" y1="569.5" x2="1470.33" y2="562.5" stroke="#1a1a1a" stroke-width="1.3" />
<text transform="translate(1475.33,579.1) rotate(-90)" font-family="&quot;Liberation Sans&quot;, Arial, Helvetica, sans-serif" font-size="17.1" font-weight="normal" font-style="normal" text-anchor="end" fill="#000" >0.06</text>
<line x1="1379.6" y1="409.11" x2="1385.6" y2="409.11" stroke="#1a1a1a" stroke-width="1.3" />
<text transform="translate(1370.8,415.11)" font-family="&quot;Liberation Sans&quot;, Arial, Helvetica, sans-serif" font-size="17.1" font-weight="normal" font-style="normal" text-anchor="end" fill="#000" >0.21</text>
<line x1="1484.28" y1="569.5" x2="1484.28" y2="562.5" stroke="#1a1a1a" stroke-width="1.3" />
<text transform="translate(1489.28,579.1) rotate(-90)" font-family="&quot;Liberation Sans&quot;, Arial, Helvetica, sans-serif" font-size="17.1" font-weight="normal" font-style="normal" text-anchor="end" fill="#000" >0.09</text>
<line x1="1379.6" y1="423.05" x2="1385.6" y2="423.05" stroke="#1a1a1a" stroke-width="1.3" />
<text transform="translate(1370.8,429.05)" font-family="&quot;Liberation Sans&quot;, Arial, Helvetica, sans-serif" font-size="17.1" font-weight="normal" font-style="normal" text-anchor="end" fill="#000" >0.18</text>
<line x1="1498.24" y1="569.5" x2="1498.24" y2="562.5" stroke="#1a1a1a" stroke-width="1.3" />
<text transform="translate(1503.24,579.1) rotate(-90)" font-family="&quot;Liberation Sans&quot;, Arial, Helvetica, sans-serif" font-size="17.1" font-weight="normal" font-style="normal" text-anchor="end" fill="#000" >0.12</text>
<line x1="1379.6" y1="437" x2="1385.6" y2="437" stroke="#1a1a1a" stroke-width="1.3" />
<text transform="translate(1370.8,443)" font-family="&quot;Liberation Sans&quot;, Arial, Helvetica, sans-serif" font-size="17.1" font-weight="normal" font-style="normal" text-anchor="end" fill="#000" >0.15</text>
<line x1="1512.2" y1="569.5" x2="1512.2" y2="562.5" stroke="#1a1a1a" stroke-width="1.3" />
<text transform="translate(1517.2,579.1) rotate(-90)" font-family="&quot;Liberation Sans&quot;, Arial, Helvetica, sans-serif" font-size="17.1" font-weight="normal" font-style="normal" text-anchor="end" fill="#000" >0.15</text>
<line x1="1379.6" y1="450.95" x2="1385.6" y2="450.95" stroke="#1a1a1a" stroke-width="1.3" />
<text transform="translate(1370.8,456.95)" font-family="&quot;Liberation Sans&quot;, Arial, Helvetica, sans-serif" font-size="17.1" font-weight="normal" font-style="normal" text-anchor="end" fill="#000" >0.12</text>
<line x1="1526.16" y1="569.5" x2="1526.16" y2="562.5" stroke="#1a1a1a" stroke-width="1.3" />
<text transform="translate(1531.16,579.1) rotate(-90)" font-family="&quot;Liberation Sans&quot;, Arial, Helvetica, sans-serif" font-size="17.1" font-weight="normal" font-style="normal" text-anchor="end" fill="#000" >0.18</text>
<line x1="1379.6" y1="464.89" x2="1385.6" y2="464.89" stroke="#1a1a1a" stroke-width="1.3" />
<text transform="translate(1370.8,470.89)" font-family="&quot;Liberation Sans&quot;, Arial, Helvetica, sans-serif" font-size="17.1" font-weight="normal" font-style="normal" text-anchor="end" fill="#000" >0.09</text>
<line x1="1540.12" y1="569.5" x2="1540.12" y2="562.5" stroke="#1a1a1a" stroke-width="1.3" />
<text transform="translate(1545.12,579.1) rotate(-90)" font-family="&quot;Liberation Sans&quot;, Arial, Helvetica, sans-serif" font-size="17.1" font-weight="normal" font-style="normal" text-anchor="end" fill="#000" >0.21</text>
<line x1="1379.6" y1="478.84" x2="1385.6" y2="478.84" stroke="#1a1a1a" stroke-width="1.3" />
<text transform="translate(1370.8,484.84)" font-family="&quot;Liberation Sans&quot;, Arial, Helvetica, sans-serif" font-size="17.1" font-weight="normal" font-style="normal" text-anchor="end" fill="#000" >0.06</text>
<line x1="1554.07" y1="569.5" x2="1554.07" y2="562.5" stroke="#1a1a1a" stroke-width="1.3" />
<text transform="translate(1559.07,579.1) rotate(-90)" font-family="&quot;Liberation Sans&quot;, Arial, Helvetica, sans-serif" font-size="17.1" font-weight="normal" font-style="normal" text-anchor="end" fill="#000" >0.24</text>
<line x1="1379.6" y1="492.79" x2="1385.6" y2="492.79" stroke="#1a1a1a" stroke-width="1.3" />
<text transform="translate(1370.8,498.79)" font-family="&quot;Liberation Sans&quot;, Arial, Helvetica, sans-serif" font-size="17.1" font-weight="normal" font-style="normal" text-anchor="end" fill="#000" >0.03</text>
<line x1="1568.03" y1="569.5" x2="1568.03" y2="562.5" stroke="#1a1a1a" stroke-width="1.3" />
<text transform="translate(1573.03,579.1) rotate(-90)" font-family="&quot;Liberation Sans&quot;, Arial, Helvetica, sans-serif" font-size="17.1" font-weight="normal" font-style="normal" text-anchor="end" fill="#000" >0.27</text>
<line x1="1379.6" y1="506.74" x2="1385.6" y2="506.74" stroke="#1a1a1a" stroke-width="1.3" />
<text transform="translate(1370.8,512.74)" font-family="&quot;Liberation Sans&quot;, Arial, Helvetica, sans-serif" font-size="17.1" font-weight="normal" font-style="normal" text-anchor="end" fill="#000" >0.02</text>
<line x1="1581.99" y1="569.5" x2="1581.99" y2="562.5" stroke="#1a1a1a" stroke-width="1.3" />
<text transform="translate(1586.99,579.1) rotate(-90)" font-family="&quot;Liberation Sans&quot;, Arial, Helvetica, sans-serif" font-size="17.1" font-weight="normal" font-style="normal" text-anchor="end" fill="#000" >0.3</text>
<line x1="1379.6" y1="520.68" x2="1385.6" y2="520.68" stroke="#1a1a1a" stroke-width="1.3" />
<text transform="translate(1370.8,526.68)" font-family="&quot;Liberation Sans&quot;, Arial, Helvetica, sans-serif" font-size="17.1" font-weight="normal" font-style="normal" text-anchor="end" fill="#000" >0.01</text>
<line x1="1595.95" y1="569.5" x2="1595.95" y2="562.5" stroke="#1a1a1a" stroke-width="1.3" />
<text transform="translate(1600.95,579.1) rotate(-90)" font-family="&quot;Liberation Sans&quot;, Arial, Helvetica, sans-serif" font-size="17.1" font-weight="normal" font-style="normal" text-anchor="end" fill="#000" >0.35</text>
<line x1="1379.6" y1="534.63" x2="1385.6" y2="534.63" stroke="#1a1a1a" stroke-width="1.3" />
<text transform="translate(1370.8,540.63)" font-family="&quot;Liberation Sans&quot;, Arial, Helvetica, sans-serif" font-size="17.1" font-weight="normal" font-style="normal" text-anchor="end" fill="#000" >0.005</text>
<line x1="1609.91" y1="569.5" x2="1609.91" y2="562.5" stroke="#1a1a1a" stroke-width="1.3" />
<text transform="translate(1614.91,579.1) rotate(-90)" font-family="&quot;Liberation Sans&quot;, Arial, Helvetica, sans-serif" font-size="17.1" font-weight="normal" font-style="normal" text-anchor="end" fill="#000" >0.4</text>
<line x1="1379.6" y1="548.58" x2="1385.6" y2="548.58" stroke="#1a1a1a" stroke-width="1.3" />
<text transform="translate(1370.8,554.58)" font-family="&quot;Liberation Sans&quot;, Arial, Helvetica, sans-serif" font-size="17.1" font-weight="normal" font-style="normal" text-anchor="end" fill="#000" >0.001</text>
<line x1="1623.86" y1="569.5" x2="1623.86" y2="562.5" stroke="#1a1a1a" stroke-width="1.3" />
<text transform="translate(1628.86,579.1) rotate(-90)" font-family="&quot;Liberation Sans&quot;, Arial, Helvetica, sans-serif" font-size="17.1" font-weight="normal" font-style="normal" text-anchor="end" fill="#000" >0.45</text>
<line x1="1379.6" y1="562.53" x2="1385.6" y2="562.53" stroke="#1a1a1a" stroke-width="1.3" />
<text transform="translate(1370.8,568.53)" font-family="&quot;Liberation Sans&quot;, Arial, Helvetica, sans-serif" font-size="17.1" font-weight="normal" font-style="normal" text-anchor="end" fill="#000" >0.0</text>
<line x1="1637.82" y1="569.5" x2="1637.82" y2="562.5" stroke="#1a1a1a" stroke-width="1.3" />
<text transform="translate(1642.82,579.1) rotate(-90)" font-family="&quot;Liberation Sans&quot;, Arial, Helvetica, sans-serif" font-size="17.1" font-weight="normal" font-style="normal" text-anchor="end" fill="#000" >0.5</text>
<text transform="translate(1394.5,328)" font-family="&quot;Liberation Sans&quot;, Arial, Helvetica, sans-serif" font-size="19.5" font-weight="bold" font-style="normal" text-anchor="start" fill="#000" >(e)</text>
<defs><linearGradient id="ge" x1="0" y1="1" x2="0" y2="0"><stop offset="0.000" stop-color="#083c7d"/><stop offset="0.050" stop-color="#084990"/><stop offset="0.100" stop-color="#0c56a0"/><stop offset="0.150" stop-color="#1562a9"/><stop offset="0.200" stop-color="#1f6eb3"/><stop offset="0.250" stop-color="#2b7bba"/><stop offset="0.300" stop-color="#3787c0"/><stop offset="0.350" stop-color="#4493c7"/><stop offset="0.400" stop-color="#549fcd"/><stop offset="0.450" stop-color="#64a9d3"/><stop offset="0.500" stop-color="#75b4d8"/><stop offset="0.550" stop-color="#89bedc"/><stop offset="0.600" stop-color="#9cc9e1"/><stop offset="0.650" stop-color="#abd0e6"/><stop offset="0.700" stop-color="#bcd7eb"/><stop offset="0.750" stop-color="#c9ddf0"/><stop offset="0.800" stop-color="#d2e3f3"/><stop offset="0.850" stop-color="#dbe9f6"/><stop offset="0.900" stop-color="#e4eff9"/><stop offset="0.950" stop-color="#eef5fc"/><stop offset="1.000" stop-color="#f7fbff"/></linearGradient></defs>
<rect x="1649.9" y="307.8" width="13.1" height="256" fill="url(#ge)" stroke="#1a1a1a" stroke-width="1.4" />
<text transform="translate(1669.5,568.6)" font-family="&quot;Liberation Sans&quot;, Arial, Helvetica, sans-serif" font-size="13.3" font-weight="normal" font-style="normal" text-anchor="start" fill="#000" >0.00</text>
<line x1="1663" y1="512.6" x2="1659" y2="512.6" stroke="#1a1a1a" stroke-width="1.3" />
<text transform="translate(1669.5,517.4)" font-family="&quot;Liberation Sans&quot;, Arial, Helvetica, sans-serif" font-size="13.3" font-weight="normal" font-style="normal" text-anchor="start" fill="#000" >0.02</text>
<line x1="1663" y1="461.4" x2="1659" y2="461.4" stroke="#1a1a1a" stroke-width="1.3" />
<text transform="translate(1669.5,466.2)" font-family="&quot;Liberation Sans&quot;, Arial, Helvetica, sans-serif" font-size="13.3" font-weight="normal" font-style="normal" text-anchor="start" fill="#000" >0.04</text>
<line x1="1663" y1="410.2" x2="1659" y2="410.2" stroke="#1a1a1a" stroke-width="1.3" />
<text transform="translate(1669.5,415)" font-family="&quot;Liberation Sans&quot;, Arial, Helvetica, sans-serif" font-size="13.3" font-weight="normal" font-style="normal" text-anchor="start" fill="#000" >0.06</text>
<line x1="1663" y1="359" x2="1659" y2="359" stroke="#1a1a1a" stroke-width="1.3" />
<text transform="translate(1669.5,363.8)" font-family="&quot;Liberation Sans&quot;, Arial, Helvetica, sans-serif" font-size="13.3" font-weight="normal" font-style="normal" text-anchor="start" fill="#000" >0.08</text>
<text transform="translate(1669.5,312.6)" font-family="&quot;Liberation Sans&quot;, Arial, Helvetica, sans-serif" font-size="13.3" font-weight="normal" font-style="normal" text-anchor="start" fill="#000" >0.10</text>
<polygon points="1014.6,40.1 1016.89,44.74 1022.02,45.49 1018.31,49.11 1019.18,54.21 1014.6,51.8 1010.02,54.21 1010.89,49.11 1007.18,45.49 1012.31,44.74" fill="#f50f0f" stroke="#f50f0f" stroke-width="0.6"/>
<circle cx="1014.6" cy="71.2" r="3.9" fill="none" stroke="#111" stroke-width="2"/>
<text transform="translate(1036,54.1)" font-family="&quot;Liberation Sans&quot;, Arial, Helvetica, sans-serif" font-size="18.9" font-weight="normal" font-style="normal" text-anchor="start" fill="#000" >Min infidelity</text>
<text transform="translate(1036,78.4)" font-family="&quot;Liberation Sans&quot;, Arial, Helvetica, sans-serif" font-size="18.9" font-weight="normal" font-style="normal" text-anchor="start" fill="#000" >Expt. avg. A-matrix</text>
<text transform="translate(1033.5,17.2)" font-family="&quot;Liberation Sans&quot;, Arial, Helvetica, sans-serif" font-size="20.5" font-weight="normal" font-style="normal" text-anchor="start" fill="#000" >Logical tomography</text>
<text transform="translate(1394.5,17.4)" font-family="&quot;Liberation Sans&quot;, Arial, Helvetica, sans-serif" font-size="20.5" font-weight="normal" font-style="normal" text-anchor="start" fill="#000" >Raw physical tomography</text>
<text transform="translate(927.3,158.5) rotate(-90)" font-family="&quot;Liberation Sans&quot;, Arial, Helvetica, sans-serif" font-size="20.5" font-weight="normal" font-style="normal" text-anchor="middle" fill="#000" >Error Suppressed</text>
<text transform="translate(927,432.8) rotate(-90)" font-family="&quot;Liberation Sans&quot;, Arial, Helvetica, sans-serif" font-size="20.5" font-weight="normal" font-style="normal" text-anchor="middle" fill="#000" >Staandard</text>
<text transform="translate(907.2,307.8)" font-family="&quot;Liberation Serif&quot;, &quot;DejaVu Serif&quot;, serif" font-size="23" font-weight="normal" font-style="italic" text-anchor="middle" fill="#000" style="stroke-width:0">p</text>
<text transform="translate(1115.5,636)" font-family="&quot;Liberation Serif&quot;, &quot;DejaVu Serif&quot;, serif" font-size="23" font-weight="normal" font-style="italic" text-anchor="middle" fill="#000" style="stroke-width:0">q</text>
<text transform="translate(1523.5,636)" font-family="&quot;Liberation Serif&quot;, &quot;DejaVu Serif&quot;, serif" font-size="23" font-weight="normal" font-style="italic" text-anchor="middle" fill="#000" style="stroke-width:0">q</text>
<rect x="1772.1" y="23.9" width="275.3" height="272.6" fill="#ffffff" stroke="none" stroke-width="0" />
<polyline points="1784.8,277.96 1795.63,279.6 1806.46,227.26 1817.29,276.87 1828.12,287.23 1838.95,279.05 1849.78,285.6 1860.61,285.6 1871.44,285.6 1882.27,284.51 1893.1,278.51 1903.93,285.6 1914.76,275.24 1925.59,283.96 1936.42,280.14 1947.25,282.32 1958.08,281.23 1968.91,274.69 1979.74,285.05 1990.57,283.96 2001.4,281.23 2012.23,280.14 2023.06,288.32" fill="none" stroke="#ff0000" stroke-opacity="0.55" stroke-width="1.5"/>
<line x1="2023.06" y1="288.32" x2="2033.89" y2="285.05" stroke="#ff0000" stroke-width="1.5" stroke-opacity="0.55"/>
<path d="M1778.8,271.96L1790.8,283.96M1778.8,283.96L1790.8,271.96" stroke="#ff0000" stroke-width="1.4" stroke-opacity="0.55" fill="none"/>
<path d="M1789.63,273.6L1801.63,285.6M1789.63,285.6L1801.63,273.6" stroke="#ff0000" stroke-width="1.4" stroke-opacity="0.55" fill="none"/>
<path d="M1800.46,221.26L1812.46,233.26M1800.46,233.26L1812.46,221.26" stroke="#ff0000" stroke-width="1.4" stroke-opacity="0.55" fill="none"/>
<path d="M1811.29,270.87L1823.29,282.87M1811.29,282.87L1823.29,270.87" stroke="#ff0000" stroke-width="1.4" stroke-opacity="0.55" fill="none"/>
<path d="M1822.12,281.23L1834.12,293.23M1822.12,293.23L1834.12,281.23" stroke="#ff0000" stroke-width="1.4" stroke-opacity="0.55" fill="none"/>
<path d="M1832.95,273.05L1844.95,285.05M1832.95,285.05L1844.95,273.05" stroke="#ff0000" stroke-width="1.4" stroke-opacity="0.55" fill="none"/>
<path d="M1843.78,279.6L1855.78,291.6M1843.78,291.6L1855.78,279.6" stroke="#ff0000" stroke-width="1.4" stroke-opacity="0.55" fill="none"/>
<path d="M1854.61,279.6L1866.61,291.6M1854.61,291.6L1866.61,279.6" stroke="#ff0000" stroke-width="1.4" stroke-opacity="0.55" fill="none"/>
<path d="M1865.44,279.6L1877.44,291.6M1865.44,291.6L1877.44,279.6" stroke="#ff0000" stroke-width="1.4" stroke-opacity="0.55" fill="none"/>
<path d="M1876.27,278.51L1888.27,290.51M1876.27,290.51L1888.27,278.51" stroke="#ff0000" stroke-width="1.4" stroke-opacity="0.55" fill="none"/>
<path d="M1887.1,272.51L1899.1,284.51M1887.1,284.51L1899.1,272.51" stroke="#ff0000" stroke-width="1.4" stroke-opacity="0.55" fill="none"/>
<path d="M1897.93,279.6L1909.93,291.6M1897.93,291.6L1909.93,279.6" stroke="#ff0000" stroke-width="1.4" stroke-opacity="0.55" fill="none"/>
<path d="M1908.76,269.24L1920.76,281.24M1908.76,281.24L1920.76,269.24" stroke="#ff0000" stroke-width="1.4" stroke-opacity="0.55" fill="none"/>
<path d="M1919.59,277.96L1931.59,289.96M1919.59,289.96L1931.59,277.96" stroke="#ff0000" stroke-width="1.4" stroke-opacity="0.55" fill="none"/>
<path d="M1930.42,274.14L1942.42,286.14M1930.42,286.14L1942.42,274.14" stroke="#ff0000" stroke-width="1.4" stroke-opacity="0.55" fill="none"/>
<path d="M1941.25,276.32L1953.25,288.32M1941.25,288.32L1953.25,276.32" stroke="#ff0000" stroke-width="1.4" stroke-opacity="0.55" fill="none"/>
<path d="M1952.08,275.23L1964.08,287.23M1952.08,287.23L1964.08,275.23" stroke="#ff0000" stroke-width="1.4" stroke-opacity="0.55" fill="none"/>
<path d="M1962.91,268.69L1974.91,280.69M1962.91,280.69L1974.91,268.69" stroke="#ff0000" stroke-width="1.4" stroke-opacity="0.55" fill="none"/>
<path d="M1973.74,279.05L1985.74,291.05M1973.74,291.05L1985.74,279.05" stroke="#ff0000" stroke-width="1.4" stroke-opacity="0.55" fill="none"/>
<path d="M1984.57,277.96L1996.57,289.96M1984.57,289.96L1996.57,277.96" stroke="#ff0000" stroke-width="1.4" stroke-opacity="0.55" fill="none"/>
<path d="M1995.4,275.23L2007.4,287.23M1995.4,287.23L2007.4,275.23" stroke="#ff0000" stroke-width="1.4" stroke-opacity="0.55" fill="none"/>
<path d="M2006.23,274.14L2018.23,286.14M2006.23,286.14L2018.23,274.14" stroke="#ff0000" stroke-width="1.4" stroke-opacity="0.55" fill="none"/>
<path d="M2017.06,282.32L2029.06,294.32M2017.06,294.32L2029.06,282.32" stroke="#ff0000" stroke-width="1.4" stroke-opacity="0.55" fill="none"/>
<polyline points="1784.8,279.05 1795.63,137.3 1806.46,259.7 1817.29,216.9 1828.12,71.88 1838.95,286.14 1849.78,280.69 1860.61,285.6 1871.44,228.35 1882.27,285.6 1893.1,292.68 1903.93,286.14 1914.76,263.79 1925.59,283.96 1936.42,274.15 1947.25,283.96 1958.08,281.78 1968.91,285.6 1979.74,258.34 1990.57,247.98 2001.4,258.34 2012.23,280.14 2023.06,258.88" fill="none" stroke="#0000ff" stroke-opacity="0.55" stroke-width="1.5"/>
<line x1="2023.06" y1="258.88" x2="2033.89" y2="216.36" stroke="#0000ff" stroke-width="1.5" stroke-opacity="0.55"/>
<path d="M1778.8,273.05L1790.8,285.05M1778.8,285.05L1790.8,273.05" stroke="#0000ff" stroke-width="1.4" stroke-opacity="0.55" fill="none"/>
<path d="M1789.63,131.3L1801.63,143.3M1789.63,143.3L1801.63,131.3" stroke="#0000ff" stroke-width="1.4" stroke-opacity="0.55" fill="none"/>
<path d="M1800.46,253.7L1812.46,265.7M1800.46,265.7L1812.46,253.7" stroke="#0000ff" stroke-width="1.4" stroke-opacity="0.55" fill="none"/>
<path d="M1811.29,210.9L1823.29,222.9M1811.29,222.9L1823.29,210.9" stroke="#0000ff" stroke-width="1.4" stroke-opacity="0.55" fill="none"/>
<path d="M1822.12,65.88L1834.12,77.88M1822.12,77.88L1834.12,65.88" stroke="#0000ff" stroke-width="1.4" stroke-opacity="0.55" fill="none"/>
<path d="M1832.95,280.14L1844.95,292.14M1832.95,292.14L1844.95,280.14" stroke="#0000ff" stroke-width="1.4" stroke-opacity="0.55" fill="none"/>
<path d="M1843.78,274.69L1855.78,286.69M1843.78,286.69L1855.78,274.69" stroke="#0000ff" stroke-width="1.4" stroke-opacity="0.55" fill="none"/>
<path d="M1854.61,279.6L1866.61,291.6M1854.61,291.6L1866.61,279.6" stroke="#0000ff" stroke-width="1.4" stroke-opacity="0.55" fill="none"/>
<path d="M1865.44,222.35L1877.44,234.35M1865.44,234.35L1877.44,222.35" stroke="#0000ff" stroke-width="1.4" stroke-opacity="0.55" fill="none"/>
<path d="M1876.27,279.6L1888.27,291.6M1876.27,291.6L1888.27,279.6" stroke="#0000ff" stroke-width="1.4" stroke-opacity="0.55" fill="none"/>
<path d="M1887.1,286.68L1899.1,298.68M1887.1,298.68L1899.1,286.68" stroke="#0000ff" stroke-width="1.4" stroke-opacity="0.55" fill="none"/>
<path d="M1897.93,280.14L1909.93,292.14M1897.93,292.14L1909.93,280.14" stroke="#0000ff" stroke-width="1.4" stroke-opacity="0.55" fill="none"/>
<path d="M1908.76,257.79L1920.76,269.79M1908.76,269.79L1920.76,257.79" stroke="#0000ff" stroke-width="1.4" stroke-opacity="0.55" fill="none"/>
<path d="M1919.59,277.96L1931.59,289.96M1919.59,289.96L1931.59,277.96" stroke="#0000ff" stroke-width="1.4" stroke-opacity="0.55" fill="none"/>
<path d="M1930.42,268.15L1942.42,280.15M1930.42,280.15L1942.42,268.15" stroke="#0000ff" stroke-width="1.4" stroke-opacity="0.55" fill="none"/>
<path d="M1941.25,277.96L1953.25,289.96M1941.25,289.96L1953.25,277.96" stroke="#0000ff" stroke-width="1.4" stroke-opacity="0.55" fill="none"/>
<path d="M1952.08,275.78L1964.08,287.78M1952.08,287.78L1964.08,275.78" stroke="#0000ff" stroke-width="1.4" stroke-opacity="0.55" fill="none"/>
<path d="M1962.91,279.6L1974.91,291.6M1962.91,291.6L1974.91,279.6" stroke="#0000ff" stroke-width="1.4" stroke-opacity="0.55" fill="none"/>
<path d="M1973.74,252.34L1985.74,264.34M1973.74,264.34L1985.74,252.34" stroke="#0000ff" stroke-width="1.4" stroke-opacity="0.55" fill="none"/>
<path d="M1984.57,241.98L1996.57,253.98M1984.57,253.98L1996.57,241.98" stroke="#0000ff" stroke-width="1.4" stroke-opacity="0.55" fill="none"/>
<path d="M1995.4,252.34L2007.4,264.34M1995.4,264.34L2007.4,252.34" stroke="#0000ff" stroke-width="1.4" stroke-opacity="0.55" fill="none"/>
<path d="M2006.23,274.14L2018.23,286.14M2006.23,286.14L2018.23,274.14" stroke="#0000ff" stroke-width="1.4" stroke-opacity="0.55" fill="none"/>
<path d="M2017.06,252.88L2029.06,264.88M2017.06,264.88L2029.06,252.88" stroke="#0000ff" stroke-width="1.4" stroke-opacity="0.55" fill="none"/>
<polyline points="1784.8,209.27 1795.63,217.45 1806.46,204.36 1817.29,231.62 1828.12,222.35 1838.95,220.17 1849.78,217.45 1860.61,206 1871.44,220.17 1882.27,206 1893.1,209.27 1903.93,211.99 1914.76,224.53 1925.59,200 1936.42,208.18 1947.25,218.54 1958.08,194 1968.91,202.18 1979.74,209.27 1990.57,192.91 2001.4,206.54 2012.23,202.18 2023.06,183.64" fill="none" stroke="#008000" stroke-opacity="0.55" stroke-width="1.5"/>
<line x1="2023.06" y1="183.64" x2="2033.89" y2="216.36" stroke="#008000" stroke-width="1.5" stroke-opacity="0.55"/>
<path d="M1778.8,203.27L1790.8,215.27M1778.8,215.27L1790.8,203.27" stroke="#008000" stroke-width="1.4" stroke-opacity="0.55" fill="none"/>
<path d="M1789.63,211.45L1801.63,223.45M1789.63,223.45L1801.63,211.45" stroke="#008000" stroke-width="1.4" stroke-opacity="0.55" fill="none"/>
<path d="M1800.46,198.36L1812.46,210.36M1800.46,210.36L1812.46,198.36" stroke="#008000" stroke-width="1.4" stroke-opacity="0.55" fill="none"/>
<path d="M1811.29,225.62L1823.29,237.62M1811.29,237.62L1823.29,225.62" stroke="#008000" stroke-width="1.4" stroke-opacity="0.55" fill="none"/>
<path d="M1822.12,216.35L1834.12,228.35M1822.12,228.35L1834.12,216.35" stroke="#008000" stroke-width="1.4" stroke-opacity="0.55" fill="none"/>
<path d="M1832.95,214.17L1844.95,226.17M1832.95,226.17L1844.95,214.17" stroke="#008000" stroke-width="1.4" stroke-opacity="0.55" fill="none"/>
<path d="M1843.78,211.45L1855.78,223.45M1843.78,223.45L1855.78,211.45" stroke="#008000" stroke-width="1.4" stroke-opacity="0.55" fill="none"/>
<path d="M1854.61,200L1866.61,212M1854.61,212L1866.61,200" stroke="#008000" stroke-width="1.4" stroke-opacity="0.55" fill="none"/>
<path d="M1865.44,214.17L1877.44,226.17M1865.44,226.17L1877.44,214.17" stroke="#008000" stroke-width="1.4" stroke-opacity="0.55" fill="none"/>
<path d="M1876.27,200L1888.27,212M1876.27,212L1888.27,200" stroke="#008000" stroke-width="1.4" stroke-opacity="0.55" fill="none"/>
<path d="M1887.1,203.27L1899.1,215.27M1887.1,215.27L1899.1,203.27" stroke="#008000" stroke-width="1.4" stroke-opacity="0.55" fill="none"/>
<path d="M1897.93,205.99L1909.93,217.99M1897.93,217.99L1909.93,205.99" stroke="#008000" stroke-width="1.4" stroke-opacity="0.55" fill="none"/>
<path d="M1908.76,218.53L1920.76,230.53M1908.76,230.53L1920.76,218.53" stroke="#008000" stroke-width="1.4" stroke-opacity="0.55" fill="none"/>
<path d="M1919.59,194L1931.59,206M1919.59,206L1931.59,194" stroke="#008000" stroke-width="1.4" stroke-opacity="0.55" fill="none"/>
<path d="M1930.42,202.18L1942.42,214.18M1930.42,214.18L1942.42,202.18" stroke="#008000" stroke-width="1.4" stroke-opacity="0.55" fill="none"/>
<path d="M1941.25,212.54L1953.25,224.54M1941.25,224.54L1953.25,212.54" stroke="#008000" stroke-width="1.4" stroke-opacity="0.55" fill="none"/>
<path d="M1952.08,188L1964.08,200M1952.08,200L1964.08,188" stroke="#008000" stroke-width="1.4" stroke-opacity="0.55" fill="none"/>
<path d="M1962.91,196.18L1974.91,208.18M1962.91,208.18L1974.91,196.18" stroke="#008000" stroke-width="1.4" stroke-opacity="0.55" fill="none"/>
<path d="M1973.74,203.27L1985.74,215.27M1973.74,215.27L1985.74,203.27" stroke="#008000" stroke-width="1.4" stroke-opacity="0.55" fill="none"/>
<path d="M1984.57,186.91L1996.57,198.91M1984.57,198.91L1996.57,186.91" stroke="#008000" stroke-width="1.4" stroke-opacity="0.55" fill="none"/>
<path d="M1995.4,200.54L2007.4,212.54M1995.4,212.54L2007.4,200.54" stroke="#008000" stroke-width="1.4" stroke-opacity="0.55" fill="none"/>
<path d="M2006.23,196.18L2018.23,208.18M2006.23,208.18L2018.23,196.18" stroke="#008000" stroke-width="1.4" stroke-opacity="0.55" fill="none"/>
<path d="M2017.06,177.64L2029.06,189.64M2017.06,189.64L2029.06,177.64" stroke="#008000" stroke-width="1.4" stroke-opacity="0.55" fill="none"/>
<polyline points="1784.8,198.91 1795.63,202.73 1806.46,195.64 1817.29,206 1828.12,196.73 1838.95,206 1849.78,208.18 1860.61,183.64 1871.44,187.46 1882.27,198.91 1893.1,210.9 1903.93,210.9 1914.76,213.08 1925.59,201.09 1936.42,206 1947.25,206 1958.08,191.82 1968.91,178.19 1979.74,159.11 1990.57,191.82 2001.4,213.08 2012.23,187.46 2023.06,189.64" fill="none" stroke="#ffa500" stroke-opacity="0.55" stroke-width="1.5"/>
<line x1="2023.06" y1="189.64" x2="2033.89" y2="189.64" stroke="#ffa500" stroke-width="1.5" stroke-opacity="0.55"/>
<path d="M1778.8,192.91L1790.8,204.91M1778.8,204.91L1790.8,192.91" stroke="#ffa500" stroke-width="1.4" stroke-opacity="0.55" fill="none"/>
<path d="M1789.63,196.73L1801.63,208.73M1789.63,208.73L1801.63,196.73" stroke="#ffa500" stroke-width="1.4" stroke-opacity="0.55" fill="none"/>
<path d="M1800.46,189.64L1812.46,201.64M1800.46,201.64L1812.46,189.64" stroke="#ffa500" stroke-width="1.4" stroke-opacity="0.55" fill="none"/>
<path d="M1811.29,200L1823.29,212M1811.29,212L1823.29,200" stroke="#ffa500" stroke-width="1.4" stroke-opacity="0.55" fill="none"/>
<path d="M1822.12,190.73L1834.12,202.73M1822.12,202.73L1834.12,190.73" stroke="#ffa500" stroke-width="1.4" stroke-opacity="0.55" fill="none"/>
<path d="M1832.95,200L1844.95,212M1832.95,212L1844.95,200" stroke="#ffa500" stroke-width="1.4" stroke-opacity="0.55" fill="none"/>
<path d="M1843.78,202.18L1855.78,214.18M1843.78,214.18L1855.78,202.18" stroke="#ffa500" stroke-width="1.4" stroke-opacity="0.55" fill="none"/>
<path d="M1854.61,177.64L1866.61,189.64M1854.61,189.64L1866.61,177.64" stroke="#ffa500" stroke-width="1.4" stroke-opacity="0.55" fill="none"/>
<path d="M1865.44,181.46L1877.44,193.46M1865.44,193.46L1877.44,181.46" stroke="#ffa500" stroke-width="1.4" stroke-opacity="0.55" fill="none"/>
<path d="M1876.27,192.91L1888.27,204.91M1876.27,204.91L1888.27,192.91" stroke="#ffa500" stroke-width="1.4" stroke-opacity="0.55" fill="none"/>
<path d="M1887.1,204.9L1899.1,216.9M1887.1,216.9L1899.1,204.9" stroke="#ffa500" stroke-width="1.4" stroke-opacity="0.55" fill="none"/>
<path d="M1897.93,204.9L1909.93,216.9M1897.93,216.9L1909.93,204.9" stroke="#ffa500" stroke-width="1.4" stroke-opacity="0.55" fill="none"/>
<path d="M1908.76,207.08L1920.76,219.08M1908.76,219.08L1920.76,207.08" stroke="#ffa500" stroke-width="1.4" stroke-opacity="0.55" fill="none"/>
<path d="M1919.59,195.09L1931.59,207.09M1919.59,207.09L1931.59,195.09" stroke="#ffa500" stroke-width="1.4" stroke-opacity="0.55" fill="none"/>
<path d="M1930.42,200L1942.42,212M1930.42,212L1942.42,200" stroke="#ffa500" stroke-width="1.4" stroke-opacity="0.55" fill="none"/>
<path d="M1941.25,200L1953.25,212M1941.25,212L1953.25,200" stroke="#ffa500" stroke-width="1.4" stroke-opacity="0.55" fill="none"/>
<path d="M1952.08,185.82L1964.08,197.82M1952.08,197.82L1964.08,185.82" stroke="#ffa500" stroke-width="1.4" stroke-opacity="0.55" fill="none"/>
<path d="M1962.91,172.19L1974.91,184.19M1962.91,184.19L1974.91,172.19" stroke="#ffa500" stroke-width="1.4" stroke-opacity="0.55" fill="none"/>
<path d="M1973.74,153.11L1985.74,165.11M1973.74,165.11L1985.74,153.11" stroke="#ffa500" stroke-width="1.4" stroke-opacity="0.55" fill="none"/>
<path d="M1984.57,185.82L1996.57,197.82M1984.57,197.82L1996.57,185.82" stroke="#ffa500" stroke-width="1.4" stroke-opacity="0.55" fill="none"/>
<path d="M1995.4,207.08L2007.4,219.08M1995.4,219.08L2007.4,207.08" stroke="#ffa500" stroke-width="1.4" stroke-opacity="0.55" fill="none"/>
<path d="M2006.23,181.46L2018.23,193.46M2006.23,193.46L2018.23,181.46" stroke="#ffa500" stroke-width="1.4" stroke-opacity="0.55" fill="none"/>
<path d="M2017.06,183.64L2029.06,195.64M2017.06,195.64L2029.06,183.64" stroke="#ffa500" stroke-width="1.4" stroke-opacity="0.55" fill="none"/>
<line x1="1772.1" y1="231.08" x2="2047.4" y2="231.08" stroke="#000" stroke-width="2.2" />
<path d="M2028.19,210.06L2040.79,222.66M2028.19,222.66L2040.79,210.06" stroke="#0000c8" stroke-width="2.8" stroke-opacity="1.0" fill="none"/>
<path d="M2028.19,210.06L2040.79,222.66M2028.19,222.66L2040.79,210.06" stroke="#006400" stroke-width="2.8" stroke-opacity="1.0" fill="none"/>
<path d="M2028.19,183.34L2040.79,195.94M2028.19,195.94L2040.79,183.34" stroke="#f0a000" stroke-width="2.8" stroke-opacity="1.0" fill="none"/>
<path d="M2028.19,278.75L2040.79,291.35M2028.19,291.35L2040.79,278.75" stroke="#e00000" stroke-width="2.8" stroke-opacity="1.0" fill="none"/>
<rect x="1772.1" y="23.9" width="275.3" height="272.6" fill="none" stroke="#1a1a1a" stroke-width="1.6" />
<line x1="1772.1" y1="296.5" x2="1779.1" y2="296.5" stroke="#1a1a1a" stroke-width="1.3" />
<text transform="translate(1764.3,298.7)" font-family="&quot;Liberation Sans&quot;, Arial, Helvetica, sans-serif" font-size="14" font-weight="normal" font-style="normal" text-anchor="end" fill="#000" >0.00</text>
<line x1="1772.1" y1="241.98" x2="1779.1" y2="241.98" stroke="#1a1a1a" stroke-width="1.3" />
<text transform="translate(1764.3,246.98)" font-family="&quot;Liberation Sans&quot;, Arial, Helvetica, sans-serif" font-size="14" font-weight="normal" font-style="normal" text-anchor="end" fill="#000" >0.01</text>
<line x1="1772.1" y1="187.46" x2="1779.1" y2="187.46" stroke="#1a1a1a" stroke-width="1.3" />
<text transform="translate(1764.3,192.46)" font-family="&quot;Liberation Sans&quot;, Arial, Helvetica, sans-serif" font-size="14" font-weight="normal" font-style="normal" text-anchor="end" fill="#000" >0.02</text>
<line x1="1772.1" y1="132.94" x2="1779.1" y2="132.94" stroke="#1a1a1a" stroke-width="1.3" />
<text transform="translate(1764.3,137.94)" font-family="&quot;Liberation Sans&quot;, Arial, Helvetica, sans-serif" font-size="14" font-weight="normal" font-style="normal" text-anchor="end" fill="#000" >0.03</text>
<line x1="1772.1" y1="78.42" x2="1779.1" y2="78.42" stroke="#1a1a1a" stroke-width="1.3" />
<text transform="translate(1764.3,83.42)" font-family="&quot;Liberation Sans&quot;, Arial, Helvetica, sans-serif" font-size="14" font-weight="normal" font-style="normal" text-anchor="end" fill="#000" >0.04</text>
<line x1="1772.1" y1="23.9" x2="1779.1" y2="23.9" stroke="#1a1a1a" stroke-width="1.3" />
<text transform="translate(1764.3,34.1)" font-family="&quot;Liberation Sans&quot;, Arial, Helvetica, sans-serif" font-size="14" font-weight="normal" font-style="normal" text-anchor="end" fill="#000" >0.05</text>
<line x1="1784.8" y1="296.5" x2="1784.8" y2="290" stroke="#1a1a1a" stroke-width="1.3" />
<line x1="1795.63" y1="296.5" x2="1795.63" y2="290" stroke="#1a1a1a" stroke-width="1.3" />
<line x1="1806.46" y1="296.5" x2="1806.46" y2="290" stroke="#1a1a1a" stroke-width="1.3" />
<line x1="1817.29" y1="296.5" x2="1817.29" y2="290" stroke="#1a1a1a" stroke-width="1.3" />
<line x1="1828.12" y1="296.5" x2="1828.12" y2="290" stroke="#1a1a1a" stroke-width="1.3" />
<line x1="1838.95" y1="296.5" x2="1838.95" y2="290" stroke="#1a1a1a" stroke-width="1.3" />
<line x1="1849.78" y1="296.5" x2="1849.78" y2="290" stroke="#1a1a1a" stroke-width="1.3" />
<line x1="1860.61" y1="296.5" x2="1860.61" y2="290" stroke="#1a1a1a" stroke-width="1.3" />
<line x1="1871.44" y1="296.5" x2="1871.44" y2="290" stroke="#1a1a1a" stroke-width="1.3" />
<line x1="1882.27" y1="296.5" x2="1882.27" y2="290" stroke="#1a1a1a" stroke-width="1.3" />
<line x1="1893.1" y1="296.5" x2="1893.1" y2="290" stroke="#1a1a1a" stroke-width="1.3" />
<line x1="1903.93" y1="296.5" x2="1903.93" y2="290" stroke="#1a1a1a" stroke-width="1.3" />
<line x1="1914.76" y1="296.5" x2="1914.76" y2="290" stroke="#1a1a1a" stroke-width="1.3" />
<line x1="1925.59" y1="296.5" x2="1925.59" y2="290" stroke="#1a1a1a" stroke-width="1.3" />
<line x1="1936.42" y1="296.5" x2="1936.42" y2="290" stroke="#1a1a1a" stroke-width="1.3" />
<line x1="1947.25" y1="296.5" x2="1947.25" y2="290" stroke="#1a1a1a" stroke-width="1.3" />
<line x1="1958.08" y1="296.5" x2="1958.08" y2="290" stroke="#1a1a1a" stroke-width="1.3" />
<line x1="1968.91" y1="296.5" x2="1968.91" y2="290" stroke="#1a1a1a" stroke-width="1.3" />
<line x1="1979.74" y1="296.5" x2="1979.74" y2="290" stroke="#1a1a1a" stroke-width="1.3" />
<line x1="1990.57" y1="296.5" x2="1990.57" y2="290" stroke="#1a1a1a" stroke-width="1.3" />
<line x1="2001.4" y1="296.5" x2="2001.4" y2="290" stroke="#1a1a1a" stroke-width="1.3" />
<line x1="2012.23" y1="296.5" x2="2012.23" y2="290" stroke="#1a1a1a" stroke-width="1.3" />
<line x1="2023.06" y1="296.5" x2="2023.06" y2="290" stroke="#1a1a1a" stroke-width="1.3" />
<line x1="2033.89" y1="296.5" x2="2033.89" y2="290" stroke="#1a1a1a" stroke-width="1.3" />
<text transform="translate(1782,57.6)" font-family="&quot;Liberation Sans&quot;, Arial, Helvetica, sans-serif" font-size="19.5" font-weight="bold" font-style="normal" text-anchor="start" fill="#000" >(f)</text>
<line x1="1857" y1="41.8" x2="1887.3" y2="41.8" stroke="#ff0000" stroke-width="1.5" stroke-opacity="0.55"/>
<path d="M1866.4,36.2L1877.6,47.4M1866.4,47.4L1877.6,36.2" stroke="#ff0000" stroke-width="1.4" stroke-opacity="0.55" fill="none"/>
<text transform="translate(1898.1,46.8)" font-family="&quot;Liberation Sans&quot;, Arial, Helvetica, sans-serif" font-size="14" font-weight="normal" font-style="normal" text-anchor="start" fill="#000" >D0</text>
<line x1="1857" y1="62.2" x2="1887.3" y2="62.2" stroke="#0000ff" stroke-width="1.5" stroke-opacity="0.55"/>
<path d="M1866.4,56.6L1877.6,67.8M1866.4,67.8L1877.6,56.6" stroke="#0000ff" stroke-width="1.4" stroke-opacity="0.55" fill="none"/>
<text transform="translate(1898.1,67.2)" font-family="&quot;Liberation Sans&quot;, Arial, Helvetica, sans-serif" font-size="14" font-weight="normal" font-style="normal" text-anchor="start" fill="#000" >D1</text>
<line x1="1857" y1="82.6" x2="1887.3" y2="82.6" stroke="#008000" stroke-width="1.5" stroke-opacity="0.55"/>
<path d="M1866.4,77L1877.6,88.2M1866.4,88.2L1877.6,77" stroke="#008000" stroke-width="1.4" stroke-opacity="0.55" fill="none"/>
<text transform="translate(1898.1,87.6)" font-family="&quot;Liberation Sans&quot;, Arial, Helvetica, sans-serif" font-size="14" font-weight="normal" font-style="normal" text-anchor="start" fill="#000" >D2</text>
<line x1="1944.2" y1="41.8" x2="1975" y2="41.8" stroke="#ffa500" stroke-width="1.5" stroke-opacity="0.55"/>
<path d="M1954,36.2L1965.2,47.4M1954,47.4L1965.2,36.2" stroke="#ffa500" stroke-width="1.4" stroke-opacity="0.55" fill="none"/>
<text transform="translate(1985.8,46.8)" font-family="&quot;Liberation Sans&quot;, Arial, Helvetica, sans-serif" font-size="14" font-weight="normal" font-style="normal" text-anchor="start" fill="#000" >D3</text>
<line x1="1944.2" y1="62.2" x2="1975" y2="62.2" stroke="#000" stroke-width="2.2" />
<text transform="translate(1985.8,67.2)" font-family="&quot;Liberation Sans&quot;, Arial, Helvetica, sans-serif" font-size="14" font-weight="normal" font-style="normal" text-anchor="start" fill="#000" >Mean A</text>
<rect x="1772.1" y="304.2" width="275.3" height="272.1" fill="#ffffff" stroke="none" stroke-width="0" />
<polyline points="1784.8,546.91 1795.63,552.9 1806.46,546.91 1817.29,563.78 1828.12,544.19 1838.95,555.08 1849.78,550.18 1860.61,545.82 1871.44,550.18 1882.27,552.9 1893.1,556.16 1903.93,551.81 1914.76,549.09 1925.59,555.62 1936.42,544.19 1947.25,546.91 1958.08,549.09 1968.91,551.81 1979.74,555.62 1990.57,545.82 2001.4,549.09 2012.23,550.18 2023.06,555.62" fill="none" stroke="#ff0000" stroke-opacity="0.55" stroke-width="1.5"/>
<line x1="2023.06" y1="555.62" x2="2033.89" y2="542.02" stroke="#ff0000" stroke-width="1.5" stroke-opacity="0.55"/>
<path d="M1778.8,540.91L1790.8,552.91M1778.8,552.91L1790.8,540.91" stroke="#ff0000" stroke-width="1.4" stroke-opacity="0.55" fill="none"/>
<path d="M1789.63,546.9L1801.63,558.9M1789.63,558.9L1801.63,546.9" stroke="#ff0000" stroke-width="1.4" stroke-opacity="0.55" fill="none"/>
<path d="M1800.46,540.91L1812.46,552.91M1800.46,552.91L1812.46,540.91" stroke="#ff0000" stroke-width="1.4" stroke-opacity="0.55" fill="none"/>
<path d="M1811.29,557.78L1823.29,569.78M1811.29,569.78L1823.29,557.78" stroke="#ff0000" stroke-width="1.4" stroke-opacity="0.55" fill="none"/>
<path d="M1822.12,538.19L1834.12,550.19M1822.12,550.19L1834.12,538.19" stroke="#ff0000" stroke-width="1.4" stroke-opacity="0.55" fill="none"/>
<path d="M1832.95,549.08L1844.95,561.08M1832.95,561.08L1844.95,549.08" stroke="#ff0000" stroke-width="1.4" stroke-opacity="0.55" fill="none"/>
<path d="M1843.78,544.18L1855.78,556.18M1843.78,556.18L1855.78,544.18" stroke="#ff0000" stroke-width="1.4" stroke-opacity="0.55" fill="none"/>
<path d="M1854.61,539.82L1866.61,551.82M1854.61,551.82L1866.61,539.82" stroke="#ff0000" stroke-width="1.4" stroke-opacity="0.55" fill="none"/>
<path d="M1865.44,544.18L1877.44,556.18M1865.44,556.18L1877.44,544.18" stroke="#ff0000" stroke-width="1.4" stroke-opacity="0.55" fill="none"/>
<path d="M1876.27,546.9L1888.27,558.9M1876.27,558.9L1888.27,546.9" stroke="#ff0000" stroke-width="1.4" stroke-opacity="0.55" fill="none"/>
<path d="M1887.1,550.16L1899.1,562.16M1887.1,562.16L1899.1,550.16" stroke="#ff0000" stroke-width="1.4" stroke-opacity="0.55" fill="none"/>
<path d="M1897.93,545.81L1909.93,557.81M1897.93,557.81L1909.93,545.81" stroke="#ff0000" stroke-width="1.4" stroke-opacity="0.55" fill="none"/>
<path d="M1908.76,543.09L1920.76,555.09M1908.76,555.09L1920.76,543.09" stroke="#ff0000" stroke-width="1.4" stroke-opacity="0.55" fill="none"/>
<path d="M1919.59,549.62L1931.59,561.62M1919.59,561.62L1931.59,549.62" stroke="#ff0000" stroke-width="1.4" stroke-opacity="0.55" fill="none"/>
<path d="M1930.42,538.19L1942.42,550.19M1930.42,550.19L1942.42,538.19" stroke="#ff0000" stroke-width="1.4" stroke-opacity="0.55" fill="none"/>
<path d="M1941.25,540.91L1953.25,552.91M1941.25,552.91L1953.25,540.91" stroke="#ff0000" stroke-width="1.4" stroke-opacity="0.55" fill="none"/>
<path d="M1952.08,543.09L1964.08,555.09M1952.08,555.09L1964.08,543.09" stroke="#ff0000" stroke-width="1.4" stroke-opacity="0.55" fill="none"/>
<path d="M1962.91,545.81L1974.91,557.81M1962.91,557.81L1974.91,545.81" stroke="#ff0000" stroke-width="1.4" stroke-opacity="0.55" fill="none"/>
<path d="M1973.74,549.62L1985.74,561.62M1973.74,561.62L1985.74,549.62" stroke="#ff0000" stroke-width="1.4" stroke-opacity="0.55" fill="none"/>
<path d="M1984.57,539.82L1996.57,551.82M1984.57,551.82L1996.57,539.82" stroke="#ff0000" stroke-width="1.4" stroke-opacity="0.55" fill="none"/>
<path d="M1995.4,543.09L2007.4,555.09M1995.4,555.09L2007.4,543.09" stroke="#ff0000" stroke-width="1.4" stroke-opacity="0.55" fill="none"/>
<path d="M2006.23,544.18L2018.23,556.18M2006.23,556.18L2018.23,544.18" stroke="#ff0000" stroke-width="1.4" stroke-opacity="0.55" fill="none"/>
<path d="M2017.06,549.62L2029.06,561.62M2017.06,561.62L2029.06,549.62" stroke="#ff0000" stroke-width="1.4" stroke-opacity="0.55" fill="none"/>
<polyline points="1784.8,564.33 1795.63,504.47 1806.46,556.71 1817.29,529.5 1828.12,514.26 1838.95,562.15 1849.78,565.42 1860.61,567.59 1871.44,542.02 1882.27,556.71 1893.1,564.33 1903.93,557.8 1914.76,559.43 1925.59,568.14 1936.42,559.97 1947.25,559.43 1958.08,559.43 1968.91,555.62 1979.74,562.69 1990.57,555.62 2001.4,567.59 2012.23,561.06 2023.06,568.14" fill="none" stroke="#0000ff" stroke-opacity="0.55" stroke-width="1.5"/>
<line x1="2023.06" y1="568.14" x2="2033.89" y2="559.43" stroke="#0000ff" stroke-width="1.5" stroke-opacity="0.55"/>
<path d="M1778.8,558.33L1790.8,570.33M1778.8,570.33L1790.8,558.33" stroke="#0000ff" stroke-width="1.4" stroke-opacity="0.55" fill="none"/>
<path d="M1789.63,498.47L1801.63,510.47M1789.63,510.47L1801.63,498.47" stroke="#0000ff" stroke-width="1.4" stroke-opacity="0.55" fill="none"/>
<path d="M1800.46,550.71L1812.46,562.71M1800.46,562.71L1812.46,550.71" stroke="#0000ff" stroke-width="1.4" stroke-opacity="0.55" fill="none"/>
<path d="M1811.29,523.5L1823.29,535.5M1811.29,535.5L1823.29,523.5" stroke="#0000ff" stroke-width="1.4" stroke-opacity="0.55" fill="none"/>
<path d="M1822.12,508.26L1834.12,520.26M1822.12,520.26L1834.12,508.26" stroke="#0000ff" stroke-width="1.4" stroke-opacity="0.55" fill="none"/>
<path d="M1832.95,556.15L1844.95,568.15M1832.95,568.15L1844.95,556.15" stroke="#0000ff" stroke-width="1.4" stroke-opacity="0.55" fill="none"/>
<path d="M1843.78,559.42L1855.78,571.42M1843.78,571.42L1855.78,559.42" stroke="#0000ff" stroke-width="1.4" stroke-opacity="0.55" fill="none"/>
<path d="M1854.61,561.59L1866.61,573.59M1854.61,573.59L1866.61,561.59" stroke="#0000ff" stroke-width="1.4" stroke-opacity="0.55" fill="none"/>
<path d="M1865.44,536.02L1877.44,548.02M1865.44,548.02L1877.44,536.02" stroke="#0000ff" stroke-width="1.4" stroke-opacity="0.55" fill="none"/>
<path d="M1876.27,550.71L1888.27,562.71M1876.27,562.71L1888.27,550.71" stroke="#0000ff" stroke-width="1.4" stroke-opacity="0.55" fill="none"/>
<path d="M1887.1,558.33L1899.1,570.33M1887.1,570.33L1899.1,558.33" stroke="#0000ff" stroke-width="1.4" stroke-opacity="0.55" fill="none"/>
<path d="M1897.93,551.8L1909.93,563.8M1897.93,563.8L1909.93,551.8" stroke="#0000ff" stroke-width="1.4" stroke-opacity="0.55" fill="none"/>
<path d="M1908.76,553.43L1920.76,565.43M1908.76,565.43L1920.76,553.43" stroke="#0000ff" stroke-width="1.4" stroke-opacity="0.55" fill="none"/>
<path d="M1919.59,562.14L1931.59,574.14M1919.59,574.14L1931.59,562.14" stroke="#0000ff" stroke-width="1.4" stroke-opacity="0.55" fill="none"/>
<path d="M1930.42,553.97L1942.42,565.97M1930.42,565.97L1942.42,553.97" stroke="#0000ff" stroke-width="1.4" stroke-opacity="0.55" fill="none"/>
<path d="M1941.25,553.43L1953.25,565.43M1941.25,565.43L1953.25,553.43" stroke="#0000ff" stroke-width="1.4" stroke-opacity="0.55" fill="none"/>
<path d="M1952.08,553.43L1964.08,565.43M1952.08,565.43L1964.08,553.43" stroke="#0000ff" stroke-width="1.4" stroke-opacity="0.55" fill="none"/>
<path d="M1962.91,549.62L1974.91,561.62M1962.91,561.62L1974.91,549.62" stroke="#0000ff" stroke-width="1.4" stroke-opacity="0.55" fill="none"/>
<path d="M1973.74,556.69L1985.74,568.69M1973.74,568.69L1985.74,556.69" stroke="#0000ff" stroke-width="1.4" stroke-opacity="0.55" fill="none"/>
<path d="M1984.57,549.62L1996.57,561.62M1984.57,561.62L1996.57,549.62" stroke="#0000ff" stroke-width="1.4" stroke-opacity="0.55" fill="none"/>
<path d="M1995.4,561.59L2007.4,573.59M1995.4,573.59L2007.4,561.59" stroke="#0000ff" stroke-width="1.4" stroke-opacity="0.55" fill="none"/>
<path d="M2006.23,555.06L2018.23,567.06M2006.23,567.06L2018.23,555.06" stroke="#0000ff" stroke-width="1.4" stroke-opacity="0.55" fill="none"/>
<path d="M2017.06,562.14L2029.06,574.14M2017.06,574.14L2029.06,562.14" stroke="#0000ff" stroke-width="1.4" stroke-opacity="0.55" fill="none"/>
<polyline points="1784.8,467.46 1795.63,500.66 1806.46,485.96 1817.29,476.17 1828.12,496.85 1838.95,483.24 1849.78,491.95 1860.61,515.89 1871.44,478.34 1882.27,494.67 1893.1,485.96 1903.93,491.95 1914.76,491.95 1925.59,515.89 1936.42,483.24 1947.25,493.04 1958.08,500.66 1968.91,489.23 1979.74,503.38 1990.57,494.67 2001.4,495.76 2012.23,489.23 2023.06,494.67" fill="none" stroke="#008000" stroke-opacity="0.55" stroke-width="1.5"/>
<line x1="2023.06" y1="494.67" x2="2033.89" y2="494.67" stroke="#008000" stroke-width="1.5" stroke-opacity="0.55"/>
<path d="M1778.8,461.46L1790.8,473.46M1778.8,473.46L1790.8,461.46" stroke="#008000" stroke-width="1.4" stroke-opacity="0.55" fill="none"/>
<path d="M1789.63,494.66L1801.63,506.66M1789.63,506.66L1801.63,494.66" stroke="#008000" stroke-width="1.4" stroke-opacity="0.55" fill="none"/>
<path d="M1800.46,479.96L1812.46,491.96M1800.46,491.96L1812.46,479.96" stroke="#008000" stroke-width="1.4" stroke-opacity="0.55" fill="none"/>
<path d="M1811.29,470.17L1823.29,482.17M1811.29,482.17L1823.29,470.17" stroke="#008000" stroke-width="1.4" stroke-opacity="0.55" fill="none"/>
<path d="M1822.12,490.85L1834.12,502.85M1822.12,502.85L1834.12,490.85" stroke="#008000" stroke-width="1.4" stroke-opacity="0.55" fill="none"/>
<path d="M1832.95,477.24L1844.95,489.24M1832.95,489.24L1844.95,477.24" stroke="#008000" stroke-width="1.4" stroke-opacity="0.55" fill="none"/>
<path d="M1843.78,485.95L1855.78,497.95M1843.78,497.95L1855.78,485.95" stroke="#008000" stroke-width="1.4" stroke-opacity="0.55" fill="none"/>
<path d="M1854.61,509.89L1866.61,521.89M1854.61,521.89L1866.61,509.89" stroke="#008000" stroke-width="1.4" stroke-opacity="0.55" fill="none"/>
<path d="M1865.44,472.34L1877.44,484.34M1865.44,484.34L1877.44,472.34" stroke="#008000" stroke-width="1.4" stroke-opacity="0.55" fill="none"/>
<path d="M1876.27,488.67L1888.27,500.67M1876.27,500.67L1888.27,488.67" stroke="#008000" stroke-width="1.4" stroke-opacity="0.55" fill="none"/>
<path d="M1887.1,479.96L1899.1,491.96M1887.1,491.96L1899.1,479.96" stroke="#008000" stroke-width="1.4" stroke-opacity="0.55" fill="none"/>
<path d="M1897.93,485.95L1909.93,497.95M1897.93,497.95L1909.93,485.95" stroke="#008000" stroke-width="1.4" stroke-opacity="0.55" fill="none"/>
<path d="M1908.76,485.95L1920.76,497.95M1908.76,497.95L1920.76,485.95" stroke="#008000" stroke-width="1.4" stroke-opacity="0.55" fill="none"/>
<path d="M1919.59,509.89L1931.59,521.89M1919.59,521.89L1931.59,509.89" stroke="#008000" stroke-width="1.4" stroke-opacity="0.55" fill="none"/>
<path d="M1930.42,477.24L1942.42,489.24M1930.42,489.24L1942.42,477.24" stroke="#008000" stroke-width="1.4" stroke-opacity="0.55" fill="none"/>
<path d="M1941.25,487.04L1953.25,499.04M1941.25,499.04L1953.25,487.04" stroke="#008000" stroke-width="1.4" stroke-opacity="0.55" fill="none"/>
<path d="M1952.08,494.66L1964.08,506.66M1952.08,506.66L1964.08,494.66" stroke="#008000" stroke-width="1.4" stroke-opacity="0.55" fill="none"/>
<path d="M1962.91,483.23L1974.91,495.23M1962.91,495.23L1974.91,483.23" stroke="#008000" stroke-width="1.4" stroke-opacity="0.55" fill="none"/>
<path d="M1973.74,497.38L1985.74,509.38M1973.74,509.38L1985.74,497.38" stroke="#008000" stroke-width="1.4" stroke-opacity="0.55" fill="none"/>
<path d="M1984.57,488.67L1996.57,500.67M1984.57,500.67L1996.57,488.67" stroke="#008000" stroke-width="1.4" stroke-opacity="0.55" fill="none"/>
<path d="M1995.4,489.76L2007.4,501.76M1995.4,501.76L2007.4,489.76" stroke="#008000" stroke-width="1.4" stroke-opacity="0.55" fill="none"/>
<path d="M2006.23,483.23L2018.23,495.23M2006.23,495.23L2018.23,483.23" stroke="#008000" stroke-width="1.4" stroke-opacity="0.55" fill="none"/>
<path d="M2017.06,488.67L2029.06,500.67M2017.06,500.67L2029.06,488.67" stroke="#008000" stroke-width="1.4" stroke-opacity="0.55" fill="none"/>
<polyline points="1784.8,454.94 1795.63,460.93 1806.46,487.05 1817.29,440.79 1828.12,459.3 1838.95,465.83 1849.78,479.43 1860.61,482.15 1871.44,493.58 1882.27,507.19 1893.1,485.96 1903.93,501.74 1914.76,470.73 1925.59,477.26 1936.42,459.84 1947.25,470.73 1958.08,452.22 1968.91,489.77 1979.74,469.64 1990.57,464.74 2001.4,467.46 2012.23,479.43 2023.06,454.94" fill="none" stroke="#ffa500" stroke-opacity="0.55" stroke-width="1.5"/>
<line x1="2023.06" y1="454.94" x2="2033.89" y2="447.32" stroke="#ffa500" stroke-width="1.5" stroke-opacity="0.55"/>
<path d="M1778.8,448.94L1790.8,460.94M1778.8,460.94L1790.8,448.94" stroke="#ffa500" stroke-width="1.4" stroke-opacity="0.55" fill="none"/>
<path d="M1789.63,454.93L1801.63,466.93M1789.63,466.93L1801.63,454.93" stroke="#ffa500" stroke-width="1.4" stroke-opacity="0.55" fill="none"/>
<path d="M1800.46,481.05L1812.46,493.05M1800.46,493.05L1812.46,481.05" stroke="#ffa500" stroke-width="1.4" stroke-opacity="0.55" fill="none"/>
<path d="M1811.29,434.79L1823.29,446.79M1811.29,446.79L1823.29,434.79" stroke="#ffa500" stroke-width="1.4" stroke-opacity="0.55" fill="none"/>
<path d="M1822.12,453.3L1834.12,465.3M1822.12,465.3L1834.12,453.3" stroke="#ffa500" stroke-width="1.4" stroke-opacity="0.55" fill="none"/>
<path d="M1832.95,459.83L1844.95,471.83M1832.95,471.83L1844.95,459.83" stroke="#ffa500" stroke-width="1.4" stroke-opacity="0.55" fill="none"/>
<path d="M1843.78,473.43L1855.78,485.43M1843.78,485.43L1855.78,473.43" stroke="#ffa500" stroke-width="1.4" stroke-opacity="0.55" fill="none"/>
<path d="M1854.61,476.15L1866.61,488.15M1854.61,488.15L1866.61,476.15" stroke="#ffa500" stroke-width="1.4" stroke-opacity="0.55" fill="none"/>
<path d="M1865.44,487.58L1877.44,499.58M1865.44,499.58L1877.44,487.58" stroke="#ffa500" stroke-width="1.4" stroke-opacity="0.55" fill="none"/>
<path d="M1876.27,501.19L1888.27,513.19M1876.27,513.19L1888.27,501.19" stroke="#ffa500" stroke-width="1.4" stroke-opacity="0.55" fill="none"/>
<path d="M1887.1,479.96L1899.1,491.96M1887.1,491.96L1899.1,479.96" stroke="#ffa500" stroke-width="1.4" stroke-opacity="0.55" fill="none"/>
<path d="M1897.93,495.74L1909.93,507.74M1897.93,507.74L1909.93,495.74" stroke="#ffa500" stroke-width="1.4" stroke-opacity="0.55" fill="none"/>
<path d="M1908.76,464.73L1920.76,476.73M1908.76,476.73L1920.76,464.73" stroke="#ffa500" stroke-width="1.4" stroke-opacity="0.55" fill="none"/>
<path d="M1919.59,471.26L1931.59,483.26M1919.59,483.26L1931.59,471.26" stroke="#ffa500" stroke-width="1.4" stroke-opacity="0.55" fill="none"/>
<path d="M1930.42,453.84L1942.42,465.84M1930.42,465.84L1942.42,453.84" stroke="#ffa500" stroke-width="1.4" stroke-opacity="0.55" fill="none"/>
<path d="M1941.25,464.73L1953.25,476.73M1941.25,476.73L1953.25,464.73" stroke="#ffa500" stroke-width="1.4" stroke-opacity="0.55" fill="none"/>
<path d="M1952.08,446.22L1964.08,458.22M1952.08,458.22L1964.08,446.22" stroke="#ffa500" stroke-width="1.4" stroke-opacity="0.55" fill="none"/>
<path d="M1962.91,483.77L1974.91,495.77M1962.91,495.77L1974.91,483.77" stroke="#ffa500" stroke-width="1.4" stroke-opacity="0.55" fill="none"/>
<path d="M1973.74,463.64L1985.74,475.64M1973.74,475.64L1985.74,463.64" stroke="#ffa500" stroke-width="1.4" stroke-opacity="0.55" fill="none"/>
<path d="M1984.57,458.74L1996.57,470.74M1984.57,470.74L1996.57,458.74" stroke="#ffa500" stroke-width="1.4" stroke-opacity="0.55" fill="none"/>
<path d="M1995.4,461.46L2007.4,473.46M1995.4,473.46L2007.4,461.46" stroke="#ffa500" stroke-width="1.4" stroke-opacity="0.55" fill="none"/>
<path d="M2006.23,473.43L2018.23,485.43M2006.23,485.43L2018.23,473.43" stroke="#ffa500" stroke-width="1.4" stroke-opacity="0.55" fill="none"/>
<path d="M2017.06,448.94L2029.06,460.94M2017.06,460.94L2029.06,448.94" stroke="#ffa500" stroke-width="1.4" stroke-opacity="0.55" fill="none"/>
<line x1="1772.1" y1="514.48" x2="2047.4" y2="514.48" stroke="#000" stroke-width="2.2" />
<path d="M2028.19,553.13L2040.79,565.73M2028.19,565.73L2040.79,553.13" stroke="#0000c8" stroke-width="2.8" stroke-opacity="1.0" fill="none"/>
<path d="M2028.19,488.37L2040.79,500.97M2028.19,500.97L2040.79,488.37" stroke="#006400" stroke-width="2.8" stroke-opacity="1.0" fill="none"/>
<path d="M2028.19,441.02L2040.79,453.62M2028.19,453.62L2040.79,441.02" stroke="#f0a000" stroke-width="2.8" stroke-opacity="1.0" fill="none"/>
<path d="M2028.19,535.72L2040.79,548.32M2028.19,548.32L2040.79,535.72" stroke="#e00000" stroke-width="2.8" stroke-opacity="1.0" fill="none"/>
<rect x="1772.1" y="304.2" width="275.3" height="272.1" fill="none" stroke="#1a1a1a" stroke-width="1.6" />
<line x1="1772.1" y1="576.3" x2="1779.1" y2="576.3" stroke="#1a1a1a" stroke-width="1.3" />
<text transform="translate(1764.3,581.3)" font-family="&quot;Liberation Sans&quot;, Arial, Helvetica, sans-serif" font-size="14" font-weight="normal" font-style="normal" text-anchor="end" fill="#000" >0.00</text>
<line x1="1772.1" y1="521.88" x2="1779.1" y2="521.88" stroke="#1a1a1a" stroke-width="1.3" />
<text transform="translate(1764.3,526.88)" font-family="&quot;Liberation Sans&quot;, Arial, Helvetica, sans-serif" font-size="14" font-weight="normal" font-style="normal" text-anchor="end" fill="#000" >0.01</text>
<line x1="1772.1" y1="467.46" x2="1779.1" y2="467.46" stroke="#1a1a1a" stroke-width="1.3" />
<text transform="translate(1764.3,472.46)" font-family="&quot;Liberation Sans&quot;, Arial, Helvetica, sans-serif" font-size="14" font-weight="normal" font-style="normal" text-anchor="end" fill="#000" >0.02</text>
<line x1="1772.1" y1="413.04" x2="1779.1" y2="413.04" stroke="#1a1a1a" stroke-width="1.3" />
<text transform="translate(1764.3,418.04)" font-family="&quot;Liberation Sans&quot;, Arial, Helvetica, sans-serif" font-size="14" font-weight="normal" font-style="normal" text-anchor="end" fill="#000" >0.03</text>
<line x1="1772.1" y1="358.62" x2="1779.1" y2="358.62" stroke="#1a1a1a" stroke-width="1.3" />
<text transform="translate(1764.3,363.62)" font-family="&quot;Liberation Sans&quot;, Arial, Helvetica, sans-serif" font-size="14" font-weight="normal" font-style="normal" text-anchor="end" fill="#000" >0.04</text>
<line x1="1772.1" y1="304.2" x2="1779.1" y2="304.2" stroke="#1a1a1a" stroke-width="1.3" />
<text transform="translate(1764.3,314.4)" font-family="&quot;Liberation Sans&quot;, Arial, Helvetica, sans-serif" font-size="14" font-weight="normal" font-style="normal" text-anchor="end" fill="#000" >0.05</text>
<line x1="1784.8" y1="576.3" x2="1784.8" y2="569.8" stroke="#1a1a1a" stroke-width="1.3" />
<line x1="1795.63" y1="576.3" x2="1795.63" y2="569.8" stroke="#1a1a1a" stroke-width="1.3" />
<line x1="1806.46" y1="576.3" x2="1806.46" y2="569.8" stroke="#1a1a1a" stroke-width="1.3" />
<line x1="1817.29" y1="576.3" x2="1817.29" y2="569.8" stroke="#1a1a1a" stroke-width="1.3" />
<line x1="1828.12" y1="576.3" x2="1828.12" y2="569.8" stroke="#1a1a1a" stroke-width="1.3" />
<line x1="1838.95" y1="576.3" x2="1838.95" y2="569.8" stroke="#1a1a1a" stroke-width="1.3" />
<line x1="1849.78" y1="576.3" x2="1849.78" y2="569.8" stroke="#1a1a1a" stroke-width="1.3" />
<line x1="1860.61" y1="576.3" x2="1860.61" y2="569.8" stroke="#1a1a1a" stroke-width="1.3" />
<line x1="1871.44" y1="576.3" x2="1871.44" y2="569.8" stroke="#1a1a1a" stroke-width="1.3" />
<line x1="1882.27" y1="576.3" x2="1882.27" y2="569.8" stroke="#1a1a1a" stroke-width="1.3" />
<line x1="1893.1" y1="576.3" x2="1893.1" y2="569.8" stroke="#1a1a1a" stroke-width="1.3" />
<line x1="1903.93" y1="576.3" x2="1903.93" y2="569.8" stroke="#1a1a1a" stroke-width="1.3" />
<line x1="1914.76" y1="576.3" x2="1914.76" y2="569.8" stroke="#1a1a1a" stroke-width="1.3" />
<line x1="1925.59" y1="576.3" x2="1925.59" y2="569.8" stroke="#1a1a1a" stroke-width="1.3" />
<line x1="1936.42" y1="576.3" x2="1936.42" y2="569.8" stroke="#1a1a1a" stroke-width="1.3" />
<line x1="1947.25" y1="576.3" x2="1947.25" y2="569.8" stroke="#1a1a1a" stroke-width="1.3" />
<line x1="1958.08" y1="576.3" x2="1958.08" y2="569.8" stroke="#1a1a1a" stroke-width="1.3" />
<line x1="1968.91" y1="576.3" x2="1968.91" y2="569.8" stroke="#1a1a1a" stroke-width="1.3" />
<line x1="1979.74" y1="576.3" x2="1979.74" y2="569.8" stroke="#1a1a1a" stroke-width="1.3" />
<line x1="1990.57" y1="576.3" x2="1990.57" y2="569.8" stroke="#1a1a1a" stroke-width="1.3" />
<line x1="2001.4" y1="576.3" x2="2001.4" y2="569.8" stroke="#1a1a1a" stroke-width="1.3" />
<line x1="2012.23" y1="576.3" x2="2012.23" y2="569.8" stroke="#1a1a1a" stroke-width="1.3" />
<line x1="2023.06" y1="576.3" x2="2023.06" y2="569.8" stroke="#1a1a1a" stroke-width="1.3" />
<line x1="2033.89" y1="576.3" x2="2033.89" y2="569.8" stroke="#1a1a1a" stroke-width="1.3" />
<text transform="translate(1782,326.4)" font-family="&quot;Liberation Sans&quot;, Arial, Helvetica, sans-serif" font-size="19.5" font-weight="bold" font-style="normal" text-anchor="start" fill="#000" >(g)</text>
<line x1="1857" y1="322.1" x2="1887.3" y2="322.1" stroke="#ff0000" stroke-width="1.5" stroke-opacity="0.55"/>
<path d="M1866.4,316.5L1877.6,327.7M1866.4,327.7L1877.6,316.5" stroke="#ff0000" stroke-width="1.4" stroke-opacity="0.55" fill="none"/>
<text transform="translate(1898.1,327.1)" font-family="&quot;Liberation Sans&quot;, Arial, Helvetica, sans-serif" font-size="14" font-weight="normal" font-style="normal" text-anchor="start" fill="#000" >D0</text>
<line x1="1857" y1="342.5" x2="1887.3" y2="342.5" stroke="#0000ff" stroke-width="1.5" stroke-opacity="0.55"/>
<path d="M1866.4,336.9L1877.6,348.1M1866.4,348.1L1877.6,336.9" stroke="#0000ff" stroke-width="1.4" stroke-opacity="0.55" fill="none"/>
<text transform="translate(1898.1,347.5)" font-family="&quot;Liberation Sans&quot;, Arial, Helvetica, sans-serif" font-size="14" font-weight="normal" font-style="normal" text-anchor="start" fill="#000" >D1</text>
<line x1="1857" y1="362.9" x2="1887.3" y2="362.9" stroke="#008000" stroke-width="1.5" stroke-opacity="0.55"/>
<path d="M1866.4,357.3L1877.6,368.5M1866.4,368.5L1877.6,357.3" stroke="#008000" stroke-width="1.4" stroke-opacity="0.55" fill="none"/>
<text transform="translate(1898.1,367.9)" font-family="&quot;Liberation Sans&quot;, Arial, Helvetica, sans-serif" font-size="14" font-weight="normal" font-style="normal" text-anchor="start" fill="#000" >D2</text>
<line x1="1944.2" y1="322.1" x2="1975" y2="322.1" stroke="#ffa500" stroke-width="1.5" stroke-opacity="0.55"/>
<path d="M1954,316.5L1965.2,327.7M1954,327.7L1965.2,316.5" stroke="#ffa500" stroke-width="1.4" stroke-opacity="0.55" fill="none"/>
<text transform="translate(1985.8,327.1)" font-family="&quot;Liberation Sans&quot;, Arial, Helvetica, sans-serif" font-size="14" font-weight="normal" font-style="normal" text-anchor="start" fill="#000" >D3</text>
<line x1="1944.2" y1="342.5" x2="1975" y2="342.5" stroke="#000" stroke-width="2.2" />
<text transform="translate(1985.8,347.5)" font-family="&quot;Liberation Sans&quot;, Arial, Helvetica, sans-serif" font-size="14" font-weight="normal" font-style="normal" text-anchor="start" fill="#000" >Mean A</text>
<text transform="translate(1723.5,160)" font-family="&quot;Liberation Serif&quot;, &quot;DejaVu Serif&quot;, serif" font-size="22" font-weight="normal" font-style="italic" text-anchor="middle" fill="#000" style="stroke-width:0">p</text>
<text transform="translate(1723,442)" font-family="&quot;Liberation Serif&quot;, &quot;DejaVu Serif&quot;, serif" font-size="22" font-weight="normal" font-style="italic" text-anchor="middle" fill="#000" style="stroke-width:0">q</text>
<text transform="translate(2046.2,611.8)" font-family="&quot;Liberation Sans&quot;, Arial, Helvetica, sans-serif" font-size="18" font-weight="normal" font-style="normal" text-anchor="end" fill="#000" >Time</text>
</svg></body></html>
